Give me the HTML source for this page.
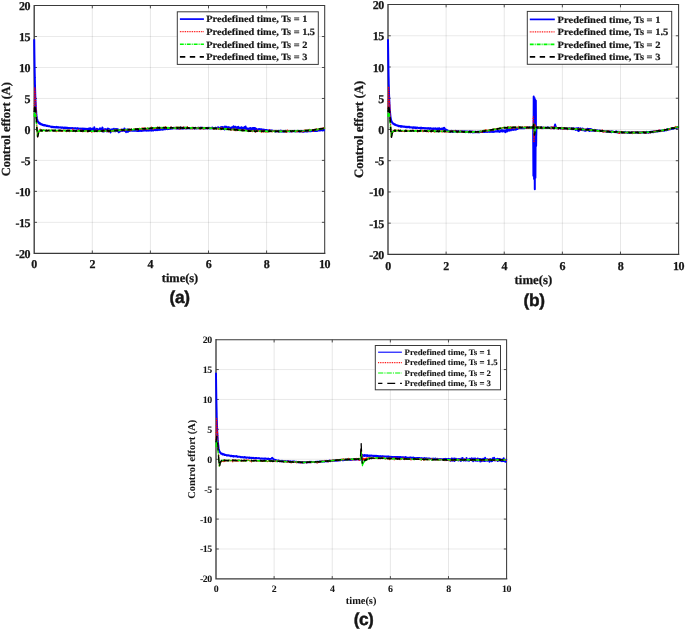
<!DOCTYPE html>
<html><head><meta charset="utf-8"><title>Control effort</title>
<style>html,body{margin:0;padding:0;background:#fff}svg{display:block}</style></head>
<body>
<svg width="685" height="630" viewBox="0 0 685 630" text-rendering="geometricPrecision" font-family='"Liberation Serif", "DejaVu Serif", serif'>
<rect width="685" height="630" fill="#fff"/>
<g>
<line x1="92.30" y1="5.55" x2="92.30" y2="253.30" stroke="#000" stroke-opacity="0.135" stroke-width="0.75"/>
<line x1="150.40" y1="5.55" x2="150.40" y2="253.30" stroke="#000" stroke-opacity="0.135" stroke-width="0.75"/>
<line x1="208.50" y1="5.55" x2="208.50" y2="253.30" stroke="#000" stroke-opacity="0.135" stroke-width="0.75"/>
<line x1="266.60" y1="5.55" x2="266.60" y2="253.30" stroke="#000" stroke-opacity="0.135" stroke-width="0.75"/>
<line x1="34.20" y1="36.52" x2="324.70" y2="36.52" stroke="#000" stroke-opacity="0.135" stroke-width="0.65"/>
<line x1="34.20" y1="67.49" x2="324.70" y2="67.49" stroke="#000" stroke-opacity="0.135" stroke-width="0.65"/>
<line x1="34.20" y1="98.46" x2="324.70" y2="98.46" stroke="#000" stroke-opacity="0.135" stroke-width="0.65"/>
<line x1="34.20" y1="129.43" x2="324.70" y2="129.43" stroke="#000" stroke-opacity="0.135" stroke-width="0.65"/>
<line x1="34.20" y1="160.39" x2="324.70" y2="160.39" stroke="#000" stroke-opacity="0.135" stroke-width="0.65"/>
<line x1="34.20" y1="191.36" x2="324.70" y2="191.36" stroke="#000" stroke-opacity="0.135" stroke-width="0.65"/>
<line x1="34.20" y1="222.33" x2="324.70" y2="222.33" stroke="#000" stroke-opacity="0.135" stroke-width="0.65"/>
<path d="M34.20 5.55H324.70V253.30" fill="none" stroke="#3a3a3a" stroke-width="1.05"/>
<path d="M34.20 5.55V253.30H324.70" fill="none" stroke="#3a3a3a" stroke-width="1.35" stroke-linecap="square"/>
<path d="M92.30 253.30v-2.80M92.30 5.55v2.80M150.40 253.30v-2.80M150.40 5.55v2.80M208.50 253.30v-2.80M208.50 5.55v2.80M266.60 253.30v-2.80M266.60 5.55v2.80M34.20 36.52h2.80M324.70 36.52h-2.80M34.20 67.49h2.80M324.70 67.49h-2.80M34.20 98.46h2.80M324.70 98.46h-2.80M34.20 129.43h2.80M324.70 129.43h-2.80M34.20 160.39h2.80M324.70 160.39h-2.80M34.20 191.36h2.80M324.70 191.36h-2.80M34.20 222.33h2.80M324.70 222.33h-2.80" fill="none" stroke="#3a3a3a" stroke-width="0.9"/>
<clipPath id="clipa"><rect x="33.00" y="5.55" width="292.70" height="247.75"/></clipPath>
<g clip-path="url(#clipa)" fill="none" stroke-linejoin="round">
<path d="M34.2 39.3L34.3 47.8L34.4 54.8L34.5 61.4L34.6 67.6L34.7 72.8L34.8 77.3L34.8 77.9L34.9 81.8L34.9 83.5L35.0 86.1L35.1 89.5L35.2 92.6L35.3 95.7L35.4 98.3L35.5 100.9L35.6 102.7L35.7 104.4L35.7 104.7L35.8 106.8L35.9 107.8L35.9 109.3L36.0 109.7L36.1 110.5L36.2 112.1L36.3 113.4L36.4 114.2L36.5 115.4L36.6 115.6L36.6 116.6L36.7 116.8L36.7 117.0L36.8 117.9L36.8 117.7L36.9 118.7L37.0 119.0L37.1 119.5L37.2 119.4L37.3 119.7L37.4 120.5L37.5 120.5L37.5 120.8L37.6 120.9L37.7 121.3L37.7 121.5L37.8 121.8L37.9 121.6L38.0 121.4L38.1 121.9L38.2 122.2L38.3 121.8L38.3 122.2L38.4 122.4L38.5 122.5L38.6 122.6L38.6 122.7L38.7 123.0L38.8 122.7L38.9 122.9L39.0 122.7L39.1 123.1L39.2 123.5L39.3 123.2L39.4 123.0L39.5 123.4L39.6 123.6L39.7 123.7L39.8 123.7L39.9 123.7L40.0 123.9L40.1 123.4L40.2 123.8L40.3 123.8L40.4 123.6L40.5 123.6L40.6 124.0L40.7 124.0L40.8 123.9L40.9 124.1L41.0 124.5L41.1 124.1L41.2 124.1L41.3 124.2L41.3 124.5L41.4 124.4L41.5 124.5L41.6 124.5L41.7 124.3L41.8 124.2L41.9 124.4L42.0 124.5L42.1 124.5L42.2 124.7L42.3 124.7L42.4 124.9L42.5 124.8L42.6 124.4L42.7 124.7L42.8 125.0L42.9 125.0L43.2 125.2L43.4 125.0L43.6 125.0L43.9 125.4L44.1 125.1L44.4 125.4L44.6 125.1L44.8 125.3L45.1 125.1L45.3 125.6L45.5 125.6L45.8 125.5L46.0 125.4L46.3 125.6L46.5 126.0L46.7 125.7L47.0 125.8L47.2 126.0L47.5 126.1L47.7 125.7L47.9 126.1L48.2 126.2L48.4 126.0L48.7 126.2L48.9 126.3L49.1 126.1L49.4 126.3L49.6 126.3L49.8 126.3L50.1 126.4L50.3 126.7L50.6 126.7L50.8 126.7L51.0 126.7L51.3 126.9L51.5 127.1L51.8 126.8L52.0 127.1L52.2 127.2L52.5 126.8L52.7 127.0L53.0 126.8L53.2 127.0L53.4 127.2L53.7 127.2L53.9 127.1L54.2 127.1L54.4 127.2L54.6 127.1L54.9 127.4L55.1 127.1L55.3 127.4L55.6 127.2L55.8 127.0L56.1 127.0L56.3 126.9L56.5 127.5L56.8 127.1L57.0 127.0L57.3 127.1L57.5 127.5L57.7 127.2L58.0 127.0L58.2 127.6L58.5 127.3L58.7 127.2L58.9 127.5L59.2 127.3L59.4 127.6L59.6 127.6L59.9 127.6L60.1 127.5L60.4 127.5L60.6 127.4L60.8 127.7L61.1 127.6L61.3 127.4L61.6 127.5L61.8 127.9L62.0 127.5L62.3 127.8L62.5 127.6L62.8 127.6L63.0 127.5L63.2 127.7L63.5 128.1L63.7 128.0L64.0 127.7L64.2 127.9L64.4 127.6L64.7 127.8L64.9 128.0L65.1 127.7L65.4 128.0L65.6 128.3L65.9 127.5L66.1 128.3L66.3 127.8L66.6 127.8L66.8 128.0L67.1 128.3L67.3 127.8L67.5 128.3L67.8 128.3L68.0 128.1L68.3 127.9L68.5 128.0L68.7 127.9L69.0 128.2L69.2 128.1L69.4 128.3L69.7 128.2L69.9 128.0L70.2 128.2L70.4 128.1L70.6 128.3L70.9 128.3L71.1 128.2L71.4 128.3L71.6 128.1L71.8 128.2L72.1 128.0L72.3 128.3L72.6 128.3L72.8 128.5L73.0 128.3L73.3 128.2L73.5 128.5L73.8 128.4L74.0 128.2L74.2 128.4L74.5 128.5L74.7 128.2L74.9 128.4L75.2 128.4L75.4 128.2L75.7 128.3L75.9 128.6L76.1 128.6L76.4 128.5L76.6 128.6L76.9 128.9L77.1 128.3L77.3 128.6L77.6 128.4L77.8 128.8L78.1 128.4L78.3 128.7L78.5 128.7L78.8 128.9L79.0 128.7L79.3 128.7L79.5 128.7L79.7 128.6L80.0 128.7L80.2 128.6L80.4 128.8L80.7 128.9L80.9 128.8L81.2 128.7L81.4 128.6L81.6 128.7L81.9 129.2L82.1 128.8L82.4 128.6L82.6 128.9L82.8 129.0L83.1 128.8L83.3 129.0L83.6 128.8L83.8 128.9L84.0 128.6L84.3 128.8L84.5 129.2L84.7 128.8L85.0 128.7L85.2 129.2L85.5 129.2L85.7 129.8L85.9 128.7L86.2 129.3L86.4 129.9L86.7 129.8L86.9 129.2L87.1 128.8L87.4 129.2L87.6 129.0L87.9 129.7L88.1 129.9L88.3 128.8L88.6 129.0L88.8 129.3L89.1 128.6L89.3 129.9L89.5 129.6L89.8 128.7L90.0 128.2L90.2 129.4L90.3 128.3L90.5 129.8L90.7 129.2L91.0 129.6L91.2 130.6L91.4 129.3L91.7 128.8L91.7 129.6L91.9 129.6L92.2 128.4L92.4 130.6L92.6 130.8L92.9 130.1L93.1 130.5L93.4 128.5L93.6 129.3L93.8 130.3L94.1 130.1L94.3 127.3L94.6 130.1L94.8 130.2L95.0 129.4L95.3 129.1L95.5 129.4L95.7 130.4L96.0 130.6L96.2 129.2L96.5 129.7L96.7 131.0L96.9 128.7L97.2 129.0L97.4 129.9L97.7 129.9L97.9 129.5L98.1 130.2L98.4 130.8L98.6 129.4L98.9 130.8L99.1 129.4L99.3 130.9L99.6 129.8L99.8 129.8L100.0 128.3L100.3 130.6L100.5 130.9L100.8 130.2L101.0 130.6L101.2 130.2L101.5 129.4L101.7 129.1L102.0 128.4L102.2 130.4L102.4 127.6L102.7 128.2L102.9 129.9L103.2 131.6L103.4 129.9L103.6 129.7L103.9 131.6L104.1 129.7L104.3 130.0L104.6 130.4L104.8 129.3L105.1 129.0L105.3 130.2L105.5 129.6L105.8 130.4L106.0 130.5L106.3 129.8L106.5 129.4L106.7 130.3L107.0 131.6L107.2 129.4L107.5 131.2L107.7 129.8L107.9 128.4L108.2 129.9L108.4 130.9L108.7 131.1L108.9 129.0L109.1 129.9L109.4 129.5L109.6 129.2L109.8 130.0L110.1 130.2L110.3 130.7L110.6 132.4L110.8 131.2L111.0 130.0L111.3 130.1L111.5 129.6L111.8 130.1L112.0 129.8L112.2 129.3L112.5 130.7L112.7 130.2L113.0 131.3L113.2 129.2L113.4 130.0L113.7 129.6L113.9 128.8L114.2 129.1L114.4 130.1L114.6 129.4L114.9 131.2L115.1 129.7L115.3 129.9L115.6 131.3L115.8 129.0L116.1 130.6L116.3 129.5L116.5 130.4L116.8 129.3L117.0 129.0L117.3 130.7L117.5 131.3L117.7 130.2L118.0 129.4L118.2 130.4L118.5 130.6L118.7 129.7L118.9 132.3L119.2 130.7L119.4 131.2L119.7 129.9L119.9 130.7L120.1 131.0L120.4 130.4L120.6 131.3L120.8 130.2L121.1 130.7L121.3 130.5L121.6 130.8L121.8 129.4L122.0 130.3L122.3 129.8L122.5 129.8L122.8 130.9L123.0 129.8L123.2 129.9L123.5 130.0L123.7 130.6L124.0 130.6L124.2 129.6L124.4 128.5L124.7 130.9L124.9 129.9L125.1 130.5L125.4 129.7L125.6 130.0L125.9 129.6L126.1 132.2L126.3 130.7L126.6 130.9L126.8 130.4L127.1 130.8L127.3 130.7L127.5 130.0L127.8 129.3L128.0 131.9L128.3 130.5L128.5 130.2L128.7 130.4L129.0 130.5L129.2 131.0L129.5 130.8L129.7 130.1L129.9 130.0L130.2 130.4L130.4 130.7L130.6 130.4L130.9 130.5L131.1 130.3L131.4 130.4L131.6 130.6L131.8 130.4L132.1 130.8L132.3 130.3L132.6 130.2L132.8 130.7L133.0 130.4L133.3 130.7L133.5 130.3L133.8 130.4L134.0 130.6L134.2 130.3L134.5 130.6L134.7 130.7L135.0 130.7L135.2 130.6L135.4 130.6L135.7 130.5L135.9 130.7L136.1 130.4L136.4 130.4L136.6 130.7L136.9 130.9L137.1 130.5L137.3 130.4L137.6 130.7L137.8 130.9L138.1 130.6L138.3 130.4L138.5 131.0L138.8 130.6L139.0 130.7L139.3 130.8L139.5 130.5L139.7 130.9L140.0 130.6L140.2 130.4L140.4 130.6L140.7 130.8L140.9 130.9L141.2 130.8L141.4 130.9L141.6 130.3L141.9 130.6L142.1 130.7L142.4 130.8L142.6 130.7L142.8 130.6L143.1 130.7L143.3 130.2L143.6 130.6L143.8 130.6L144.0 130.4L144.3 130.2L144.5 130.2L144.7 130.5L145.0 130.4L145.2 130.4L145.5 130.3L145.7 130.4L145.9 130.6L146.2 130.6L146.4 130.4L146.7 130.6L146.9 130.1L147.1 130.4L147.4 130.5L147.6 130.4L147.9 130.4L148.1 130.4L148.3 130.1L148.6 130.6L148.8 130.7L149.1 130.2L149.3 130.3L149.5 130.3L149.8 130.2L150.0 130.3L150.2 130.1L150.5 130.4L150.7 130.2L151.0 130.4L151.2 130.4L151.4 130.1L151.7 130.1L151.9 130.6L152.2 130.4L152.4 130.1L152.6 130.0L152.9 130.3L153.1 130.2L153.4 130.4L153.6 129.7L153.8 130.0L154.1 130.0L154.3 130.0L154.6 129.9L154.8 130.0L155.0 130.1L155.3 129.9L155.5 130.1L155.7 129.8L156.0 130.2L156.2 130.1L156.5 129.9L156.7 129.8L156.9 129.9L157.2 130.1L157.4 129.9L157.7 130.0L157.9 129.5L158.1 129.7L158.4 129.6L158.6 129.7L158.9 129.9L159.1 129.5L159.3 129.4L159.6 129.6L159.8 129.7L160.1 129.4L160.3 129.7L160.5 129.4L160.8 129.7L161.0 129.7L161.2 129.4L161.5 129.4L161.7 129.1L162.0 129.5L162.2 129.4L162.4 129.6L162.7 129.7L162.9 129.7L163.2 129.2L163.4 129.5L163.6 129.0L163.9 129.0L164.1 129.3L164.4 128.9L164.6 129.1L164.8 128.9L165.1 129.1L165.3 128.9L165.5 129.2L165.8 128.9L166.0 129.1L166.3 129.0L166.5 128.8L166.7 128.9L167.0 128.9L167.2 128.7L167.5 128.7L167.7 129.1L167.9 128.7L168.2 128.6L168.4 128.9L168.7 128.6L168.9 128.9L169.1 128.4L169.4 128.7L169.6 128.6L169.9 128.4L170.1 128.6L170.3 128.4L170.6 128.7L170.8 128.6L171.0 128.7L171.3 128.5L171.5 128.2L171.8 128.3L172.0 128.2L172.2 128.5L172.5 128.5L172.7 128.4L173.0 128.2L173.2 128.2L173.4 128.2L173.7 128.1L173.9 128.2L174.2 128.2L174.4 127.9L174.6 128.3L174.9 128.1L175.1 127.9L175.4 128.2L175.6 128.0L175.8 128.3L176.1 127.8L176.3 128.6L176.5 128.4L176.6 128.4L176.7 127.9L176.8 128.1L176.9 128.2L177.0 128.4L177.1 128.1L177.2 128.2L177.3 128.3L177.4 128.4L177.5 128.4L177.6 128.1L177.7 128.1L177.8 128.2L177.9 128.2L178.0 128.5L178.1 128.2L178.2 128.4L178.3 128.2L178.4 128.1L178.5 128.3L178.6 128.4L178.7 128.0L178.8 128.1L178.9 128.3L178.9 128.7L179.0 128.2L179.1 128.1L179.2 128.0L179.2 128.3L179.3 128.3L179.3 128.2L179.4 128.0L179.4 128.4L179.5 128.2L179.6 128.3L179.6 128.1L179.7 128.5L179.7 128.1L179.8 128.3L179.9 128.2L179.9 128.1L180.0 128.0L180.0 128.5L180.1 128.0L180.2 128.1L180.3 128.2L180.3 127.9L180.3 128.1L180.4 127.9L180.5 128.3L180.5 128.3L180.6 127.9L180.6 127.8L180.7 128.0L180.8 128.0L180.9 128.2L180.9 128.4L181.0 128.2L181.1 127.9L181.2 128.5L181.2 128.3L181.3 128.5L181.4 128.1L181.5 128.0L181.5 128.4L181.6 128.2L181.7 127.9L181.8 128.2L181.9 128.4L181.9 128.4L182.0 128.5L182.1 128.0L182.1 128.3L182.2 128.0L182.3 128.0L182.4 128.3L182.4 128.3L182.5 128.0L182.6 128.1L182.7 128.1L182.8 128.5L182.9 128.0L183.0 128.3L183.1 128.6L183.2 128.3L183.3 128.1L183.4 127.8L183.5 128.2L183.6 128.4L183.7 127.8L183.8 128.1L183.9 128.2L184.0 128.3L184.1 128.3L184.2 127.9L184.3 128.2L184.4 128.2L184.5 128.2L184.6 127.9L184.6 128.3L184.7 128.0L184.8 128.1L184.9 128.1L185.0 128.3L185.1 128.0L185.2 127.8L185.3 128.2L185.4 128.3L185.5 128.4L185.6 128.1L185.7 128.2L185.8 128.2L185.9 128.1L186.0 128.4L186.1 128.0L186.2 128.1L186.3 128.2L186.4 128.1L186.5 128.0L186.6 128.1L186.7 128.3L186.8 127.9L186.9 128.2L187.0 128.3L187.1 128.4L187.2 128.1L187.3 128.3L187.4 128.2L187.5 128.1L187.6 128.1L187.7 127.9L187.8 128.1L187.9 128.2L188.0 128.2L188.1 128.2L188.2 128.0L188.4 128.1L188.7 128.2L188.9 128.0L189.1 128.1L189.4 128.2L189.6 128.4L189.9 128.0L190.1 128.1L190.4 128.1L190.6 128.2L190.9 128.3L191.1 128.2L191.3 128.1L191.6 128.1L191.8 128.1L192.1 128.2L192.3 128.1L192.6 128.1L192.8 128.3L193.1 128.0L193.3 128.0L193.5 128.0L193.8 128.1L194.0 128.1L194.3 128.3L194.5 128.0L194.8 128.5L195.0 128.2L195.2 128.2L195.5 127.9L195.7 128.1L196.0 128.3L196.2 128.4L196.5 128.2L196.7 128.1L197.0 128.1L197.2 128.1L197.4 128.2L197.7 128.1L197.9 127.9L198.2 128.3L198.4 128.1L198.7 127.8L198.9 128.0L199.2 128.2L199.4 128.0L199.6 128.2L199.9 128.1L200.1 127.8L200.4 127.7L200.4 128.4L200.6 128.0L200.9 127.7L201.1 128.2L201.2 128.0L201.4 127.8L201.6 128.2L201.8 128.0L202.1 128.1L202.1 128.4L202.3 128.0L202.6 128.1L202.8 127.9L203.1 127.7L203.3 128.0L203.6 128.1L203.8 128.0L204.0 128.0L204.3 127.9L204.5 128.3L204.8 128.3L205.0 128.5L205.3 128.0L205.5 128.1L205.8 128.2L206.0 128.2L206.2 128.2L206.5 128.2L206.7 128.1L207.0 128.2L207.2 127.8L207.5 128.0L207.7 128.2L207.9 128.2L208.2 127.8L208.4 128.0L208.7 128.0L208.9 127.9L209.2 127.8L209.4 128.3L209.7 128.2L209.9 128.4L210.1 128.0L210.4 128.1L210.6 128.2L210.9 128.2L211.1 127.9L211.4 128.1L211.6 128.2L211.9 127.8L212.1 128.3L212.3 128.3L212.6 127.6L212.8 128.1L213.1 128.2L213.3 128.2L213.6 128.1L213.8 127.9L214.1 127.9L214.3 128.0L214.5 128.1L214.8 128.4L215.0 128.0L215.3 127.7L215.5 127.8L215.8 128.1L216.0 127.8L216.3 128.2L216.5 128.1L216.7 128.5L217.0 128.2L217.2 128.0L217.5 128.1L217.7 127.7L218.0 127.2L218.2 127.5L218.5 128.2L218.7 128.4L218.9 128.4L219.2 128.6L219.4 128.0L219.7 127.8L219.9 128.0L220.2 127.9L220.4 128.0L220.6 128.1L220.9 128.5L221.1 126.9L221.4 127.3L221.6 128.7L221.9 128.7L222.1 128.5L222.4 128.0L222.6 127.1L222.8 127.3L223.1 127.2L223.3 127.2L223.6 127.2L223.8 127.5L224.1 127.7L224.3 128.2L224.6 129.5L224.8 128.2L225.0 126.6L225.3 128.5L225.5 128.6L225.8 127.2L226.0 128.0L226.3 128.4L226.5 126.8L226.8 127.6L227.0 127.5L227.2 128.5L227.5 127.7L227.7 127.8L228.0 127.4L228.2 127.1L228.5 127.2L228.7 127.9L229.0 127.5L229.2 129.0L229.4 127.5L229.7 127.5L229.9 128.4L230.2 128.7L230.4 128.1L230.7 129.0L230.9 127.8L231.2 127.8L231.4 128.8L231.6 128.0L231.9 127.2L232.1 127.2L232.4 127.2L232.6 128.2L232.9 128.3L233.1 128.4L233.4 127.6L233.6 126.2L233.8 126.9L234.1 126.8L234.3 127.0L234.6 129.4L234.8 128.2L235.1 128.4L235.3 127.1L235.5 126.7L235.8 128.6L236.0 128.0L236.3 127.6L236.5 128.5L236.8 128.6L237.0 128.6L237.3 127.3L237.5 128.8L237.7 127.2L238.0 128.0L238.2 127.5L238.5 126.9L238.7 128.7L239.0 128.8L239.2 127.8L239.5 129.0L239.7 128.8L239.9 128.3L240.2 128.1L240.4 129.2L240.7 128.5L240.9 127.8L241.2 127.2L241.4 129.8L241.7 127.2L241.9 127.6L242.1 129.2L242.4 129.5L242.6 128.0L242.9 128.7L243.1 128.2L243.4 127.7L243.6 128.7L243.9 128.2L244.1 128.0L244.3 127.7L244.6 127.0L244.8 127.1L245.1 128.2L245.3 128.6L245.6 126.6L245.8 128.0L246.1 128.1L246.3 129.4L246.5 127.9L246.8 129.1L247.0 128.9L247.3 129.6L247.5 129.0L247.8 128.5L248.0 129.8L248.2 129.3L248.5 128.7L248.7 129.6L249.0 129.6L249.2 129.3L249.5 129.8L249.7 128.2L250.0 129.5L250.2 128.1L250.4 128.0L250.7 129.7L250.9 128.7L251.2 129.1L251.4 129.7L251.7 129.0L251.9 129.0L252.2 128.2L252.4 128.0L252.6 129.7L252.9 129.1L253.1 128.5L253.4 128.0L253.6 130.6L253.9 128.0L254.1 129.0L254.4 127.9L254.6 129.2L254.8 129.4L255.1 128.9L255.3 128.3L255.6 129.0L255.8 130.3L256.1 128.7L256.3 129.9L256.6 129.6L256.8 129.7L257.0 130.0L257.3 129.7L257.5 129.6L257.8 129.5L258.0 129.3L258.3 129.4L258.5 129.8L258.8 129.4L259.0 129.1L259.2 129.1L259.5 129.4L259.7 129.3L260.0 129.3L260.2 129.2L260.5 129.2L260.7 129.6L260.9 129.6L261.2 129.3L261.4 129.3L261.7 129.4L261.9 130.1L262.2 129.8L262.4 130.3L262.7 129.6L262.9 129.8L263.1 129.8L263.4 129.9L263.6 129.6L263.9 130.0L264.1 129.7L264.4 129.9L264.6 129.9L264.9 129.9L265.1 130.0L265.3 130.3L265.6 130.0L265.8 130.0L266.1 130.2L266.3 130.0L266.6 130.0L266.8 130.5L267.1 130.3L267.3 130.4L267.5 130.5L267.8 130.3L268.0 130.5L268.3 130.5L268.5 130.4L268.8 130.4L269.0 130.4L269.3 130.1L269.5 130.6L269.7 130.5L270.0 130.8L270.2 130.5L270.5 130.4L270.7 130.4L271.0 130.8L271.2 130.8L271.5 130.5L271.7 130.8L271.9 130.6L272.2 131.0L272.4 130.6L272.7 130.7L272.9 130.8L273.2 131.1L273.4 131.0L273.7 130.9L273.9 131.0L274.1 131.1L274.4 131.1L274.6 131.0L274.9 130.9L275.1 131.5L275.4 131.4L275.6 131.4L275.8 131.3L276.1 131.5L276.3 131.1L276.6 131.1L276.8 131.2L277.1 131.3L277.3 131.1L277.6 131.1L277.8 131.1L278.0 131.3L278.3 131.1L278.5 131.4L278.8 130.9L279.0 131.7L279.3 131.3L279.5 131.4L279.8 131.0L280.0 131.5L280.2 130.8L280.5 131.5L280.7 130.8L281.0 131.1L281.2 131.2L281.5 131.1L281.7 130.8L282.0 131.0L282.2 131.6L282.4 131.0L282.7 131.1L282.9 131.5L283.2 131.1L283.4 131.4L283.7 131.2L283.9 131.2L284.2 131.3L284.4 131.1L284.6 131.4L284.9 131.2L285.1 131.3L285.4 131.2L285.6 130.8L285.9 131.2L286.1 131.4L286.4 131.2L286.6 131.4L286.8 131.2L287.1 131.2L287.3 131.2L287.6 131.2L287.8 131.3L288.1 131.1L288.3 131.0L288.6 131.3L288.8 131.2L289.0 131.2L289.3 131.0L289.5 131.0L289.8 131.4L290.0 131.2L290.3 131.5L290.5 131.4L290.7 131.2L291.0 131.1L291.2 131.0L291.5 131.3L291.7 131.5L292.0 131.2L292.2 131.3L292.5 131.2L292.7 131.2L292.9 131.1L293.2 131.1L293.4 131.1L293.7 131.3L293.9 131.1L294.2 131.3L294.4 131.2L294.7 130.9L294.9 131.2L295.1 131.5L295.4 131.0L295.6 131.1L295.9 131.0L296.1 131.2L296.4 131.2L296.6 131.3L296.9 131.4L297.1 131.0L297.3 131.3L297.6 131.3L297.8 131.3L298.1 130.9L298.3 131.1L298.6 131.3L298.8 131.3L299.1 131.2L299.3 131.1L299.5 131.6L299.8 131.1L300.0 131.3L300.3 131.4L300.5 131.3L300.8 131.1L301.0 130.9L301.3 131.2L301.5 131.2L301.7 131.4L302.0 131.2L302.2 131.1L302.5 131.6L302.7 131.4L303.0 131.1L303.2 131.6L303.4 131.3L303.7 131.2L303.9 131.6L304.2 131.4L304.4 131.3L304.7 131.1L304.9 131.5L305.2 131.0L305.4 131.2L305.6 131.0L305.9 131.0L306.1 131.1L306.4 131.1L306.6 131.5L306.9 131.4L307.1 131.3L307.4 131.2L307.6 130.9L307.8 131.4L308.1 131.1L308.3 131.3L308.6 131.3L308.8 130.8L309.1 131.0L309.3 130.7L309.6 130.8L309.8 131.2L310.0 131.3L310.3 130.6L310.5 131.0L310.8 131.2L311.0 130.8L311.3 130.9L311.5 131.0L311.8 131.0L312.0 130.8L312.2 130.8L312.5 130.7L312.7 130.9L313.0 130.9L313.2 130.7L313.5 130.7L313.7 130.6L314.0 130.8L314.2 130.8L314.4 131.0L314.7 130.5L314.9 131.0L315.2 130.7L315.4 130.9L315.7 130.6L315.9 130.5L316.2 131.0L316.4 130.7L316.6 130.9L316.9 130.3L317.1 130.7L317.4 130.9L317.6 130.7L317.9 130.3L318.1 130.2L318.3 130.3L318.6 130.6L318.8 130.5L319.1 130.1L319.3 130.6L319.6 130.5L319.8 130.6L320.1 130.6L320.3 130.1L320.5 130.2L320.8 130.2L321.0 130.2L321.3 130.1L321.5 130.0L321.8 130.3L322.0 130.3L322.3 130.4L322.5 130.0L322.7 130.3L323.0 130.4L323.2 130.2L323.5 130.1L323.7 130.0L324.0 129.9L324.2 130.2L324.5 130.2L324.7 130.1" stroke="#0000ff" stroke-width="2.00"/>
<path d="M34.2 109.3L34.3 105.3L34.4 101.5L34.5 98.1L34.6 95.3L34.7 91.5L34.8 87.2L34.8 88.3L34.9 89.0L34.9 89.7L35.0 91.0L35.1 92.8L35.2 93.8L35.3 95.8L35.4 97.0L35.5 98.4L35.6 100.3L35.7 101.3L35.7 101.6L35.8 103.5L35.9 104.6L35.9 106.0L36.0 106.9L36.1 108.3L36.2 110.4L36.3 112.7L36.4 115.4L36.5 116.2L36.6 118.4L36.6 120.5L36.7 121.1L36.7 123.4L36.8 124.2L36.8 125.2L36.9 125.5L37.0 128.4L37.1 129.5L37.2 132.2L37.3 133.7L37.4 135.0L37.5 136.2L37.5 136.4L37.6 136.0L37.7 136.6L37.7 135.1L37.8 135.4L37.9 133.7L38.0 133.0L38.1 132.9L38.2 132.2L38.3 132.9L38.3 131.2L38.4 132.1L38.5 131.7L38.6 132.4L38.6 132.0L38.7 132.4L38.8 131.9L38.9 131.7L39.0 131.5L39.1 130.9L39.2 131.2L39.3 131.2L39.4 131.1L39.5 130.2L39.6 131.2L39.7 130.3L39.8 131.6L39.9 131.0L40.0 130.4L40.1 130.6L40.2 129.2L40.3 129.4L40.4 131.2L40.5 131.0L40.6 130.6L40.7 129.8L40.8 130.0L40.9 130.4L41.0 131.1L41.1 130.9L41.2 131.7L41.3 131.2L41.3 130.3L41.4 130.2L41.5 131.1L41.6 130.5L41.7 129.8L41.8 130.4L41.9 130.6L42.0 130.2L42.1 130.3L42.2 130.5L42.3 130.7L42.4 130.7L42.5 130.5L42.6 130.8L42.7 129.9L42.8 130.1L42.9 130.0L43.2 129.6L43.4 129.8L43.6 129.9L43.9 130.4L44.1 130.6L44.4 129.5L44.6 130.8L44.8 130.8L45.1 130.9L45.3 130.4L45.5 130.3L45.8 130.1L46.0 130.6L46.3 131.3L46.5 130.4L46.7 130.1L47.0 130.5L47.2 130.6L47.5 130.3L47.7 129.9L47.9 130.6L48.2 131.2L48.4 130.8L48.7 130.6L48.9 131.3L49.1 130.2L49.4 130.9L49.6 130.3L49.8 130.5L50.1 130.7L50.3 129.8L50.6 130.8L50.8 130.8L51.0 130.4L51.3 130.2L51.5 130.6L51.8 131.0L52.0 130.3L52.2 130.3L52.5 129.7L52.7 130.7L53.0 130.5L53.2 130.8L53.4 131.2L53.7 130.5L53.9 130.2L54.2 131.0L54.4 130.9L54.6 131.1L54.9 130.0L55.1 130.8L55.3 130.3L55.6 130.9L55.8 130.5L56.1 130.8L56.3 131.6L56.5 130.5L56.8 130.3L57.0 131.5L57.3 130.7L57.5 130.8L57.7 131.0L58.0 130.7L58.2 131.4L58.5 130.5L58.7 130.1L58.9 131.1L59.2 130.6L59.4 130.0L59.6 130.5L59.9 130.8L60.1 131.0L60.4 130.5L60.6 130.6L60.8 130.3L61.1 131.3L61.3 130.1L61.6 130.8L61.8 130.3L62.0 130.9L62.3 131.2L62.5 130.9L62.8 131.0L63.0 130.8L63.2 130.3L63.5 130.1L63.7 130.5L64.0 130.9L64.2 130.8L64.4 130.4L64.7 130.1L64.9 130.8L65.1 130.7L65.4 131.0L65.6 130.6L65.9 130.2L66.1 131.9L66.3 130.6L66.6 130.9L66.8 131.7L67.1 130.5L67.3 130.7L67.5 130.5L67.8 131.3L68.0 129.8L68.3 130.6L68.5 130.9L68.7 130.0L69.0 130.4L69.2 130.4L69.4 130.2L69.7 131.6L69.9 130.0L70.2 130.9L70.4 130.6L70.6 130.3L70.9 131.1L71.1 130.6L71.4 130.4L71.6 130.8L71.8 130.6L72.1 131.5L72.3 131.3L72.6 131.3L72.8 130.6L73.0 129.2L73.3 130.7L73.5 130.9L73.8 130.8L74.0 130.4L74.2 130.5L74.5 131.3L74.7 130.4L74.9 130.8L75.2 130.5L75.4 131.7L75.7 131.5L75.9 130.6L76.1 131.6L76.4 130.7L76.6 130.7L76.9 130.8L77.1 130.7L77.3 130.8L77.6 130.7L77.8 131.1L78.1 130.9L78.3 129.6L78.5 130.4L78.8 130.6L79.0 130.7L79.3 131.2L79.5 130.8L79.7 131.0L80.0 130.5L80.2 131.3L80.4 132.0L80.7 131.2L80.9 130.6L81.2 129.9L81.4 130.5L81.6 131.4L81.9 131.1L82.1 131.4L82.4 131.0L82.6 131.4L82.8 131.7L83.1 130.8L83.3 130.9L83.6 131.1L83.8 130.8L84.0 130.1L84.3 131.0L84.5 131.2L84.7 130.6L85.0 131.7L85.2 130.7L85.5 131.4L85.7 131.4L85.9 131.0L86.2 130.3L86.4 131.4L86.7 130.6L86.9 130.9L87.1 131.7L87.4 130.7L87.6 131.4L87.9 131.7L88.1 131.4L88.3 131.4L88.6 130.8L88.8 131.4L89.1 130.4L89.3 131.0L89.5 131.4L89.8 131.5L90.0 131.0L90.2 132.0L90.3 132.1L90.5 131.5L90.7 130.9L91.0 131.0L91.2 131.1L91.4 131.2L91.7 132.1L91.7 131.3L91.9 131.9L92.2 130.8L92.4 131.1L92.6 131.2L92.9 131.0L93.1 131.0L93.4 131.0L93.6 131.0L93.8 131.4L94.1 131.7L94.3 131.0L94.6 130.5L94.8 130.7L95.0 131.2L95.3 130.8L95.5 131.3L95.7 130.9L96.0 131.3L96.2 131.0L96.5 130.2L96.7 130.7L96.9 130.4L97.2 131.4L97.4 131.3L97.7 131.1L97.9 130.8L98.1 131.1L98.4 130.6L98.6 131.3L98.9 130.4L99.1 130.6L99.3 131.5L99.6 130.8L99.8 131.1L100.0 130.6L100.3 131.2L100.5 130.8L100.8 130.7L101.0 132.2L101.2 131.8L101.5 130.9L101.7 131.0L102.0 130.5L102.2 130.9L102.4 131.5L102.7 130.8L102.9 131.3L103.2 131.0L103.4 131.1L103.6 130.8L103.9 131.5L104.1 131.4L104.3 131.9L104.6 130.0L104.8 131.3L105.1 131.3L105.3 131.4L105.5 131.2L105.8 131.1L106.0 130.6L106.3 130.8L106.5 130.7L106.7 131.1L107.0 130.9L107.2 130.3L107.5 130.8L107.7 130.7L107.9 131.7L108.2 130.6L108.4 130.7L108.7 130.2L108.9 132.0L109.1 130.8L109.4 130.8L109.6 130.7L109.8 131.0L110.1 130.7L110.3 130.4L110.6 130.7L110.8 130.8L111.0 130.8L111.3 130.9L111.5 130.7L111.8 131.0L112.0 131.5L112.2 130.1L112.5 131.4L112.7 130.7L113.0 131.2L113.2 130.7L113.4 131.0L113.7 130.6L113.9 130.9L114.2 131.1L114.4 130.4L114.6 129.9L114.9 130.3L115.1 130.4L115.3 130.9L115.6 130.5L115.8 130.3L116.1 130.7L116.3 130.0L116.5 130.4L116.8 130.2L117.0 130.6L117.3 130.6L117.5 130.3L117.7 130.2L118.0 130.2L118.2 130.7L118.5 130.6L118.7 130.3L118.9 131.1L119.2 129.8L119.4 130.1L119.7 130.2L119.9 130.5L120.1 129.8L120.4 130.3L120.6 129.3L120.8 130.0L121.1 130.8L121.3 129.8L121.6 130.3L121.8 130.3L122.0 130.2L122.3 130.1L122.5 130.0L122.8 129.7L123.0 129.8L123.2 130.3L123.5 130.6L123.7 130.3L124.0 129.8L124.2 129.6L124.4 129.2L124.7 130.5L124.9 129.9L125.1 130.0L125.4 130.1L125.6 129.8L125.9 130.0L126.1 130.0L126.3 130.1L126.6 129.7L126.8 129.4L127.1 129.1L127.3 130.0L127.5 130.2L127.8 129.9L128.0 130.1L128.3 129.3L128.5 130.1L128.7 129.7L129.0 130.3L129.2 129.8L129.5 129.6L129.7 129.0L129.9 129.9L130.2 129.5L130.4 130.5L130.6 130.1L130.9 129.9L131.1 129.8L131.4 129.4L131.6 129.3L131.8 130.2L132.1 129.3L132.3 130.0L132.6 128.7L132.8 129.3L133.0 129.4L133.3 129.5L133.5 129.4L133.8 129.4L134.0 129.7L134.2 129.0L134.5 129.2L134.7 129.0L135.0 129.4L135.2 129.0L135.4 129.6L135.7 127.7L135.9 129.6L136.1 129.4L136.4 128.8L136.6 128.7L136.9 129.5L137.1 129.9L137.3 129.8L137.6 129.6L137.8 129.5L138.1 129.2L138.3 128.7L138.5 128.6L138.8 129.3L139.0 128.8L139.3 128.7L139.5 128.4L139.7 129.1L140.0 129.3L140.2 128.7L140.4 128.3L140.7 129.2L140.9 128.1L141.2 128.2L141.4 129.0L141.6 129.6L141.9 129.1L142.1 129.0L142.4 128.6L142.6 129.6L142.8 127.8L143.1 127.8L143.3 129.1L143.6 129.6L143.8 128.8L144.0 128.6L144.3 128.1L144.5 128.4L144.7 128.8L145.0 129.5L145.2 128.4L145.5 128.3L145.7 128.8L145.9 128.5L146.2 128.5L146.4 128.7L146.7 129.1L146.9 128.4L147.1 129.2L147.4 127.9L147.6 128.9L147.9 128.3L148.1 128.8L148.3 128.3L148.6 128.5L148.8 128.2L149.1 128.8L149.3 129.1L149.5 128.5L149.8 128.5L150.0 129.0L150.2 128.7L150.5 129.1L150.7 128.3L151.0 128.5L151.2 128.3L151.4 127.1L151.7 128.2L151.9 128.1L152.2 128.0L152.4 128.3L152.6 128.5L152.9 127.8L153.1 127.7L153.4 129.4L153.6 128.2L153.8 128.3L154.1 128.4L154.3 127.6L154.6 128.3L154.8 127.7L155.0 128.3L155.3 128.2L155.5 127.7L155.7 128.3L156.0 128.1L156.2 128.5L156.5 128.3L156.7 127.6L156.9 127.7L157.2 128.4L157.4 128.4L157.7 126.8L157.9 128.2L158.1 128.2L158.4 127.6L158.6 128.2L158.9 128.0L159.1 127.4L159.3 127.4L159.6 127.9L159.8 127.2L160.1 127.9L160.3 127.9L160.5 127.8L160.8 127.9L161.0 127.6L161.2 127.7L161.5 128.1L161.7 127.7L162.0 128.0L162.2 128.1L162.4 127.9L162.7 127.4L162.9 127.7L163.2 127.3L163.4 127.1L163.6 127.8L163.9 128.1L164.1 128.2L164.4 127.7L164.6 127.4L164.8 127.1L165.1 128.4L165.3 127.4L165.5 127.4L165.8 126.8L166.0 127.7L166.3 127.8L166.5 128.5L166.7 128.2L167.0 128.3L167.2 128.3L167.5 128.2L167.7 128.5L167.9 127.9L168.2 127.7L168.4 127.5L168.7 127.9L168.9 127.4L169.1 127.4L169.4 128.5L169.6 128.0L169.9 128.4L170.1 128.3L170.3 127.8L170.6 127.9L170.8 127.2L171.0 127.0L171.3 127.7L171.5 127.9L171.8 127.9L172.0 127.8L172.2 127.6L172.5 128.2L172.7 127.6L173.0 128.0L173.2 127.4L173.4 127.3L173.7 127.1L173.9 127.9L174.2 128.4L174.4 128.6L174.6 128.0L174.9 128.5L175.1 128.6L175.4 128.0L175.6 128.3L175.8 127.6L176.1 127.0L176.3 128.0L176.5 127.7L176.6 128.5L176.7 127.8L176.8 128.2L176.9 128.3L177.0 128.7L177.1 127.2L177.2 128.6L177.3 128.4L177.4 127.9L177.5 127.7L177.6 127.7L177.7 127.8L177.8 128.2L177.9 127.5L178.0 127.8L178.1 128.5L178.2 127.2L178.3 128.0L178.4 127.5L178.5 128.5L178.6 128.4L178.7 128.1L178.8 128.2L178.9 127.4L178.9 128.6L179.0 127.8L179.1 128.3L179.2 127.6L179.2 127.8L179.3 128.1L179.3 126.9L179.4 127.9L179.4 127.4L179.5 128.4L179.6 127.9L179.6 127.8L179.7 127.8L179.7 128.0L179.8 128.2L179.9 129.2L179.9 128.1L180.0 128.3L180.0 128.0L180.1 127.5L180.2 126.9L180.3 127.6L180.3 127.4L180.3 127.6L180.4 127.5L180.5 127.6L180.5 128.0L180.6 128.0L180.6 127.7L180.7 127.1L180.8 127.5L180.9 127.2L180.9 128.4L181.0 127.7L181.1 127.7L181.2 127.6L181.2 128.5L181.3 128.7L181.4 128.8L181.5 128.0L181.5 126.8L181.6 127.8L181.7 128.4L181.8 127.7L181.9 128.0L181.9 127.8L182.0 128.1L182.1 128.4L182.1 128.1L182.2 127.6L182.3 127.7L182.4 127.3L182.4 128.3L182.5 127.4L182.6 127.8L182.7 127.8L182.8 127.3L182.9 127.9L183.0 127.8L183.1 127.6L183.2 127.6L183.3 127.5L183.4 127.3L183.5 127.6L183.6 128.0L183.7 126.8L183.8 127.9L183.9 127.7L184.0 128.2L184.1 128.8L184.2 128.2L184.3 127.8L184.4 127.6L184.5 127.8L184.6 127.5L184.6 127.4L184.7 127.4L184.8 127.9L184.9 127.8L185.0 128.0L185.1 128.2L185.2 127.2L185.3 128.4L185.4 127.9L185.5 127.8L185.6 128.8L185.7 127.5L185.8 128.0L185.9 127.8L186.0 128.0L186.1 128.5L186.2 127.8L186.3 127.8L186.4 127.4L186.5 127.7L186.6 128.6L186.7 127.4L186.8 127.5L186.9 127.5L187.0 127.7L187.1 128.2L187.2 127.7L187.3 128.0L187.4 126.6L187.5 128.0L187.6 128.4L187.7 128.0L187.8 127.3L187.9 128.1L188.0 129.0L188.1 127.3L188.2 127.8L188.4 128.1L188.7 127.6L188.9 128.3L189.1 128.4L189.4 127.5L189.6 128.1L189.9 127.7L190.1 127.9L190.4 127.6L190.6 127.9L190.9 128.8L191.1 127.6L191.3 128.1L191.6 127.6L191.8 127.9L192.1 127.3L192.3 128.1L192.6 128.8L192.8 128.1L193.1 127.7L193.3 128.1L193.5 128.2L193.8 127.3L194.0 128.0L194.3 127.5L194.5 127.9L194.8 128.6L195.0 128.4L195.2 128.1L195.5 127.9L195.7 128.4L196.0 128.6L196.2 128.4L196.5 128.2L196.7 128.4L197.0 128.3L197.2 127.2L197.4 127.9L197.7 128.4L197.9 128.0L198.2 127.3L198.4 127.8L198.7 128.1L198.9 128.6L199.2 128.8L199.4 128.2L199.6 128.1L199.9 128.8L200.1 128.6L200.4 128.1L200.4 129.0L200.6 128.8L200.9 128.1L201.1 127.8L201.2 127.9L201.4 127.6L201.6 127.4L201.8 127.7L202.1 128.2L202.1 127.2L202.3 127.4L202.6 127.7L202.8 128.4L203.1 127.9L203.3 129.0L203.6 128.2L203.8 129.2L204.0 128.3L204.3 127.7L204.5 128.1L204.8 127.4L205.0 128.1L205.3 128.1L205.5 128.3L205.8 127.9L206.0 128.1L206.2 127.6L206.5 127.4L206.7 128.0L207.0 128.6L207.2 127.9L207.5 127.6L207.7 127.9L207.9 128.0L208.2 127.8L208.4 127.6L208.7 129.3L208.9 127.5L209.2 127.9L209.4 128.0L209.7 128.5L209.9 128.1L210.1 128.0L210.4 128.9L210.6 127.9L210.9 128.2L211.1 127.6L211.4 128.0L211.6 128.4L211.9 128.3L212.1 128.0L212.3 128.3L212.6 128.1L212.8 128.7L213.1 128.9L213.3 128.6L213.6 129.0L213.8 128.7L214.1 128.2L214.3 129.1L214.5 129.0L214.8 128.1L215.0 128.7L215.3 128.5L215.5 129.0L215.8 128.9L216.0 128.6L216.3 127.8L216.5 128.3L216.7 129.2L217.0 128.3L217.2 128.1L217.5 128.2L217.7 129.1L218.0 128.6L218.2 127.7L218.5 129.0L218.7 128.5L218.9 128.9L219.2 129.2L219.4 128.8L219.7 128.2L219.9 128.1L220.2 129.0L220.4 128.9L220.6 129.1L220.9 129.6L221.1 128.4L221.4 128.0L221.6 128.1L221.9 128.9L222.1 128.2L222.4 128.3L222.6 128.9L222.8 128.8L223.1 129.0L223.3 128.7L223.6 128.1L223.8 129.3L224.1 129.4L224.3 128.5L224.6 128.9L224.8 129.7L225.0 129.4L225.3 129.3L225.5 129.2L225.8 128.9L226.0 128.6L226.3 129.1L226.5 129.0L226.8 129.4L227.0 128.6L227.2 128.5L227.5 129.2L227.7 129.5L228.0 128.3L228.2 128.8L228.5 129.6L228.7 130.0L229.0 129.4L229.2 128.7L229.4 129.5L229.7 129.4L229.9 129.5L230.2 129.1L230.4 128.7L230.7 129.9L230.9 129.5L231.2 129.5L231.4 129.7L231.6 130.0L231.9 129.1L232.1 129.4L232.4 129.2L232.6 128.9L232.9 129.7L233.1 129.3L233.4 129.8L233.6 129.6L233.8 129.5L234.1 129.7L234.3 130.3L234.6 129.0L234.8 129.6L235.1 130.2L235.3 130.7L235.5 129.8L235.8 129.5L236.0 129.4L236.3 129.3L236.5 130.0L236.8 129.6L237.0 130.5L237.3 129.8L237.5 129.5L237.7 130.2L238.0 130.0L238.2 129.9L238.5 129.9L238.7 129.4L239.0 130.5L239.2 129.5L239.5 130.6L239.7 130.4L239.9 130.4L240.2 130.2L240.4 130.4L240.7 130.0L240.9 130.2L241.2 129.2L241.4 130.0L241.7 130.3L241.9 130.1L242.1 130.0L242.4 130.4L242.6 130.8L242.9 130.7L243.1 130.3L243.4 130.0L243.6 130.2L243.9 130.4L244.1 130.2L244.3 130.7L244.6 130.4L244.8 129.9L245.1 130.0L245.3 129.9L245.6 130.7L245.8 130.5L246.1 131.0L246.3 130.2L246.5 130.8L246.8 131.2L247.0 130.9L247.3 130.6L247.5 131.7L247.8 131.3L248.0 130.3L248.2 130.7L248.5 130.8L248.7 131.5L249.0 130.1L249.2 130.4L249.5 130.5L249.7 131.4L250.0 130.6L250.2 130.4L250.4 131.1L250.7 131.0L250.9 131.2L251.2 130.7L251.4 131.1L251.7 131.1L251.9 131.6L252.2 131.7L252.4 130.6L252.6 130.3L252.9 130.7L253.1 130.4L253.4 131.3L253.6 131.1L253.9 130.9L254.1 131.1L254.4 130.4L254.6 131.7L254.8 131.3L255.1 131.2L255.3 131.4L255.6 130.7L255.8 132.0L256.1 130.6L256.3 130.7L256.6 131.0L256.8 130.5L257.0 130.1L257.3 131.0L257.5 130.8L257.8 130.9L258.0 130.9L258.3 131.3L258.5 131.4L258.8 130.8L259.0 131.3L259.2 130.7L259.5 130.8L259.7 131.3L260.0 131.0L260.2 131.1L260.5 131.2L260.7 130.6L260.9 131.1L261.2 131.0L261.4 132.0L261.7 130.9L261.9 131.8L262.2 131.3L262.4 130.4L262.7 130.4L262.9 131.3L263.1 131.7L263.4 131.0L263.6 131.3L263.9 131.0L264.1 131.7L264.4 130.7L264.6 130.5L264.9 131.8L265.1 131.5L265.3 131.5L265.6 130.8L265.8 132.0L266.1 131.1L266.3 131.3L266.6 131.5L266.8 130.9L267.1 132.0L267.3 131.8L267.5 131.5L267.8 130.9L268.0 131.3L268.3 131.5L268.5 131.0L268.8 131.4L269.0 131.5L269.3 131.3L269.5 131.0L269.7 130.0L270.0 131.7L270.2 131.1L270.5 131.3L270.7 131.3L271.0 130.5L271.2 130.9L271.5 130.9L271.7 131.4L271.9 131.6L272.2 131.1L272.4 131.3L272.7 131.5L272.9 130.9L273.2 131.7L273.4 131.5L273.7 130.9L273.9 131.2L274.1 130.9L274.4 131.6L274.6 130.9L274.9 131.5L275.1 130.6L275.4 130.9L275.6 131.0L275.8 130.6L276.1 131.1L276.3 131.5L276.6 130.5L276.8 131.1L277.1 130.7L277.3 131.1L277.6 130.7L277.8 131.6L278.0 131.8L278.3 131.8L278.5 130.9L278.8 132.1L279.0 132.0L279.3 131.8L279.5 131.1L279.8 131.0L280.0 131.5L280.2 130.9L280.5 131.1L280.7 130.7L281.0 130.8L281.2 131.5L281.5 131.1L281.7 131.3L282.0 131.0L282.2 131.1L282.4 131.2L282.7 130.9L282.9 131.2L283.2 130.9L283.4 131.2L283.7 131.2L283.9 130.8L284.2 130.8L284.4 130.6L284.6 130.9L284.9 131.3L285.1 131.1L285.4 131.1L285.6 131.9L285.9 131.6L286.1 130.5L286.4 131.2L286.6 132.4L286.8 131.2L287.1 131.1L287.3 131.7L287.6 130.2L287.8 130.7L288.1 130.8L288.3 131.2L288.6 130.9L288.8 130.8L289.0 130.9L289.3 131.4L289.5 131.1L289.8 131.1L290.0 131.0L290.3 131.6L290.5 131.0L290.7 131.1L291.0 131.0L291.2 131.1L291.5 131.8L291.7 130.8L292.0 130.8L292.2 131.7L292.5 131.2L292.7 131.5L292.9 131.3L293.2 130.7L293.4 130.9L293.7 130.3L293.9 131.1L294.2 131.6L294.4 131.1L294.7 132.2L294.9 130.4L295.1 131.0L295.4 130.9L295.6 131.1L295.9 131.5L296.1 131.2L296.4 131.5L296.6 131.4L296.9 131.0L297.1 131.7L297.3 130.4L297.6 131.6L297.8 130.8L298.1 131.4L298.3 131.7L298.6 131.0L298.8 131.1L299.1 131.2L299.3 131.2L299.5 131.4L299.8 130.9L300.0 131.3L300.3 131.1L300.5 130.6L300.8 131.7L301.0 131.3L301.3 131.4L301.5 131.4L301.7 131.6L302.0 131.2L302.2 131.0L302.5 131.1L302.7 131.7L303.0 130.7L303.2 130.7L303.4 130.9L303.7 131.4L303.9 131.3L304.2 130.1L304.4 130.1L304.7 130.6L304.9 131.2L305.2 130.3L305.4 130.7L305.6 130.0L305.9 131.0L306.1 130.5L306.4 130.8L306.6 130.3L306.9 130.9L307.1 130.2L307.4 130.8L307.6 131.0L307.8 130.3L308.1 130.4L308.3 131.4L308.6 130.5L308.8 130.4L309.1 130.3L309.3 129.5L309.6 130.7L309.8 130.4L310.0 131.1L310.3 130.9L310.5 130.5L310.8 130.3L311.0 130.3L311.3 129.9L311.5 129.9L311.8 129.7L312.0 130.2L312.2 129.9L312.5 130.4L312.7 129.9L313.0 129.8L313.2 130.2L313.5 131.3L313.7 130.2L314.0 128.8L314.2 129.9L314.4 130.1L314.7 129.7L314.9 129.3L315.2 129.6L315.4 129.8L315.7 130.2L315.9 129.7L316.2 130.1L316.4 129.4L316.6 128.8L316.9 129.0L317.1 129.7L317.4 129.8L317.6 129.9L317.9 129.1L318.1 129.0L318.3 128.9L318.6 129.0L318.8 129.6L319.1 129.9L319.3 128.6L319.6 129.4L319.8 128.2L320.1 129.8L320.3 129.4L320.5 129.3L320.8 128.7L321.0 128.5L321.3 129.0L321.5 128.4L321.8 129.2L322.0 128.8L322.3 129.1L322.5 128.8L322.7 128.8L323.0 128.4L323.2 127.0L323.5 129.0L323.7 128.5L324.0 128.1L324.2 128.3L324.5 127.7L324.7 128.8" stroke="#ff0000" stroke-width="1.30" stroke-dasharray="0.90 0.85"/>
<path d="M34.2 116.7L34.3 115.5L34.4 113.8L34.5 112.4L34.6 111.0L34.7 109.6L34.8 108.5L34.8 108.4L34.9 109.1L34.9 109.7L35.0 110.1L35.1 111.4L35.2 112.0L35.3 112.9L35.4 114.5L35.5 115.0L35.6 115.7L35.7 117.0L35.7 116.8L35.8 117.8L35.9 118.5L35.9 119.4L36.0 119.7L36.1 120.4L36.2 121.2L36.3 122.1L36.4 123.0L36.5 123.5L36.6 124.6L36.6 125.6L36.7 125.7L36.7 126.4L36.8 127.7L36.8 127.6L36.9 128.7L37.0 129.8L37.1 131.3L37.2 132.5L37.3 133.5L37.4 134.7L37.5 135.7L37.5 136.1L37.6 135.8L37.7 135.7L37.7 135.3L37.8 134.9L37.9 134.2L38.0 134.0L38.1 133.4L38.2 133.0L38.3 133.1L38.3 133.0L38.4 132.5L38.5 132.0L38.6 131.9L38.6 131.6L38.7 131.5L38.8 131.3L38.9 131.4L39.0 131.4L39.1 131.2L39.2 131.4L39.3 131.1L39.4 131.2L39.5 130.7L39.6 131.4L39.7 130.6L39.8 130.5L39.9 130.6L40.0 130.5L40.1 130.5L40.2 130.3L40.3 130.2L40.4 130.5L40.5 130.2L40.6 130.6L40.7 130.4L40.8 130.4L40.9 130.7L41.0 130.4L41.1 130.6L41.2 130.4L41.3 130.7L41.3 130.8L41.4 130.8L41.5 130.5L41.6 130.5L41.7 130.4L41.8 130.7L41.9 130.4L42.0 130.6L42.1 130.6L42.2 130.3L42.3 130.5L42.4 130.9L42.5 130.4L42.6 130.5L42.7 130.6L42.8 130.3L42.9 130.6L43.2 130.4L43.4 130.5L43.6 130.0L43.9 130.9L44.1 130.5L44.4 130.5L44.6 130.3L44.8 130.6L45.1 130.6L45.3 130.3L45.5 130.6L45.8 130.5L46.0 130.5L46.3 130.5L46.5 130.8L46.7 130.6L47.0 130.5L47.2 130.5L47.5 130.3L47.7 130.4L47.9 130.4L48.2 130.5L48.4 130.3L48.7 130.7L48.9 130.6L49.1 130.8L49.4 130.7L49.6 130.4L49.8 130.6L50.1 130.9L50.3 130.6L50.6 130.6L50.8 130.8L51.0 130.5L51.3 130.6L51.5 130.6L51.8 130.4L52.0 130.7L52.2 130.4L52.5 130.6L52.7 130.6L53.0 130.3L53.2 130.5L53.4 130.6L53.7 130.6L53.9 130.5L54.2 130.8L54.4 130.4L54.6 130.6L54.9 130.8L55.1 130.7L55.3 130.4L55.6 130.8L55.8 130.2L56.1 130.8L56.3 130.5L56.5 131.0L56.8 130.6L57.0 130.7L57.3 130.5L57.5 130.5L57.7 130.6L58.0 130.2L58.2 130.4L58.5 130.7L58.7 130.5L58.9 131.1L59.2 130.7L59.4 130.4L59.6 130.7L59.9 130.6L60.1 130.8L60.4 130.5L60.6 130.6L60.8 130.6L61.1 130.4L61.3 130.3L61.6 130.5L61.8 130.9L62.0 130.5L62.3 130.6L62.5 130.8L62.8 130.9L63.0 130.7L63.2 130.7L63.5 130.6L63.7 130.8L64.0 130.6L64.2 130.6L64.4 130.7L64.7 130.6L64.9 130.8L65.1 130.9L65.4 130.7L65.6 130.5L65.9 130.2L66.1 131.1L66.3 130.8L66.6 130.8L66.8 130.6L67.1 130.8L67.3 130.7L67.5 130.5L67.8 130.8L68.0 130.7L68.3 130.4L68.5 130.5L68.7 131.0L69.0 130.3L69.2 130.9L69.4 130.7L69.7 130.8L69.9 130.8L70.2 130.9L70.4 130.6L70.6 130.9L70.9 131.0L71.1 130.9L71.4 130.8L71.6 131.1L71.8 130.6L72.1 130.9L72.3 130.7L72.6 130.5L72.8 130.7L73.0 130.7L73.3 130.9L73.5 130.9L73.8 131.2L74.0 130.9L74.2 130.9L74.5 131.3L74.7 130.8L74.9 130.6L75.2 130.8L75.4 130.6L75.7 130.9L75.9 131.0L76.1 130.8L76.4 130.9L76.6 131.1L76.9 130.7L77.1 130.8L77.3 131.0L77.6 130.8L77.8 130.9L78.1 130.8L78.3 130.6L78.5 131.0L78.8 131.1L79.0 130.7L79.3 130.5L79.5 131.0L79.7 131.1L80.0 131.2L80.2 130.9L80.4 130.9L80.7 131.0L80.9 130.8L81.2 131.1L81.4 131.1L81.6 131.2L81.9 130.7L82.1 130.8L82.4 130.7L82.6 131.1L82.8 130.7L83.1 130.9L83.3 130.9L83.6 130.9L83.8 131.1L84.0 131.0L84.3 131.3L84.5 131.1L84.7 131.1L85.0 131.2L85.2 131.0L85.5 130.8L85.7 131.1L85.9 131.2L86.2 131.2L86.4 131.0L86.7 130.7L86.9 131.0L87.1 131.1L87.4 131.3L87.6 131.0L87.9 131.0L88.1 131.2L88.3 131.1L88.6 131.2L88.8 131.0L89.1 130.9L89.3 131.0L89.5 131.0L89.8 131.1L90.0 131.2L90.2 131.3L90.3 131.2L90.5 131.1L90.7 131.1L91.0 130.9L91.2 131.0L91.4 130.9L91.7 131.0L91.7 131.2L91.9 131.1L92.2 131.4L92.4 130.8L92.6 131.2L92.9 131.2L93.1 130.8L93.4 131.3L93.6 131.2L93.8 131.1L94.1 131.2L94.3 131.1L94.6 131.1L94.8 131.0L95.0 131.1L95.3 131.0L95.5 131.2L95.7 131.0L96.0 130.9L96.2 131.4L96.5 131.1L96.7 131.0L96.9 131.4L97.2 131.6L97.4 131.0L97.7 131.2L97.9 130.9L98.1 131.0L98.4 131.0L98.6 131.1L98.9 131.0L99.1 131.2L99.3 131.1L99.6 130.9L99.8 131.0L100.0 130.9L100.3 131.0L100.5 131.0L100.8 131.2L101.0 130.8L101.2 131.1L101.5 130.9L101.7 131.2L102.0 130.9L102.2 130.9L102.4 131.1L102.7 131.2L102.9 131.0L103.2 130.9L103.4 131.0L103.6 131.0L103.9 130.7L104.1 130.9L104.3 131.0L104.6 130.7L104.8 130.9L105.1 131.0L105.3 130.7L105.5 130.9L105.8 130.7L106.0 131.0L106.3 130.8L106.5 130.6L106.7 130.8L107.0 130.8L107.2 130.8L107.5 130.7L107.7 130.8L107.9 130.7L108.2 130.9L108.4 130.5L108.7 131.0L108.9 130.6L109.1 131.0L109.4 130.7L109.6 130.5L109.8 131.0L110.1 130.4L110.3 130.9L110.6 130.9L110.8 130.7L111.0 130.9L111.3 130.5L111.5 130.6L111.8 131.2L112.0 130.9L112.2 130.8L112.5 130.6L112.7 130.8L113.0 130.7L113.2 130.5L113.4 130.8L113.7 130.5L113.9 130.8L114.2 130.3L114.4 130.3L114.6 130.7L114.9 130.9L115.1 130.8L115.3 130.3L115.6 130.6L115.8 130.2L116.1 130.7L116.3 130.6L116.5 130.4L116.8 130.2L117.0 130.4L117.3 130.5L117.5 130.3L117.7 130.3L118.0 130.2L118.2 130.3L118.5 130.4L118.7 130.3L118.9 130.7L119.2 130.2L119.4 130.0L119.7 130.1L119.9 130.4L120.1 130.5L120.4 129.9L120.6 130.2L120.8 130.2L121.1 130.1L121.3 130.2L121.6 130.1L121.8 129.8L122.0 130.2L122.3 129.7L122.5 130.0L122.8 130.0L123.0 129.8L123.2 129.8L123.5 129.8L123.7 129.9L124.0 130.1L124.2 129.6L124.4 130.0L124.7 130.1L124.9 129.7L125.1 129.8L125.4 129.9L125.6 129.8L125.9 129.7L126.1 129.5L126.3 129.8L126.6 130.0L126.8 129.9L127.1 129.7L127.3 129.8L127.5 129.9L127.8 129.6L128.0 129.6L128.3 129.7L128.5 129.6L128.7 129.8L129.0 129.8L129.2 129.7L129.5 129.9L129.7 129.6L129.9 129.6L130.2 129.7L130.4 129.6L130.6 129.5L130.9 129.7L131.1 129.6L131.4 129.7L131.6 129.3L131.8 129.8L132.1 129.5L132.3 129.3L132.6 129.7L132.8 129.6L133.0 129.6L133.3 129.7L133.5 129.2L133.8 129.4L134.0 129.6L134.2 129.5L134.5 129.3L134.7 129.4L135.0 129.5L135.2 129.2L135.4 129.5L135.7 129.4L135.9 129.2L136.1 129.4L136.4 129.2L136.6 129.3L136.9 128.7L137.1 129.3L137.3 129.0L137.6 129.3L137.8 129.4L138.1 129.2L138.3 129.2L138.5 129.2L138.8 129.1L139.0 128.9L139.3 128.7L139.5 128.7L139.7 129.0L140.0 128.7L140.2 128.7L140.4 129.1L140.7 129.1L140.9 129.0L141.2 128.6L141.4 128.9L141.6 129.0L141.9 128.6L142.1 128.9L142.4 128.9L142.6 128.7L142.8 128.8L143.1 129.3L143.3 129.0L143.6 128.7L143.8 129.0L144.0 128.5L144.3 128.8L144.5 128.7L144.7 128.7L145.0 129.0L145.2 128.8L145.5 128.9L145.7 128.6L145.9 128.4L146.2 128.7L146.4 128.6L146.7 129.0L146.9 128.6L147.1 128.6L147.4 128.6L147.6 128.4L147.9 128.3L148.1 128.5L148.3 128.4L148.6 128.8L148.8 128.3L149.1 128.4L149.3 128.7L149.5 128.3L149.8 128.5L150.0 128.2L150.2 128.3L150.5 128.3L150.7 128.0L151.0 128.3L151.2 128.4L151.4 128.3L151.7 128.2L151.9 128.4L152.2 128.1L152.4 128.1L152.6 128.3L152.9 128.5L153.1 128.0L153.4 127.9L153.6 128.0L153.8 127.9L154.1 127.8L154.3 128.0L154.6 127.8L154.8 128.1L155.0 128.2L155.3 128.0L155.5 128.1L155.7 127.9L156.0 127.6L156.2 127.9L156.5 127.7L156.7 127.5L156.9 127.6L157.2 127.9L157.4 128.0L157.7 127.5L157.9 128.1L158.1 128.2L158.4 128.2L158.6 127.6L158.9 128.1L159.1 127.9L159.3 127.8L159.6 127.6L159.8 128.1L160.1 127.8L160.3 127.7L160.5 127.5L160.8 127.8L161.0 127.7L161.2 127.8L161.5 127.6L161.7 127.6L162.0 127.9L162.2 127.7L162.4 128.1L162.7 127.8L162.9 127.9L163.2 127.9L163.4 127.6L163.6 127.4L163.9 127.7L164.1 127.8L164.4 127.8L164.6 127.6L164.8 127.8L165.1 127.6L165.3 127.5L165.5 127.7L165.8 127.9L166.0 127.7L166.3 127.9L166.5 128.1L166.7 127.6L167.0 127.4L167.2 127.6L167.5 127.9L167.7 128.4L167.9 127.9L168.2 127.7L168.4 127.9L168.7 127.5L168.9 128.0L169.1 127.7L169.4 127.8L169.6 127.8L169.9 128.1L170.1 127.8L170.3 127.8L170.6 127.9L170.8 128.1L171.0 127.9L171.3 128.0L171.5 127.8L171.8 127.6L172.0 127.8L172.2 127.8L172.5 127.9L172.7 127.8L173.0 128.2L173.2 127.8L173.4 127.7L173.7 127.9L173.9 127.7L174.2 128.1L174.4 127.8L174.6 127.9L174.9 127.8L175.1 127.8L175.4 127.4L175.6 128.4L175.8 128.1L176.1 128.0L176.3 127.8L176.5 128.0L176.6 128.0L176.7 128.1L176.8 128.1L176.9 128.0L177.0 127.6L177.1 128.0L177.2 127.3L177.3 127.7L177.4 127.9L177.5 127.7L177.6 127.7L177.7 128.1L177.8 128.2L177.9 127.6L178.0 128.0L178.1 127.7L178.2 127.7L178.3 128.2L178.4 127.7L178.5 127.8L178.6 127.6L178.7 127.9L178.8 127.8L178.9 127.8L178.9 127.9L179.0 127.6L179.1 127.7L179.2 127.6L179.2 127.8L179.3 127.6L179.3 128.0L179.4 128.0L179.4 127.7L179.5 127.9L179.6 127.9L179.6 127.8L179.7 128.2L179.7 127.8L179.8 127.8L179.9 127.9L179.9 128.1L180.0 127.5L180.0 127.8L180.1 128.1L180.2 128.0L180.3 128.2L180.3 128.2L180.3 128.2L180.4 128.0L180.5 127.8L180.5 127.7L180.6 127.9L180.6 127.7L180.7 127.8L180.8 128.1L180.9 128.0L180.9 127.8L181.0 127.7L181.1 127.7L181.2 128.1L181.2 128.2L181.3 127.5L181.4 127.9L181.5 127.7L181.5 127.9L181.6 128.1L181.7 127.6L181.8 127.8L181.9 127.6L181.9 127.8L182.0 128.1L182.1 127.9L182.1 127.7L182.2 128.0L182.3 127.8L182.4 127.7L182.4 128.1L182.5 127.9L182.6 127.8L182.7 127.7L182.8 127.9L182.9 128.0L183.0 127.8L183.1 128.0L183.2 127.8L183.3 127.8L183.4 127.9L183.5 127.7L183.6 127.7L183.7 128.1L183.8 127.8L183.9 127.9L184.0 127.9L184.1 127.9L184.2 127.7L184.3 127.9L184.4 127.9L184.5 128.1L184.6 127.9L184.6 127.9L184.7 128.1L184.8 127.9L184.9 127.8L185.0 127.6L185.1 127.9L185.2 127.5L185.3 127.7L185.4 127.7L185.5 127.8L185.6 127.9L185.7 128.0L185.8 127.9L185.9 127.9L186.0 127.9L186.1 127.6L186.2 127.5L186.3 127.8L186.4 127.7L186.5 128.0L186.6 128.3L186.7 127.9L186.8 127.8L186.9 127.6L187.0 127.4L187.1 127.8L187.2 127.7L187.3 127.7L187.4 127.9L187.5 127.7L187.6 127.8L187.7 127.6L187.8 128.1L187.9 128.3L188.0 127.9L188.1 127.7L188.2 127.7L188.4 128.0L188.7 127.8L188.9 128.0L189.1 127.8L189.4 128.1L189.6 128.1L189.9 127.8L190.1 128.2L190.4 128.2L190.6 127.8L190.9 127.9L191.1 128.4L191.3 127.7L191.6 128.2L191.8 128.0L192.1 128.0L192.3 127.6L192.6 128.0L192.8 127.8L193.1 128.0L193.3 127.9L193.5 128.2L193.8 128.0L194.0 128.1L194.3 128.2L194.5 127.9L194.8 127.8L195.0 127.9L195.2 128.1L195.5 127.9L195.7 128.2L196.0 127.9L196.2 127.9L196.5 128.0L196.7 128.1L197.0 128.0L197.2 128.1L197.4 128.1L197.7 127.9L197.9 128.4L198.2 127.8L198.4 128.0L198.7 128.0L198.9 128.2L199.2 128.1L199.4 128.2L199.6 127.9L199.9 127.9L200.1 127.8L200.4 128.1L200.4 128.4L200.6 128.2L200.9 128.1L201.1 128.0L201.2 128.4L201.4 128.1L201.6 128.1L201.8 128.2L202.1 128.1L202.1 127.7L202.3 128.1L202.6 127.7L202.8 128.1L203.1 128.2L203.3 128.0L203.6 128.2L203.8 128.1L204.0 128.5L204.3 128.1L204.5 128.2L204.8 127.9L205.0 128.1L205.3 128.2L205.5 128.3L205.8 128.1L206.0 128.2L206.2 128.3L206.5 127.8L206.7 128.2L207.0 128.0L207.2 127.9L207.5 128.1L207.7 128.1L207.9 128.1L208.2 128.0L208.4 128.1L208.7 128.1L208.9 128.2L209.2 128.3L209.4 128.3L209.7 128.4L209.9 128.2L210.1 128.0L210.4 128.4L210.6 128.4L210.9 128.5L211.1 128.3L211.4 128.1L211.6 128.4L211.9 128.3L212.1 128.8L212.3 128.4L212.6 128.3L212.8 128.5L213.1 128.7L213.3 128.3L213.6 128.4L213.8 128.1L214.1 128.5L214.3 128.5L214.5 128.5L214.8 128.4L215.0 128.8L215.3 128.2L215.5 128.4L215.8 128.5L216.0 128.6L216.3 128.4L216.5 128.5L216.7 128.6L217.0 128.6L217.2 128.5L217.5 128.6L217.7 128.6L218.0 128.7L218.2 128.7L218.5 128.8L218.7 128.8L218.9 128.6L219.2 128.5L219.4 128.7L219.7 129.3L219.9 128.9L220.2 128.6L220.4 128.4L220.6 128.5L220.9 128.8L221.1 128.8L221.4 128.8L221.6 128.4L221.9 128.7L222.1 128.9L222.4 128.6L222.6 128.7L222.8 129.2L223.1 129.0L223.3 128.7L223.6 128.7L223.8 129.1L224.1 128.9L224.3 128.8L224.6 128.9L224.8 129.1L225.0 129.0L225.3 128.9L225.5 128.9L225.8 129.2L226.0 128.6L226.3 129.0L226.5 129.4L226.8 129.2L227.0 129.6L227.2 129.3L227.5 129.2L227.7 128.7L228.0 129.2L228.2 129.1L228.5 129.1L228.7 129.2L229.0 129.4L229.2 129.0L229.4 129.2L229.7 129.0L229.9 129.2L230.2 129.5L230.4 129.5L230.7 129.5L230.9 129.5L231.2 129.4L231.4 129.5L231.6 129.6L231.9 129.2L232.1 129.3L232.4 129.5L232.6 129.7L232.9 129.7L233.1 129.7L233.4 129.8L233.6 129.8L233.8 129.6L234.1 129.6L234.3 129.6L234.6 129.9L234.8 129.7L235.1 129.4L235.3 129.7L235.5 129.9L235.8 129.3L236.0 129.8L236.3 130.0L236.5 129.7L236.8 130.0L237.0 130.0L237.3 129.7L237.5 130.0L237.7 130.2L238.0 129.8L238.2 129.8L238.5 130.3L238.7 130.1L239.0 129.9L239.2 130.0L239.5 129.9L239.7 130.1L239.9 130.2L240.2 130.3L240.4 130.2L240.7 130.2L240.9 130.7L241.2 130.6L241.4 130.2L241.7 130.1L241.9 130.4L242.1 130.3L242.4 130.5L242.6 130.6L242.9 130.3L243.1 130.4L243.4 130.5L243.6 130.7L243.9 130.4L244.1 130.5L244.3 130.5L244.6 130.5L244.8 130.6L245.1 130.4L245.3 130.5L245.6 130.2L245.8 130.3L246.1 130.6L246.3 130.9L246.5 130.5L246.8 130.8L247.0 130.4L247.3 131.0L247.5 130.8L247.8 130.5L248.0 130.8L248.2 130.7L248.5 130.7L248.7 130.9L249.0 130.7L249.2 131.0L249.5 130.9L249.7 130.5L250.0 130.9L250.2 130.9L250.4 131.1L250.7 130.7L250.9 131.1L251.2 131.1L251.4 131.1L251.7 131.2L251.9 131.3L252.2 131.1L252.4 131.1L252.6 131.1L252.9 131.2L253.1 131.2L253.4 131.1L253.6 131.1L253.9 131.3L254.1 131.1L254.4 131.1L254.6 130.9L254.8 131.0L255.1 131.0L255.3 130.9L255.6 131.2L255.8 130.9L256.1 131.1L256.3 131.2L256.6 131.1L256.8 131.3L257.0 130.8L257.3 131.1L257.5 131.4L257.8 131.3L258.0 131.2L258.3 131.2L258.5 131.1L258.8 131.0L259.0 131.0L259.2 131.1L259.5 131.3L259.7 131.0L260.0 130.9L260.2 131.5L260.5 131.3L260.7 131.2L260.9 131.3L261.2 131.0L261.4 131.1L261.7 131.2L261.9 131.4L262.2 131.5L262.4 131.3L262.7 131.3L262.9 131.3L263.1 131.6L263.4 131.5L263.6 131.3L263.9 131.1L264.1 131.3L264.4 131.2L264.6 131.2L264.9 131.2L265.1 131.0L265.3 131.3L265.6 131.2L265.8 131.4L266.1 131.0L266.3 131.1L266.6 131.0L266.8 131.2L267.1 131.2L267.3 131.5L267.5 131.2L267.8 131.0L268.0 131.7L268.3 130.9L268.5 131.4L268.8 131.1L269.0 131.4L269.3 131.3L269.5 131.1L269.7 131.3L270.0 130.9L270.2 131.2L270.5 131.1L270.7 131.4L271.0 131.3L271.2 131.3L271.5 131.2L271.7 131.0L271.9 131.3L272.2 131.5L272.4 131.4L272.7 131.5L272.9 131.2L273.2 131.3L273.4 131.5L273.7 131.3L273.9 131.1L274.1 131.2L274.4 131.4L274.6 131.1L274.9 131.2L275.1 131.4L275.4 131.2L275.6 130.9L275.8 131.5L276.1 131.1L276.3 131.3L276.6 131.2L276.8 131.2L277.1 131.2L277.3 131.3L277.6 131.3L277.8 131.1L278.0 131.2L278.3 131.5L278.5 131.2L278.8 131.0L279.0 131.1L279.3 131.2L279.5 131.6L279.8 131.2L280.0 131.1L280.2 131.0L280.5 131.4L280.7 131.3L281.0 131.4L281.2 131.3L281.5 131.6L281.7 131.3L282.0 131.3L282.2 131.3L282.4 131.0L282.7 131.4L282.9 131.3L283.2 131.0L283.4 131.3L283.7 131.0L283.9 131.2L284.2 131.4L284.4 131.4L284.6 131.2L284.9 131.3L285.1 131.2L285.4 131.3L285.6 131.1L285.9 131.4L286.1 131.3L286.4 131.3L286.6 131.5L286.8 131.3L287.1 131.3L287.3 131.5L287.6 131.6L287.8 131.0L288.1 131.3L288.3 131.3L288.6 131.3L288.8 130.9L289.0 131.3L289.3 131.5L289.5 131.1L289.8 131.4L290.0 131.1L290.3 131.2L290.5 131.0L290.7 131.1L291.0 131.3L291.2 131.0L291.5 130.7L291.7 131.3L292.0 131.0L292.2 131.1L292.5 131.1L292.7 131.4L292.9 131.4L293.2 130.9L293.4 131.2L293.7 131.3L293.9 130.9L294.2 131.0L294.4 131.1L294.7 131.4L294.9 131.2L295.1 130.9L295.4 131.6L295.6 131.5L295.9 131.3L296.1 131.0L296.4 131.1L296.6 131.1L296.9 131.1L297.1 131.2L297.3 131.0L297.6 130.5L297.8 131.1L298.1 130.9L298.3 131.3L298.6 130.9L298.8 131.1L299.1 131.1L299.3 131.2L299.5 131.3L299.8 131.3L300.0 131.3L300.3 131.4L300.5 130.8L300.8 131.0L301.0 130.9L301.3 131.0L301.5 131.4L301.7 131.1L302.0 131.2L302.2 131.2L302.5 131.1L302.7 131.0L303.0 131.0L303.2 131.0L303.4 131.0L303.7 130.9L303.9 130.7L304.2 130.5L304.4 130.7L304.7 130.9L304.9 130.8L305.2 130.6L305.4 130.6L305.6 130.5L305.9 130.5L306.1 130.6L306.4 130.7L306.6 130.9L306.9 130.4L307.1 130.5L307.4 130.7L307.6 130.6L307.8 130.6L308.1 130.6L308.3 130.2L308.6 130.5L308.8 130.0L309.1 130.5L309.3 130.5L309.6 130.4L309.8 129.9L310.0 130.4L310.3 130.2L310.5 130.7L310.8 130.2L311.0 130.5L311.3 130.2L311.5 129.9L311.8 130.2L312.0 130.0L312.2 130.1L312.5 130.1L312.7 130.0L313.0 129.8L313.2 130.0L313.5 130.0L313.7 130.1L314.0 130.2L314.2 129.8L314.4 129.8L314.7 129.7L314.9 129.5L315.2 129.6L315.4 129.8L315.7 129.6L315.9 129.5L316.2 129.6L316.4 129.9L316.6 129.6L316.9 129.5L317.1 129.3L317.4 129.4L317.6 129.6L317.9 129.0L318.1 129.3L318.3 129.3L318.6 129.1L318.8 129.0L319.1 129.1L319.3 129.2L319.6 129.1L319.8 128.8L320.1 129.0L320.3 128.8L320.5 129.2L320.8 128.9L321.0 128.8L321.3 128.8L321.5 129.1L321.8 128.7L322.0 128.3L322.3 128.5L322.5 128.7L322.7 128.7L323.0 128.7L323.2 128.4L323.5 128.6L323.7 128.5L324.0 128.2L324.2 128.2L324.5 128.2L324.7 128.6" stroke="#00f800" stroke-width="1.50" stroke-dasharray="3.90 1.00 1.00 1.00"/>
<path d="M34.2 112.0L34.3 110.8L34.4 110.3L34.5 108.9L34.6 108.2L34.7 107.1L34.8 106.5L34.8 106.6L34.9 105.7L34.9 104.8L35.0 105.6L35.1 106.5L35.2 106.9L35.3 108.2L35.4 108.7L35.5 109.4L35.6 110.1L35.7 110.8L35.7 111.0L35.8 112.2L35.9 112.5L35.9 113.2L36.0 113.5L36.1 115.0L36.2 116.5L36.3 118.2L36.4 119.6L36.5 121.1L36.6 123.0L36.6 124.8L36.7 125.3L36.7 126.2L36.8 127.7L36.8 127.4L36.9 128.6L37.0 130.0L37.1 130.8L37.2 132.2L37.3 133.3L37.4 134.0L37.5 135.5L37.5 135.4L37.6 136.4L37.7 136.7L37.7 136.7L37.8 136.0L37.9 135.6L38.0 135.4L38.1 134.9L38.2 134.6L38.3 133.9L38.3 134.2L38.4 133.3L38.5 133.1L38.6 132.5L38.6 132.2L38.7 132.3L38.8 132.2L38.9 132.0L39.0 131.8L39.1 132.0L39.2 131.5L39.3 131.4L39.4 131.5L39.5 131.4L39.6 130.8L39.7 130.8L39.8 130.7L39.9 130.8L40.0 130.6L40.1 130.8L40.2 130.8L40.3 130.6L40.4 130.6L40.5 130.7L40.6 130.7L40.7 130.4L40.8 130.6L40.9 130.8L41.0 130.1L41.1 130.8L41.2 130.5L41.3 130.7L41.3 130.4L41.4 130.5L41.5 130.3L41.6 130.5L41.7 130.7L41.8 130.3L41.9 130.5L42.0 130.6L42.1 130.6L42.2 130.7L42.3 130.5L42.4 130.2L42.5 130.3L42.6 130.5L42.7 130.4L42.8 130.4L42.9 130.6L43.2 130.3L43.4 130.5L43.6 130.9L43.9 130.4L44.1 130.7L44.4 130.5L44.6 130.4L44.8 130.6L45.1 130.5L45.3 130.3L45.5 130.8L45.8 130.9L46.0 130.6L46.3 130.6L46.5 130.2L46.7 130.4L47.0 130.4L47.2 130.6L47.5 130.9L47.7 130.8L47.9 130.6L48.2 130.5L48.4 130.6L48.7 130.5L48.9 130.4L49.1 130.7L49.4 130.6L49.6 130.7L49.8 130.3L50.1 130.9L50.3 130.5L50.6 130.4L50.8 130.9L51.0 130.7L51.3 130.4L51.5 130.7L51.8 130.7L52.0 130.6L52.2 130.3L52.5 130.5L52.7 130.7L53.0 130.8L53.2 130.9L53.4 130.5L53.7 131.0L53.9 130.7L54.2 130.5L54.4 130.8L54.6 130.6L54.9 130.6L55.1 130.4L55.3 130.8L55.6 130.6L55.8 130.6L56.1 130.6L56.3 130.9L56.5 130.5L56.8 130.8L57.0 130.6L57.3 130.8L57.5 130.2L57.7 130.6L58.0 130.2L58.2 130.7L58.5 130.7L58.7 130.3L58.9 130.7L59.2 130.5L59.4 130.4L59.6 130.7L59.9 130.7L60.1 130.7L60.4 130.4L60.6 130.5L60.8 130.4L61.1 130.7L61.3 130.7L61.6 130.8L61.8 130.7L62.0 130.7L62.3 130.6L62.5 130.8L62.8 130.8L63.0 130.7L63.2 130.5L63.5 130.7L63.7 130.7L64.0 130.5L64.2 130.4L64.4 130.7L64.7 130.7L64.9 131.0L65.1 130.9L65.4 130.7L65.6 130.4L65.9 130.3L66.1 130.5L66.3 130.8L66.6 130.6L66.8 131.0L67.1 130.7L67.3 130.9L67.5 130.7L67.8 130.4L68.0 130.3L68.3 130.7L68.5 130.6L68.7 131.0L69.0 130.9L69.2 130.5L69.4 130.5L69.7 130.6L69.9 130.7L70.2 130.4L70.4 130.8L70.6 130.8L70.9 130.2L71.1 130.9L71.4 130.7L71.6 130.8L71.8 130.5L72.1 130.8L72.3 130.9L72.6 130.9L72.8 130.7L73.0 131.0L73.3 131.1L73.5 130.8L73.8 130.9L74.0 130.7L74.2 130.9L74.5 130.9L74.7 130.8L74.9 130.8L75.2 130.7L75.4 130.8L75.7 131.2L75.9 130.9L76.1 130.9L76.4 130.9L76.6 130.8L76.9 130.9L77.1 130.7L77.3 130.9L77.6 130.6L77.8 131.1L78.1 131.3L78.3 131.1L78.5 130.4L78.8 131.0L79.0 130.9L79.3 130.9L79.5 131.0L79.7 130.9L80.0 130.9L80.2 130.6L80.4 130.7L80.7 130.9L80.9 130.8L81.2 130.8L81.4 131.2L81.6 130.8L81.9 131.1L82.1 130.8L82.4 131.0L82.6 130.8L82.8 130.7L83.1 130.9L83.3 131.1L83.6 131.1L83.8 130.9L84.0 131.1L84.3 131.1L84.5 131.0L84.7 131.1L85.0 130.9L85.2 131.1L85.5 131.0L85.7 131.2L85.9 131.4L86.2 130.9L86.4 130.9L86.7 131.2L86.9 130.9L87.1 131.0L87.4 131.3L87.6 130.9L87.9 131.5L88.1 131.1L88.3 131.0L88.6 131.3L88.8 130.8L89.1 131.2L89.3 130.9L89.5 131.1L89.8 131.0L90.0 131.1L90.2 130.7L90.3 131.1L90.5 130.9L90.7 131.0L91.0 131.1L91.2 131.2L91.4 131.1L91.7 131.0L91.7 131.0L91.9 131.0L92.2 131.2L92.4 131.0L92.6 131.3L92.9 131.1L93.1 131.5L93.4 131.3L93.6 131.2L93.8 131.4L94.1 131.3L94.3 130.9L94.6 131.0L94.8 130.9L95.0 130.9L95.3 131.0L95.5 130.9L95.7 131.0L96.0 130.8L96.2 131.4L96.5 131.1L96.7 130.9L96.9 130.9L97.2 131.0L97.4 131.1L97.7 130.9L97.9 131.1L98.1 131.2L98.4 130.8L98.6 131.1L98.9 131.0L99.1 131.3L99.3 131.5L99.6 130.9L99.8 130.7L100.0 131.4L100.3 131.1L100.5 130.9L100.8 130.9L101.0 131.0L101.2 131.0L101.5 131.1L101.7 130.8L102.0 130.8L102.2 130.9L102.4 131.4L102.7 130.6L102.9 130.9L103.2 130.8L103.4 130.6L103.6 130.7L103.9 130.9L104.1 130.7L104.3 130.8L104.6 131.0L104.8 130.9L105.1 131.2L105.3 131.2L105.5 130.8L105.8 130.6L106.0 131.0L106.3 130.6L106.5 130.8L106.7 130.5L107.0 130.9L107.2 130.3L107.5 130.7L107.7 130.9L107.9 130.8L108.2 131.1L108.4 130.7L108.7 130.9L108.9 130.7L109.1 130.8L109.4 131.3L109.6 131.2L109.8 130.9L110.1 131.0L110.3 130.6L110.6 130.9L110.8 130.6L111.0 130.7L111.3 130.4L111.5 130.7L111.8 130.6L112.0 130.8L112.2 130.6L112.5 130.5L112.7 130.6L113.0 130.5L113.2 130.8L113.4 130.6L113.7 130.5L113.9 130.6L114.2 130.3L114.4 130.4L114.6 130.6L114.9 130.7L115.1 130.5L115.3 130.6L115.6 130.5L115.8 130.6L116.1 130.3L116.3 130.4L116.5 130.3L116.8 130.2L117.0 130.8L117.3 130.3L117.5 130.4L117.7 130.2L118.0 130.2L118.2 130.2L118.5 130.0L118.7 130.6L118.9 130.4L119.2 130.0L119.4 129.9L119.7 130.4L119.9 130.0L120.1 130.0L120.4 130.4L120.6 130.3L120.8 130.1L121.1 130.1L121.3 129.8L121.6 130.0L121.8 129.9L122.0 130.2L122.3 130.3L122.5 130.1L122.8 129.8L123.0 129.7L123.2 130.1L123.5 130.0L123.7 130.4L124.0 129.7L124.2 130.2L124.4 129.8L124.7 129.7L124.9 130.1L125.1 130.0L125.4 129.7L125.6 129.6L125.9 129.9L126.1 130.0L126.3 129.7L126.6 129.6L126.8 130.0L127.1 129.9L127.3 129.5L127.5 129.7L127.8 129.9L128.0 129.7L128.3 129.6L128.5 129.5L128.7 129.6L129.0 129.7L129.2 130.0L129.5 129.5L129.7 129.5L129.9 129.6L130.2 129.6L130.4 129.6L130.6 129.4L130.9 129.6L131.1 129.8L131.4 129.4L131.6 129.6L131.8 129.5L132.1 129.4L132.3 129.5L132.6 129.5L132.8 129.6L133.0 129.2L133.3 129.7L133.5 129.1L133.8 129.6L134.0 129.5L134.2 129.4L134.5 129.2L134.7 129.3L135.0 129.4L135.2 129.5L135.4 129.1L135.7 129.2L135.9 129.2L136.1 129.3L136.4 129.3L136.6 129.1L136.9 129.1L137.1 128.9L137.3 129.1L137.6 129.4L137.8 129.0L138.1 129.1L138.3 129.1L138.5 129.6L138.8 129.2L139.0 129.0L139.3 129.1L139.5 129.0L139.7 128.9L140.0 129.0L140.2 129.1L140.4 128.9L140.7 128.9L140.9 129.0L141.2 129.3L141.4 129.1L141.6 128.7L141.9 128.9L142.1 129.2L142.4 128.9L142.6 128.8L142.8 128.7L143.1 128.7L143.3 128.7L143.6 128.9L143.8 129.0L144.0 128.8L144.3 128.5L144.5 129.0L144.7 128.5L145.0 128.9L145.2 128.9L145.5 128.6L145.7 128.8L145.9 128.6L146.2 128.8L146.4 128.5L146.7 128.4L146.9 128.8L147.1 128.4L147.4 128.4L147.6 128.3L147.9 128.9L148.1 128.3L148.3 128.7L148.6 128.5L148.8 128.5L149.1 128.6L149.3 128.5L149.5 128.5L149.8 128.3L150.0 128.2L150.2 128.4L150.5 128.2L150.7 128.3L151.0 128.1L151.2 128.5L151.4 128.2L151.7 128.2L151.9 128.2L152.2 128.1L152.4 128.0L152.6 128.1L152.9 128.1L153.1 128.2L153.4 128.2L153.6 128.2L153.8 127.9L154.1 127.9L154.3 127.8L154.6 128.1L154.8 128.1L155.0 127.6L155.3 127.8L155.5 128.3L155.7 127.8L156.0 127.9L156.2 128.0L156.5 128.0L156.7 128.1L156.9 128.0L157.2 128.0L157.4 128.1L157.7 127.9L157.9 128.0L158.1 127.7L158.4 127.6L158.6 127.9L158.9 127.9L159.1 127.7L159.3 127.8L159.6 127.4L159.8 128.3L160.1 128.2L160.3 128.0L160.5 127.7L160.8 127.6L161.0 127.9L161.2 127.8L161.5 127.8L161.7 127.7L162.0 127.4L162.2 128.2L162.4 127.4L162.7 127.6L162.9 127.8L163.2 127.7L163.4 127.8L163.6 127.7L163.9 127.7L164.1 127.6L164.4 128.0L164.6 127.7L164.8 127.9L165.1 127.8L165.3 127.6L165.5 127.9L165.8 127.7L166.0 127.7L166.3 127.8L166.5 128.0L166.7 127.7L167.0 127.8L167.2 127.4L167.5 128.0L167.7 127.6L167.9 127.9L168.2 127.9L168.4 127.5L168.7 127.8L168.9 127.7L169.1 127.8L169.4 128.0L169.6 127.8L169.9 127.9L170.1 127.8L170.3 127.5L170.6 127.7L170.8 128.1L171.0 127.5L171.3 127.7L171.5 127.6L171.8 127.5L172.0 128.0L172.2 127.8L172.5 127.8L172.7 127.9L173.0 127.9L173.2 127.8L173.4 127.6L173.7 127.7L173.9 127.8L174.2 127.6L174.4 128.3L174.6 127.8L174.9 127.8L175.1 127.8L175.4 127.6L175.6 127.8L175.8 127.6L176.1 127.9L176.3 127.7L176.5 127.8L176.6 127.9L176.7 127.7L176.8 127.7L176.9 128.0L177.0 127.7L177.1 127.9L177.2 127.8L177.3 128.3L177.4 127.8L177.5 128.2L177.6 127.7L177.7 128.0L177.8 127.9L177.9 127.9L178.0 128.1L178.1 127.8L178.2 128.1L178.3 127.9L178.4 127.7L178.5 127.6L178.6 127.6L178.7 127.9L178.8 128.0L178.9 127.8L178.9 127.6L179.0 128.0L179.1 127.6L179.2 127.9L179.2 128.3L179.3 127.8L179.3 127.5L179.4 127.7L179.4 127.6L179.5 127.8L179.6 128.2L179.6 128.3L179.7 128.0L179.7 127.9L179.8 128.0L179.9 128.0L179.9 127.7L180.0 127.6L180.0 128.2L180.1 128.0L180.2 127.9L180.3 127.9L180.3 128.3L180.3 127.3L180.4 127.7L180.5 127.8L180.5 128.2L180.6 127.8L180.6 128.1L180.7 127.8L180.8 127.8L180.9 127.8L180.9 127.8L181.0 128.0L181.1 127.8L181.2 128.3L181.2 127.7L181.3 127.9L181.4 127.4L181.5 127.8L181.5 128.3L181.6 127.6L181.7 128.0L181.8 128.1L181.9 127.9L181.9 127.6L182.0 127.5L182.1 127.9L182.1 127.8L182.2 127.8L182.3 128.0L182.4 128.0L182.4 127.9L182.5 127.9L182.6 127.7L182.7 128.2L182.8 127.8L182.9 127.8L183.0 127.6L183.1 127.9L183.2 127.9L183.3 127.8L183.4 128.0L183.5 128.0L183.6 128.0L183.7 128.0L183.8 128.1L183.9 128.0L184.0 128.0L184.1 128.0L184.2 128.1L184.3 127.7L184.4 127.8L184.5 127.9L184.6 128.1L184.6 127.8L184.7 127.9L184.8 127.9L184.9 127.9L185.0 127.9L185.1 127.7L185.2 128.0L185.3 128.0L185.4 127.9L185.5 127.9L185.6 127.8L185.7 127.7L185.8 127.6L185.9 127.7L186.0 127.9L186.1 127.9L186.2 128.0L186.3 127.7L186.4 127.9L186.5 128.1L186.6 128.1L186.7 127.8L186.8 128.1L186.9 128.4L187.0 127.8L187.1 127.8L187.2 127.8L187.3 127.7L187.4 127.8L187.5 127.8L187.6 127.9L187.7 128.1L187.8 128.3L187.9 128.3L188.0 127.8L188.1 127.8L188.2 127.9L188.4 128.1L188.7 127.8L188.9 127.9L189.1 127.9L189.4 128.0L189.6 128.2L189.9 128.1L190.1 127.9L190.4 127.6L190.6 127.6L190.9 128.0L191.1 127.9L191.3 128.0L191.6 127.9L191.8 127.9L192.1 127.8L192.3 128.2L192.6 127.6L192.8 128.0L193.1 128.2L193.3 127.6L193.5 128.1L193.8 128.0L194.0 128.1L194.3 127.8L194.5 128.5L194.8 127.9L195.0 128.3L195.2 127.7L195.5 127.6L195.7 127.9L196.0 128.2L196.2 127.8L196.5 127.6L196.7 128.0L197.0 128.1L197.2 127.8L197.4 128.3L197.7 128.1L197.9 128.1L198.2 128.0L198.4 127.8L198.7 128.1L198.9 128.3L199.2 128.3L199.4 128.1L199.6 128.0L199.9 127.9L200.1 128.0L200.4 128.3L200.4 128.0L200.6 128.2L200.9 127.8L201.1 128.1L201.2 128.1L201.4 128.2L201.6 127.9L201.8 128.1L202.1 127.6L202.1 127.9L202.3 128.3L202.6 128.1L202.8 127.9L203.1 128.0L203.3 128.0L203.6 128.1L203.8 128.4L204.0 128.4L204.3 128.0L204.5 128.2L204.8 128.1L205.0 128.0L205.3 128.5L205.5 128.5L205.8 128.0L206.0 128.3L206.2 128.2L206.5 127.9L206.7 128.2L207.0 128.2L207.2 128.1L207.5 128.5L207.7 127.9L207.9 128.1L208.2 128.3L208.4 128.0L208.7 128.4L208.9 128.3L209.2 128.5L209.4 128.3L209.7 128.4L209.9 128.2L210.1 128.4L210.4 128.2L210.6 128.2L210.9 128.2L211.1 128.2L211.4 128.3L211.6 128.5L211.9 128.7L212.1 128.3L212.3 128.6L212.6 128.3L212.8 128.4L213.1 128.4L213.3 128.4L213.6 128.3L213.8 128.6L214.1 128.4L214.3 128.2L214.5 128.3L214.8 128.2L215.0 128.5L215.3 128.5L215.5 128.1L215.8 128.4L216.0 128.5L216.3 128.3L216.5 128.7L216.7 128.6L217.0 128.5L217.2 128.6L217.5 128.3L217.7 128.5L218.0 128.4L218.2 128.8L218.5 128.6L218.7 128.6L218.9 128.5L219.2 128.6L219.4 128.7L219.7 128.6L219.9 128.3L220.2 128.7L220.4 128.8L220.6 128.5L220.9 128.4L221.1 128.7L221.4 128.6L221.6 129.1L221.9 128.7L222.1 128.8L222.4 128.4L222.6 128.8L222.8 128.5L223.1 128.9L223.3 128.9L223.6 129.0L223.8 129.1L224.1 129.0L224.3 128.7L224.6 129.2L224.8 128.9L225.0 128.8L225.3 128.9L225.5 128.9L225.8 129.0L226.0 128.9L226.3 129.4L226.5 128.8L226.8 129.0L227.0 129.2L227.2 129.2L227.5 129.2L227.7 129.0L228.0 129.4L228.2 129.4L228.5 129.5L228.7 129.1L229.0 129.4L229.2 129.3L229.4 129.5L229.7 129.3L229.9 129.4L230.2 129.5L230.4 129.2L230.7 129.4L230.9 129.6L231.2 129.0L231.4 129.6L231.6 129.7L231.9 129.8L232.1 129.2L232.4 129.5L232.6 129.5L232.9 129.4L233.1 129.6L233.4 129.5L233.6 129.3L233.8 129.6L234.1 129.5L234.3 129.7L234.6 129.7L234.8 129.5L235.1 129.6L235.3 129.7L235.5 130.1L235.8 130.0L236.0 129.9L236.3 129.8L236.5 129.8L236.8 129.9L237.0 129.9L237.3 129.9L237.5 129.9L237.7 129.8L238.0 130.3L238.2 129.8L238.5 129.7L238.7 129.8L239.0 130.1L239.2 130.2L239.5 130.1L239.7 129.9L239.9 130.1L240.2 130.5L240.4 130.8L240.7 130.2L240.9 129.8L241.2 130.5L241.4 130.4L241.7 130.3L241.9 130.2L242.1 130.1L242.4 130.6L242.6 130.3L242.9 130.5L243.1 130.2L243.4 130.3L243.6 130.2L243.9 130.7L244.1 130.7L244.3 130.6L244.6 130.6L244.8 130.7L245.1 130.8L245.3 130.7L245.6 130.9L245.8 130.4L246.1 130.7L246.3 130.9L246.5 130.6L246.8 131.0L247.0 130.6L247.3 130.8L247.5 130.4L247.8 130.7L248.0 130.9L248.2 130.6L248.5 130.8L248.7 130.7L249.0 131.4L249.2 131.0L249.5 131.0L249.7 130.7L250.0 131.1L250.2 130.9L250.4 131.0L250.7 131.2L250.9 131.1L251.2 130.9L251.4 131.1L251.7 131.1L251.9 131.1L252.2 131.0L252.4 131.0L252.6 131.1L252.9 131.4L253.1 131.1L253.4 131.1L253.6 130.8L253.9 131.3L254.1 130.8L254.4 131.2L254.6 130.8L254.8 131.5L255.1 131.2L255.3 131.6L255.6 131.4L255.8 131.2L256.1 131.0L256.3 131.3L256.6 131.1L256.8 131.3L257.0 130.8L257.3 131.3L257.5 130.8L257.8 130.8L258.0 131.3L258.3 131.1L258.5 131.2L258.8 130.9L259.0 131.1L259.2 130.8L259.5 131.2L259.7 131.2L260.0 131.3L260.2 131.1L260.5 131.1L260.7 131.2L260.9 131.1L261.2 131.0L261.4 131.2L261.7 131.3L261.9 131.4L262.2 131.3L262.4 131.3L262.7 131.0L262.9 131.0L263.1 131.3L263.4 131.1L263.6 131.4L263.9 131.0L264.1 131.5L264.4 131.0L264.6 131.2L264.9 131.2L265.1 131.2L265.3 131.4L265.6 131.2L265.8 131.2L266.1 131.1L266.3 131.1L266.6 131.0L266.8 131.1L267.1 131.4L267.3 131.1L267.5 131.4L267.8 131.4L268.0 131.2L268.3 131.4L268.5 131.3L268.8 131.0L269.0 131.4L269.3 131.4L269.5 131.5L269.7 130.7L270.0 131.3L270.2 131.2L270.5 131.2L270.7 131.0L271.0 131.4L271.2 131.4L271.5 131.3L271.7 131.4L271.9 131.5L272.2 131.6L272.4 131.3L272.7 131.3L272.9 131.0L273.2 131.4L273.4 131.3L273.7 131.0L273.9 131.6L274.1 131.1L274.4 131.4L274.6 131.5L274.9 131.2L275.1 131.3L275.4 131.5L275.6 131.2L275.8 131.0L276.1 131.1L276.3 131.3L276.6 131.4L276.8 131.3L277.1 131.2L277.3 131.3L277.6 131.2L277.8 131.1L278.0 131.5L278.3 131.2L278.5 131.2L278.8 131.3L279.0 131.4L279.3 131.0L279.5 131.3L279.8 131.3L280.0 131.4L280.2 131.3L280.5 131.3L280.7 131.3L281.0 131.5L281.2 131.6L281.5 131.4L281.7 131.3L282.0 131.4L282.2 131.1L282.4 131.3L282.7 131.1L282.9 131.2L283.2 131.7L283.4 131.2L283.7 131.0L283.9 131.2L284.2 131.3L284.4 131.5L284.6 131.2L284.9 131.4L285.1 131.6L285.4 131.2L285.6 131.1L285.9 131.3L286.1 131.3L286.4 131.4L286.6 130.9L286.8 131.2L287.1 131.3L287.3 131.3L287.6 131.2L287.8 131.0L288.1 131.3L288.3 131.4L288.6 131.2L288.8 131.2L289.0 131.5L289.3 131.2L289.5 131.3L289.8 131.3L290.0 131.2L290.3 131.2L290.5 130.9L290.7 131.1L291.0 131.1L291.2 131.3L291.5 131.2L291.7 131.3L292.0 131.3L292.2 131.1L292.5 130.8L292.7 131.1L292.9 131.1L293.2 131.1L293.4 131.1L293.7 131.2L293.9 131.2L294.2 131.1L294.4 130.9L294.7 131.2L294.9 131.5L295.1 131.1L295.4 131.2L295.6 131.3L295.9 131.3L296.1 131.8L296.4 131.3L296.6 131.2L296.9 131.1L297.1 131.2L297.3 131.4L297.6 131.3L297.8 131.2L298.1 131.1L298.3 131.1L298.6 131.0L298.8 131.5L299.1 131.1L299.3 131.1L299.5 131.3L299.8 131.1L300.0 131.2L300.3 131.4L300.5 131.4L300.8 131.0L301.0 131.0L301.3 130.9L301.5 131.0L301.7 131.0L302.0 131.3L302.2 131.1L302.5 131.1L302.7 130.6L303.0 131.2L303.2 131.2L303.4 131.1L303.7 130.8L303.9 131.0L304.2 130.8L304.4 131.0L304.7 130.7L304.9 131.1L305.2 130.9L305.4 130.7L305.6 130.8L305.9 130.9L306.1 130.4L306.4 130.9L306.6 130.8L306.9 130.4L307.1 130.3L307.4 130.6L307.6 130.8L307.8 130.8L308.1 130.7L308.3 130.5L308.6 130.2L308.8 130.3L309.1 130.3L309.3 130.5L309.6 130.2L309.8 130.2L310.0 130.2L310.3 130.3L310.5 130.4L310.8 130.1L311.0 129.9L311.3 130.3L311.5 130.1L311.8 130.0L312.0 129.8L312.2 129.8L312.5 130.1L312.7 129.8L313.0 130.2L313.2 130.4L313.5 130.0L313.7 129.8L314.0 130.2L314.2 129.9L314.4 129.8L314.7 129.8L314.9 129.7L315.2 129.5L315.4 129.7L315.7 129.7L315.9 129.5L316.2 129.4L316.4 129.6L316.6 129.2L316.9 129.3L317.1 129.5L317.4 129.4L317.6 129.5L317.9 129.2L318.1 129.2L318.3 128.8L318.6 129.6L318.8 129.3L319.1 129.2L319.3 128.9L319.6 129.1L319.8 129.1L320.1 128.9L320.3 129.0L320.5 128.8L320.8 128.6L321.0 128.6L321.3 129.0L321.5 128.8L321.8 128.6L322.0 128.7L322.3 128.7L322.5 128.4L322.7 128.5L323.0 128.4L323.2 128.3L323.5 128.5L323.7 128.2L324.0 128.3L324.2 128.3L324.5 128.1L324.7 128.6" stroke="#000000" stroke-width="1.50" stroke-dasharray="5.40 4.50" stroke-dashoffset="0.00"/>
</g>
<text x="34.10" y="268.00" text-anchor="middle" font-size="12.00" font-weight="bold" fill="#161616" stroke="#161616" stroke-width="0.25" letter-spacing="-0.5">0</text>
<text x="92.20" y="268.00" text-anchor="middle" font-size="12.00" font-weight="bold" fill="#161616" stroke="#161616" stroke-width="0.25" letter-spacing="-0.5">2</text>
<text x="150.30" y="268.00" text-anchor="middle" font-size="12.00" font-weight="bold" fill="#161616" stroke="#161616" stroke-width="0.25" letter-spacing="-0.5">4</text>
<text x="208.40" y="268.00" text-anchor="middle" font-size="12.00" font-weight="bold" fill="#161616" stroke="#161616" stroke-width="0.25" letter-spacing="-0.5">6</text>
<text x="266.50" y="268.00" text-anchor="middle" font-size="12.00" font-weight="bold" fill="#161616" stroke="#161616" stroke-width="0.25" letter-spacing="-0.5">8</text>
<text x="324.60" y="268.00" text-anchor="middle" font-size="12.00" font-weight="bold" fill="#161616" stroke="#161616" stroke-width="0.25" letter-spacing="-0.5">10</text>
<text x="29.90" y="9.85" text-anchor="end" font-size="12.00" font-weight="bold" fill="#161616" stroke="#161616" stroke-width="0.25" letter-spacing="-0.5">20</text>
<text x="29.90" y="40.82" text-anchor="end" font-size="12.00" font-weight="bold" fill="#161616" stroke="#161616" stroke-width="0.25" letter-spacing="-0.5">15</text>
<text x="29.90" y="71.79" text-anchor="end" font-size="12.00" font-weight="bold" fill="#161616" stroke="#161616" stroke-width="0.25" letter-spacing="-0.5">10</text>
<text x="29.90" y="102.76" text-anchor="end" font-size="12.00" font-weight="bold" fill="#161616" stroke="#161616" stroke-width="0.25" letter-spacing="-0.5">5</text>
<text x="29.90" y="133.73" text-anchor="end" font-size="12.00" font-weight="bold" fill="#161616" stroke="#161616" stroke-width="0.25" letter-spacing="-0.5">0</text>
<text x="29.90" y="164.69" text-anchor="end" font-size="12.00" font-weight="bold" fill="#161616" stroke="#161616" stroke-width="0.25" letter-spacing="-0.5">-5</text>
<text x="29.90" y="195.66" text-anchor="end" font-size="12.00" font-weight="bold" fill="#161616" stroke="#161616" stroke-width="0.25" letter-spacing="-0.5">-10</text>
<text x="29.90" y="226.63" text-anchor="end" font-size="12.00" font-weight="bold" fill="#161616" stroke="#161616" stroke-width="0.25" letter-spacing="-0.5">-15</text>
<text x="29.90" y="257.60" text-anchor="end" font-size="12.00" font-weight="bold" fill="#161616" stroke="#161616" stroke-width="0.25" letter-spacing="-0.5">-20</text>
<text x="180.00" y="282.10" text-anchor="middle" font-size="12.40" font-weight="bold" fill="#161616" stroke="#161616" stroke-width="0.25">time(s)</text>
<g transform="translate(10.10,129.20) rotate(-90)"><text x="0.00" y="0.00" text-anchor="middle" font-size="12.40" font-weight="bold" fill="#161616" stroke="#161616" stroke-width="0.25">Control effort (A)</text></g>
<rect x="177.30" y="11.80" width="141.00" height="52.60" fill="#fff" stroke="#3a3a3a" stroke-width="1"/>
<line x1="179.90" y1="19.10" x2="203.90" y2="19.10" stroke="#0000ff" stroke-width="1.70"/>
<g transform="translate(206.30,22.32) scale(1.074,1)"><text x="0.00" y="0.00" text-anchor="start" font-size="9.60" font-weight="bold" fill="#161616" stroke="#161616" stroke-width="0.20">Predefined time, Ts = 1</text></g>
<line x1="179.90" y1="31.70" x2="203.90" y2="31.70" stroke="#ff0000" stroke-width="1.30" stroke-dasharray="0.90 0.85"/>
<g transform="translate(206.30,34.92) scale(1.074,1)"><text x="0.00" y="0.00" text-anchor="start" font-size="9.60" font-weight="bold" fill="#161616" stroke="#161616" stroke-width="0.20">Predefined time, Ts = 1.5</text></g>
<line x1="179.90" y1="44.30" x2="203.90" y2="44.30" stroke="#00f800" stroke-width="1.60" stroke-dasharray="3.90 1.00 1.00 1.00"/>
<g transform="translate(206.30,47.52) scale(1.074,1)"><text x="0.00" y="0.00" text-anchor="start" font-size="9.60" font-weight="bold" fill="#161616" stroke="#161616" stroke-width="0.20">Predefined time, Ts = 2</text></g>
<line x1="179.90" y1="56.90" x2="203.90" y2="56.90" stroke="#000000" stroke-width="1.60" stroke-dasharray="5.40 4.50" stroke-dashoffset="0.00"/>
<g transform="translate(206.30,60.12) scale(1.074,1)"><text x="0.00" y="0.00" text-anchor="start" font-size="9.60" font-weight="bold" fill="#161616" stroke="#161616" stroke-width="0.20">Predefined time, Ts = 3</text></g>
<text x="179.60" y="303.20" text-anchor="middle" font-size="17.30" font-weight="bold" fill="#161616" stroke="#161616" stroke-width="0.45" font-family='"Liberation Sans", "DejaVu Sans", sans-serif' letter-spacing="-0.30">(a)</text>
</g>
<g>
<line x1="446.12" y1="4.55" x2="446.12" y2="254.40" stroke="#000" stroke-opacity="0.135" stroke-width="0.75"/>
<line x1="504.24" y1="4.55" x2="504.24" y2="254.40" stroke="#000" stroke-opacity="0.135" stroke-width="0.75"/>
<line x1="562.36" y1="4.55" x2="562.36" y2="254.40" stroke="#000" stroke-opacity="0.135" stroke-width="0.75"/>
<line x1="620.48" y1="4.55" x2="620.48" y2="254.40" stroke="#000" stroke-opacity="0.135" stroke-width="0.75"/>
<line x1="388.00" y1="35.78" x2="678.60" y2="35.78" stroke="#000" stroke-opacity="0.135" stroke-width="0.65"/>
<line x1="388.00" y1="67.01" x2="678.60" y2="67.01" stroke="#000" stroke-opacity="0.135" stroke-width="0.65"/>
<line x1="388.00" y1="98.24" x2="678.60" y2="98.24" stroke="#000" stroke-opacity="0.135" stroke-width="0.65"/>
<line x1="388.00" y1="129.47" x2="678.60" y2="129.47" stroke="#000" stroke-opacity="0.135" stroke-width="0.65"/>
<line x1="388.00" y1="160.71" x2="678.60" y2="160.71" stroke="#000" stroke-opacity="0.135" stroke-width="0.65"/>
<line x1="388.00" y1="191.94" x2="678.60" y2="191.94" stroke="#000" stroke-opacity="0.135" stroke-width="0.65"/>
<line x1="388.00" y1="223.17" x2="678.60" y2="223.17" stroke="#000" stroke-opacity="0.135" stroke-width="0.65"/>
<path d="M388.00 4.55H678.60V254.40" fill="none" stroke="#3a3a3a" stroke-width="1.05"/>
<path d="M388.00 4.55V254.40H678.60" fill="none" stroke="#3a3a3a" stroke-width="1.35" stroke-linecap="square"/>
<path d="M446.12 254.40v-2.80M446.12 4.55v2.80M504.24 254.40v-2.80M504.24 4.55v2.80M562.36 254.40v-2.80M562.36 4.55v2.80M620.48 254.40v-2.80M620.48 4.55v2.80M388.00 35.78h2.80M678.60 35.78h-2.80M388.00 67.01h2.80M678.60 67.01h-2.80M388.00 98.24h2.80M678.60 98.24h-2.80M388.00 129.47h2.80M678.60 129.47h-2.80M388.00 160.71h2.80M678.60 160.71h-2.80M388.00 191.94h2.80M678.60 191.94h-2.80M388.00 223.17h2.80M678.60 223.17h-2.80" fill="none" stroke="#3a3a3a" stroke-width="0.9"/>
<clipPath id="clipb"><rect x="386.80" y="4.55" width="292.80" height="249.85"/></clipPath>
<g clip-path="url(#clipb)" fill="none" stroke-linejoin="round">
<path d="M388.0 39.2L388.1 47.3L388.2 54.1L388.3 60.9L388.4 67.1L388.5 72.6L388.6 77.2L388.6 77.1L388.7 81.6L388.7 83.2L388.8 85.5L388.9 89.1L389.0 92.2L389.1 95.5L389.2 97.7L389.3 100.4L389.4 102.7L389.5 104.3L389.5 104.2L389.6 106.6L389.7 108.1L389.7 109.3L389.8 109.4L389.9 110.7L390.0 111.6L390.1 113.1L390.2 113.9L390.3 115.0L390.4 115.9L390.4 116.5L390.5 116.7L390.5 117.0L390.6 117.3L390.6 117.8L390.7 118.1L390.8 119.0L390.9 118.9L391.0 119.9L391.1 120.1L391.2 120.3L391.3 120.8L391.3 120.9L391.4 120.9L391.5 121.3L391.5 121.1L391.6 121.8L391.7 121.5L391.8 121.8L391.9 122.0L392.0 122.1L392.1 122.4L392.1 122.4L392.2 122.4L392.3 122.9L392.4 122.8L392.4 122.9L392.5 123.0L392.6 123.1L392.7 123.6L392.8 123.3L392.9 123.3L393.0 123.2L393.1 123.4L393.2 123.7L393.3 123.7L393.4 123.9L393.5 123.9L393.6 124.0L393.7 123.7L393.8 123.9L393.9 124.0L394.0 124.2L394.1 124.2L394.2 124.1L394.3 124.4L394.4 124.2L394.5 124.2L394.6 124.5L394.7 124.5L394.8 124.7L394.9 124.3L395.0 124.6L395.1 124.5L395.2 124.8L395.2 124.9L395.3 124.8L395.4 124.6L395.5 124.6L395.6 124.8L395.7 125.0L395.8 125.0L395.9 124.9L396.0 125.3L396.1 125.0L396.2 125.3L396.3 125.2L396.4 125.1L396.5 125.3L396.6 125.3L396.7 125.2L397.0 125.5L397.2 125.6L397.4 125.7L397.7 125.6L397.9 125.5L398.2 125.7L398.4 126.1L398.6 125.7L398.9 125.7L399.1 126.1L399.3 126.0L399.6 126.0L399.8 126.2L400.1 126.0L400.3 126.1L400.5 126.4L400.8 126.7L401.0 126.5L401.3 126.1L401.5 126.2L401.7 126.5L402.0 126.7L402.2 126.3L402.5 126.5L402.7 126.4L402.9 126.3L403.2 126.6L403.4 126.7L403.7 126.8L403.9 126.7L404.1 126.9L404.4 126.6L404.6 126.8L404.8 126.5L405.1 126.9L405.3 126.8L405.6 127.0L405.8 126.7L406.0 127.1L406.3 126.7L406.5 126.8L406.8 127.3L407.0 127.2L407.2 127.0L407.5 127.0L407.7 126.7L408.0 127.2L408.2 127.1L408.4 127.1L408.7 127.1L408.9 126.8L409.2 127.2L409.4 127.5L409.6 126.9L409.9 127.2L410.1 127.5L410.4 127.4L410.6 127.3L410.8 127.3L411.1 127.2L411.3 127.4L411.5 127.5L411.8 127.6L412.0 127.4L412.3 127.4L412.5 127.4L412.7 127.9L413.0 127.7L413.2 127.4L413.5 127.2L413.7 127.4L413.9 128.0L414.2 128.0L414.4 127.5L414.7 127.6L414.9 127.7L415.1 127.3L415.4 127.9L415.6 127.5L415.8 127.7L416.1 127.9L416.3 128.2L416.6 128.0L416.8 127.5L417.0 127.8L417.3 127.7L417.5 127.8L417.8 127.9L418.0 127.7L418.2 127.9L418.5 128.0L418.7 128.0L419.0 128.1L419.2 127.9L419.4 128.0L419.7 127.8L419.9 128.1L420.2 128.2L420.4 128.4L420.6 127.9L420.9 127.6L421.1 128.1L421.3 128.5L421.6 127.9L421.8 128.2L422.1 128.0L422.3 128.1L422.5 128.0L422.8 128.1L423.0 128.2L423.3 128.0L423.5 128.2L423.7 128.0L424.0 128.3L424.2 128.2L424.5 128.4L424.7 128.1L424.9 128.4L425.2 128.4L425.4 128.1L425.7 128.2L425.9 128.3L426.1 128.5L426.4 128.3L426.6 128.3L426.9 128.2L427.1 128.5L427.3 128.3L427.6 128.7L427.8 128.4L428.0 128.6L428.3 128.3L428.5 128.5L428.8 128.0L429.0 128.4L429.2 128.4L429.5 128.9L429.7 128.8L430.0 128.3L430.2 128.7L430.4 128.3L430.7 128.7L430.9 128.5L431.2 128.7L431.4 128.5L431.6 128.5L431.9 128.5L432.1 128.8L432.3 128.9L432.6 128.5L432.8 128.6L433.1 128.5L433.3 129.0L433.5 128.5L433.8 128.8L434.0 129.0L434.3 128.9L434.5 128.5L434.7 128.7L435.0 128.7L435.2 128.8L435.5 128.9L435.7 128.4L435.9 128.8L436.2 129.3L436.4 129.4L436.7 129.1L436.9 129.0L437.1 128.6L437.4 129.9L437.6 128.6L437.8 128.5L438.1 129.1L438.3 128.4L438.6 129.3L438.8 129.1L439.0 129.2L439.3 128.3L439.5 128.5L439.8 128.6L440.0 129.5L440.2 129.0L440.5 129.5L440.7 129.0L441.0 128.9L441.2 128.6L441.4 129.2L441.7 129.0L441.9 129.2L442.2 129.5L442.4 128.6L442.6 129.0L442.9 128.5L443.1 128.5L443.4 128.9L443.6 128.5L443.8 128.0L444.1 127.7L444.1 127.7L444.3 128.1L444.5 128.2L444.8 128.9L445.0 129.0L445.3 129.4L445.5 129.2L445.5 129.4L445.7 129.4L446.0 129.8L446.2 130.3L446.5 130.1L446.7 130.1L446.9 130.2L447.2 130.2L447.4 130.3L447.7 130.7L447.9 130.6L448.1 131.2L448.4 130.9L448.6 131.5L448.8 131.2L449.1 131.8L449.3 131.3L449.6 131.1L449.8 131.4L450.0 131.2L450.3 131.2L450.5 131.9L450.8 131.8L451.0 131.4L451.2 131.6L451.5 131.5L451.7 130.9L452.0 131.1L452.2 131.3L452.4 131.6L452.7 131.3L452.9 131.4L453.2 131.5L453.4 131.1L453.6 131.8L453.9 131.2L454.1 131.5L454.3 131.2L454.6 131.5L454.8 131.6L455.1 131.6L455.3 131.4L455.5 131.4L455.8 130.9L456.0 131.2L456.3 131.5L456.5 131.8L456.7 131.5L457.0 131.4L457.2 131.9L457.5 131.5L457.7 131.3L457.9 131.6L458.2 131.9L458.4 131.4L458.7 131.3L458.9 131.6L459.1 131.6L459.4 131.4L459.6 131.5L459.9 131.7L460.1 131.7L460.3 131.6L460.6 131.6L460.8 131.4L461.0 131.8L461.3 131.6L461.5 131.7L461.8 132.0L462.0 131.5L462.2 131.6L462.5 131.9L462.7 132.0L463.0 131.5L463.2 131.4L463.4 131.7L463.7 131.7L463.9 131.6L464.2 131.8L464.4 131.8L464.6 131.5L464.9 131.9L465.1 131.5L465.3 131.7L465.6 131.5L465.8 132.1L466.1 131.5L466.3 131.8L466.5 131.6L466.8 131.9L467.0 132.0L467.3 131.6L467.5 131.7L467.7 131.7L468.0 131.7L468.2 131.7L468.5 132.1L468.7 131.9L468.9 131.9L469.2 131.4L469.4 131.6L469.7 132.0L469.9 132.1L470.1 131.7L470.4 131.7L470.6 131.6L470.9 132.1L471.1 131.5L471.3 131.8L471.6 131.6L471.8 131.8L472.0 132.0L472.3 132.0L472.5 131.6L472.8 132.5L473.0 131.7L473.2 131.8L473.5 132.1L473.7 131.8L474.0 132.0L474.2 132.2L474.4 132.0L474.7 131.8L474.9 131.9L475.2 132.1L475.4 131.8L475.6 131.8L475.9 131.7L476.1 131.9L476.4 131.7L476.6 132.1L476.8 132.0L477.1 132.2L477.3 131.9L477.5 131.9L477.8 131.9L478.0 132.2L478.3 131.7L478.5 132.2L478.7 132.1L479.0 132.5L479.2 131.7L479.5 131.7L479.7 131.9L479.9 131.8L480.2 132.1L480.4 132.1L480.7 132.1L480.9 131.8L481.1 131.9L481.4 131.8L481.6 132.1L481.8 132.1L482.1 131.8L482.3 131.8L482.6 131.8L482.8 132.0L483.0 131.8L483.3 132.1L483.5 132.0L483.8 131.8L484.0 132.0L484.2 132.0L484.5 132.0L484.7 131.5L485.0 131.9L485.2 131.7L485.4 131.8L485.7 131.3L485.9 131.8L486.2 131.6L486.4 131.6L486.6 131.7L486.9 131.8L487.1 132.0L487.4 131.6L487.6 131.3L487.8 131.6L488.1 131.3L488.3 131.6L488.5 131.5L488.8 131.8L489.0 131.7L489.3 131.6L489.5 131.5L489.7 131.9L490.0 132.0L490.2 131.7L490.5 131.7L490.7 131.6L490.9 131.4L491.2 131.8L491.4 131.3L491.7 131.6L491.9 131.7L492.1 132.0L492.4 131.4L492.6 131.3L492.9 131.5L493.1 131.5L493.3 131.7L493.6 131.9L493.8 131.7L494.0 131.8L494.3 131.8L494.5 131.7L494.8 131.6L495.0 131.4L495.2 131.2L495.5 131.5L495.7 131.2L496.0 131.5L496.2 131.4L496.4 131.3L496.7 131.5L496.9 131.2L497.2 131.4L497.4 131.5L497.6 131.5L497.9 130.7L498.1 131.1L498.3 131.4L498.6 131.1L498.8 131.5L499.1 131.3L499.3 131.3L499.5 131.9L499.8 131.2L500.0 130.9L500.3 130.9L500.5 131.1L500.7 130.4L501.0 131.4L501.2 130.3L501.5 130.4L501.7 130.8L501.9 130.0L502.2 131.4L502.4 130.7L502.7 131.0L502.9 131.4L503.1 131.0L503.4 130.5L503.6 130.5L503.9 130.3L504.1 131.2L504.3 130.8L504.6 130.8L504.8 131.1L505.0 130.6L505.3 132.2L505.5 131.4L505.8 130.9L506.0 130.7L506.2 129.9L506.5 130.8L506.7 129.0L507.0 131.4L507.2 128.8L507.4 130.9L507.7 131.0L507.9 130.7L508.2 130.5L508.4 130.2L508.6 130.3L508.9 129.6L509.1 129.3L509.3 130.7L509.6 128.9L509.8 129.6L510.1 129.7L510.3 129.1L510.5 129.7L510.8 128.6L511.0 130.4L511.3 128.7L511.5 129.8L511.7 129.0L512.0 129.7L512.2 128.3L512.5 129.1L512.7 128.8L512.9 129.8L513.2 130.0L513.4 129.0L513.7 128.3L513.9 129.0L514.1 129.7L514.4 128.2L514.6 129.2L514.8 128.6L515.1 129.2L515.3 129.1L515.6 128.7L515.8 129.7L516.0 129.1L516.3 128.8L516.5 128.8L516.8 129.1L517.0 128.2L517.2 128.6L517.5 128.5L517.7 128.9L518.0 128.4L518.2 128.2L518.4 128.1L518.7 128.1L518.9 128.2L519.2 128.3L519.4 128.2L519.6 128.1L519.9 128.2L520.1 128.2L520.4 128.1L520.6 128.2L520.8 128.1L521.1 128.1L521.3 128.3L521.5 127.8L521.8 128.0L522.0 128.2L522.3 128.2L522.5 128.1L522.7 128.1L523.0 128.2L523.2 128.0L523.5 128.1L523.7 128.2L523.9 127.7L524.2 128.0L524.4 127.9L524.7 128.2L524.9 128.1L525.1 128.1L525.4 127.7L525.6 127.7L525.8 127.9L526.1 127.9L526.3 127.8L526.6 128.0L526.8 127.9L527.0 127.6L527.3 128.0L527.5 127.7L527.8 127.8L528.0 127.7L528.2 127.8L528.5 127.6L528.7 127.6L529.0 127.6L529.2 128.0L529.4 127.7L529.7 127.4L529.9 127.8L530.2 127.9L530.4 127.7L530.5 127.5L530.6 127.9L530.7 127.6L530.8 127.7L530.9 127.6L531.0 127.5L531.1 127.7L531.2 127.7L531.3 127.6L531.4 127.3L531.5 127.5L531.6 127.5L531.7 127.8L531.8 127.7L531.9 127.9L532.0 127.5L532.1 127.4L532.2 127.5L532.3 127.5L532.3 127.7L532.4 127.7L532.5 127.4L532.6 127.7L532.7 127.4L532.7 127.3L532.8 127.8L532.9 127.8L533.0 127.3L533.0 127.4L533.1 127.3L533.2 127.3L533.2 139.7L533.3 151.3L533.3 155.3L533.4 171.7L533.4 175.7L533.5 155.2L533.6 136.2L533.6 129.2L533.7 102.1L533.7 96.5L533.8 112.8L533.9 128.2L533.9 134.8L534.0 156.0L534.1 177.3L534.1 178.9L534.2 165.3L534.2 158.3L534.3 135.4L534.4 113.0L534.5 98.0L534.5 109.2L534.6 139.1L534.7 169.8L534.8 189.2L534.8 177.5L534.9 147.6L535.0 117.2L535.0 99.4L535.1 107.9L535.2 130.0L535.3 152.5L535.4 173.9L535.4 177.7L535.5 160.8L535.6 140.8L535.7 121.2L535.8 101.2L535.8 100.4L535.9 115.1L535.9 123.3L536.0 130.8L536.1 146.0L536.2 140.4L536.2 136.8L536.3 134.0L536.4 127.8L536.5 127.5L536.5 127.7L536.6 127.8L536.7 127.6L536.8 127.1L536.9 127.7L537.0 127.7L537.1 127.4L537.2 127.7L537.3 127.2L537.4 127.8L537.5 127.6L537.6 127.4L537.7 127.6L537.8 127.7L537.9 127.9L538.0 127.6L538.1 127.4L538.2 127.7L538.3 127.8L538.4 127.4L538.5 127.4L538.6 127.5L538.7 127.6L538.8 127.8L538.9 127.4L539.0 127.6L539.1 127.7L539.2 127.6L539.3 127.5L539.4 127.5L539.5 127.6L539.6 127.7L539.7 127.8L539.8 127.7L539.9 127.7L540.0 127.6L540.1 127.6L540.2 127.7L540.3 127.7L540.4 127.5L540.5 127.7L540.6 127.7L540.6 127.7L540.7 127.7L540.8 127.6L540.9 127.5L541.0 127.7L541.1 127.7L541.2 127.6L541.3 127.5L541.4 127.4L541.5 127.9L541.6 127.5L541.7 127.8L541.8 127.6L541.9 127.5L542.0 127.3L542.3 127.8L542.5 127.5L542.8 128.2L543.0 127.7L543.2 128.1L543.5 127.9L543.7 127.9L544.0 128.0L544.2 127.8L544.5 128.0L544.7 128.0L545.0 127.9L545.2 127.9L545.4 127.7L545.7 127.9L545.9 128.0L546.2 128.1L546.4 127.7L546.7 127.8L546.9 127.7L547.1 128.0L547.4 127.6L547.6 127.7L547.9 127.4L548.1 127.9L548.4 127.7L548.6 127.6L548.9 127.9L549.1 127.9L549.3 128.0L549.6 127.9L549.8 127.7L550.1 127.9L550.3 128.1L550.6 127.5L550.8 128.1L551.1 127.7L551.3 127.9L551.5 127.8L551.8 127.8L552.0 127.8L552.3 127.8L552.5 127.6L552.8 128.1L553.0 128.2L553.3 128.3L553.5 128.4L553.7 127.9L554.0 128.3L554.2 128.3L554.2 127.9L554.5 127.0L554.7 125.9L555.0 125.3L555.1 124.5L555.2 125.1L555.5 125.9L555.7 126.9L555.9 127.9L556.0 127.8L556.2 127.4L556.4 128.2L556.7 128.0L556.9 127.9L557.2 128.1L557.4 128.3L557.7 127.9L557.9 127.9L558.1 128.0L558.4 128.3L558.6 128.5L558.9 128.3L559.1 127.9L559.4 127.9L559.6 128.3L559.9 128.1L560.1 127.9L560.3 127.9L560.6 128.4L560.8 128.2L561.1 128.2L561.3 128.4L561.6 127.9L561.8 128.5L562.1 128.1L562.3 128.0L562.5 128.2L562.8 128.1L563.0 128.7L563.3 128.3L563.5 128.3L563.8 128.3L564.0 128.6L564.3 128.4L564.5 128.5L564.7 128.1L565.0 128.5L565.2 128.4L565.5 128.5L565.7 128.5L566.0 128.1L566.2 128.2L566.5 128.4L566.7 128.6L566.9 128.6L567.2 128.9L567.4 128.5L567.7 128.5L567.9 128.6L568.2 128.8L568.4 128.4L568.7 128.5L568.9 128.6L569.1 128.3L569.4 128.6L569.6 128.2L569.9 128.8L570.1 128.7L570.4 128.9L570.6 128.5L570.8 128.9L571.1 128.7L571.3 128.8L571.6 129.1L571.8 128.0L572.1 128.4L572.3 129.0L572.6 128.5L572.8 128.8L573.0 129.1L573.3 128.1L573.5 128.6L573.8 128.7L574.0 128.7L574.3 128.7L574.5 128.6L574.8 128.9L575.0 128.9L575.2 129.0L575.5 129.9L575.7 129.2L576.0 128.4L576.2 128.2L576.5 129.0L576.7 129.6L577.0 128.5L577.2 129.7L577.4 129.8L577.7 130.1L577.9 130.5L578.2 128.1L578.4 129.2L578.7 131.0L578.9 129.8L579.2 130.4L579.4 128.8L579.6 129.7L579.9 129.8L580.1 129.0L580.4 128.4L580.6 129.9L580.9 129.5L581.1 130.0L581.4 128.9L581.6 129.3L581.8 129.4L582.1 130.0L582.3 128.6L582.6 129.7L582.8 128.8L583.1 128.8L583.3 130.3L583.6 129.7L583.8 129.5L584.0 130.3L584.3 129.7L584.5 129.5L584.8 130.7L585.0 129.9L585.3 129.5L585.5 130.0L585.8 130.1L586.0 130.6L586.2 129.8L586.5 129.7L586.7 129.9L587.0 129.0L587.2 129.8L587.5 130.1L587.7 128.8L588.0 129.5L588.2 129.2L588.4 129.1L588.7 130.2L588.9 130.5L589.2 129.0L589.4 131.1L589.7 130.3L589.9 129.1L590.2 130.4L590.4 129.6L590.6 130.5L590.9 128.9L591.1 130.1L591.4 129.7L591.6 130.7L591.9 129.8L592.1 129.9L592.3 130.4L592.6 129.9L592.8 130.3L593.1 130.1L593.3 130.5L593.6 130.5L593.8 130.8L594.1 130.2L594.3 130.4L594.5 130.6L594.8 129.9L595.0 130.4L595.3 130.5L595.5 130.7L595.8 130.2L596.0 130.5L596.3 130.7L596.5 130.6L596.7 130.5L597.0 130.6L597.2 130.4L597.5 130.4L597.7 130.3L598.0 130.8L598.2 130.7L598.5 130.8L598.7 130.8L598.9 130.8L599.2 130.9L599.4 130.6L599.7 131.1L599.9 130.8L600.2 130.8L600.4 130.7L600.7 130.9L600.9 130.9L601.1 131.0L601.4 130.9L601.6 131.0L601.9 130.9L602.1 130.8L602.4 130.7L602.6 131.2L602.9 131.0L603.1 131.1L603.3 131.1L603.6 131.3L603.8 131.2L604.1 131.1L604.3 131.2L604.6 131.3L604.8 131.1L605.1 131.3L605.3 131.4L605.5 131.4L605.8 131.4L606.0 131.5L606.3 131.3L606.5 131.5L606.8 131.7L607.0 131.3L607.3 131.6L607.5 131.8L607.7 131.6L608.0 131.7L608.2 131.6L608.5 131.8L608.7 131.7L609.0 132.0L609.2 131.9L609.5 131.7L609.7 131.8L609.9 131.4L610.2 131.9L610.4 131.7L610.7 132.0L610.9 131.5L611.2 131.8L611.4 132.1L611.7 131.7L611.9 131.9L612.1 131.4L612.4 131.6L612.6 132.0L612.9 131.7L613.1 131.8L613.4 131.9L613.6 131.9L613.9 131.9L614.1 132.1L614.3 131.9L614.6 132.0L614.8 132.0L615.1 132.0L615.3 132.1L615.6 131.6L615.8 131.9L616.1 131.9L616.3 131.5L616.5 132.0L616.8 132.2L617.0 132.4L617.3 132.3L617.5 131.9L617.8 132.3L618.0 132.5L618.3 132.1L618.5 132.1L618.7 131.8L619.0 132.4L619.2 131.9L619.5 132.6L619.7 131.9L620.0 132.1L620.2 132.4L620.4 132.0L620.7 132.2L620.9 132.1L621.2 132.2L621.4 132.0L621.7 132.1L621.9 132.4L622.2 132.4L622.4 132.4L622.6 132.2L622.9 132.2L623.1 132.3L623.4 132.4L623.6 132.4L623.9 132.3L624.1 132.2L624.4 132.2L624.6 132.1L624.8 132.1L625.1 132.5L625.3 131.9L625.6 132.2L625.8 132.4L626.1 132.4L626.3 132.4L626.6 132.6L626.8 132.6L627.0 132.5L627.3 132.6L627.5 133.0L627.8 132.4L628.0 132.9L628.3 132.5L628.5 132.6L628.8 132.7L629.0 132.4L629.2 132.7L629.5 132.8L629.7 132.5L630.0 132.5L630.2 132.7L630.5 132.7L630.7 132.7L631.0 132.5L631.2 132.5L631.4 132.4L631.7 132.6L631.9 132.7L632.2 132.4L632.4 132.1L632.7 132.2L632.9 132.7L633.2 132.4L633.4 132.6L633.6 132.5L633.9 132.6L634.1 132.7L634.4 132.8L634.6 132.4L634.9 132.7L635.1 132.6L635.4 132.6L635.6 132.5L635.8 132.6L636.1 132.5L636.3 132.6L636.6 132.4L636.8 132.4L637.1 132.2L637.3 132.4L637.6 132.6L637.8 132.4L638.0 132.3L638.3 132.6L638.5 132.6L638.8 132.9L639.0 132.2L639.3 132.4L639.5 132.2L639.7 132.7L640.0 132.9L640.2 132.4L640.5 132.6L640.7 132.4L641.0 132.6L641.2 132.3L641.5 132.5L641.7 132.4L641.9 132.3L642.2 132.5L642.4 132.5L642.7 132.2L642.9 132.4L643.2 132.3L643.4 132.3L643.7 132.3L643.9 132.3L644.1 132.0L644.4 132.2L644.6 132.6L644.9 132.8L645.1 132.5L645.4 132.8L645.6 132.8L645.9 132.5L646.1 132.5L646.3 132.3L646.6 132.2L646.8 131.9L647.1 132.5L647.3 132.4L647.6 132.3L647.8 132.1L648.1 132.4L648.3 132.5L648.5 132.8L648.8 132.1L649.0 132.3L649.3 132.0L649.5 131.9L649.8 131.9L650.0 132.1L650.3 132.0L650.5 132.4L650.7 132.0L651.0 132.2L651.2 131.9L651.5 132.1L651.7 132.0L652.0 132.1L652.2 131.6L652.5 131.9L652.7 132.1L652.9 131.9L653.2 132.1L653.4 131.6L653.7 131.5L653.9 131.7L654.2 131.6L654.4 131.9L654.7 131.3L654.9 131.6L655.1 131.2L655.4 131.6L655.6 131.4L655.9 131.3L656.1 131.3L656.4 131.4L656.6 131.2L656.9 131.3L657.1 131.3L657.3 131.5L657.6 131.0L657.8 131.2L658.1 131.1L658.3 131.2L658.6 131.1L658.8 131.2L659.1 130.6L659.3 130.7L659.5 130.9L659.8 130.9L660.0 130.8L660.3 131.1L660.5 130.8L660.8 130.9L661.0 130.9L661.3 130.9L661.5 130.9L661.7 130.6L662.0 130.7L662.2 130.8L662.5 130.5L662.7 130.6L663.0 130.6L663.2 130.3L663.5 130.5L663.7 130.7L663.9 130.4L664.2 130.6L664.4 130.2L664.7 130.2L664.9 130.3L665.2 130.1L665.4 130.2L665.7 130.2L665.9 130.3L666.1 130.4L666.4 130.0L666.6 129.5L666.9 130.0L667.1 129.8L667.4 129.8L667.6 129.6L667.9 129.8L668.1 129.6L668.3 129.4L668.6 129.5L668.8 129.4L669.1 129.4L669.3 129.2L669.6 129.1L669.8 129.0L670.0 129.0L670.3 129.3L670.5 129.1L670.8 128.9L671.0 128.9L671.3 128.7L671.5 129.0L671.8 128.9L672.0 128.9L672.2 128.6L672.5 128.7L672.7 128.7L673.0 128.4L673.2 128.5L673.5 128.6L673.7 128.3L674.0 128.3L674.2 128.1L674.4 128.1L674.7 128.2L674.9 128.1L675.2 128.0L675.4 127.9L675.7 127.9L675.9 127.7L676.2 127.9L676.4 127.8L676.6 127.5L676.9 127.9L677.1 127.8L677.4 127.4L677.6 127.4L677.9 127.3L678.1 127.2L678.4 127.2L678.6 127.4" stroke="#0000ff" stroke-width="2.00"/>
<path d="M388.0 108.9L388.1 105.0L388.2 102.3L388.3 98.7L388.4 94.8L388.5 90.5L388.6 87.3L388.6 88.3L388.7 89.5L388.7 90.1L388.8 90.8L388.9 92.2L389.0 93.8L389.1 95.8L389.2 96.4L389.3 98.0L389.4 100.4L389.5 101.3L389.5 101.1L389.6 102.8L389.7 104.3L389.7 105.9L389.8 105.6L389.9 108.7L390.0 110.0L390.1 111.8L390.2 114.9L390.3 116.1L390.4 118.5L390.4 121.2L390.5 121.3L390.5 122.4L390.6 124.7L390.6 125.2L390.7 127.9L390.8 129.1L390.9 130.2L391.0 131.8L391.1 133.2L391.2 134.7L391.3 136.0L391.3 136.7L391.4 135.2L391.5 135.8L391.5 135.3L391.6 135.6L391.7 134.5L391.8 133.7L391.9 133.1L392.0 133.1L392.1 132.6L392.1 133.1L392.2 132.3L392.3 132.8L392.4 131.9L392.4 132.1L392.5 131.8L392.6 131.8L392.7 131.7L392.8 131.5L392.9 131.7L393.0 132.3L393.1 131.0L393.2 131.7L393.3 130.9L393.4 131.0L393.5 130.9L393.6 130.9L393.7 130.8L393.8 130.7L393.9 130.7L394.0 130.8L394.1 130.6L394.2 130.5L394.3 130.9L394.4 130.6L394.5 131.3L394.6 131.1L394.7 131.5L394.8 130.9L394.9 130.6L395.0 130.5L395.1 131.3L395.2 130.4L395.2 131.2L395.3 130.9L395.4 131.0L395.5 130.1L395.6 130.7L395.7 129.9L395.8 130.3L395.9 130.9L396.0 130.6L396.1 130.2L396.2 131.1L396.3 131.0L396.4 130.8L396.5 130.9L396.6 130.9L396.7 130.1L397.0 130.7L397.2 130.9L397.4 130.9L397.7 131.3L397.9 130.4L398.2 131.0L398.4 129.3L398.6 130.6L398.9 131.0L399.1 131.3L399.3 131.0L399.6 130.6L399.8 131.0L400.1 130.5L400.3 130.5L400.5 130.5L400.8 130.6L401.0 130.8L401.3 131.1L401.5 131.3L401.7 131.4L402.0 131.0L402.2 130.5L402.5 130.8L402.7 131.2L402.9 130.4L403.2 131.2L403.4 131.3L403.7 131.2L403.9 131.1L404.1 130.8L404.4 131.3L404.6 131.5L404.8 130.6L405.1 130.7L405.3 130.6L405.6 130.5L405.8 130.8L406.0 130.1L406.3 130.9L406.5 130.8L406.8 130.3L407.0 130.6L407.2 130.9L407.5 130.8L407.7 131.3L408.0 130.5L408.2 130.9L408.4 130.6L408.7 130.3L408.9 130.5L409.2 130.7L409.4 130.7L409.6 130.8L409.9 130.1L410.1 131.6L410.4 131.0L410.6 131.2L410.8 130.6L411.1 130.9L411.3 130.8L411.5 130.0L411.8 130.7L412.0 130.5L412.3 131.0L412.5 131.1L412.7 131.2L413.0 130.2L413.2 131.3L413.5 131.0L413.7 129.9L413.9 130.7L414.2 130.8L414.4 130.9L414.7 131.3L414.9 130.7L415.1 130.4L415.4 131.2L415.6 131.0L415.8 130.2L416.1 131.0L416.3 130.5L416.6 129.9L416.8 131.2L417.0 130.9L417.3 131.2L417.5 131.8L417.8 130.3L418.0 130.6L418.2 131.0L418.5 130.7L418.7 131.1L419.0 131.5L419.2 131.1L419.4 131.2L419.7 131.3L419.9 130.5L420.2 131.3L420.4 131.4L420.6 130.8L420.9 130.7L421.1 130.2L421.3 130.8L421.6 131.5L421.8 131.3L422.1 130.5L422.3 131.2L422.5 130.7L422.8 130.2L423.0 131.6L423.3 131.6L423.5 131.0L423.7 131.0L424.0 130.6L424.2 131.6L424.5 130.7L424.7 131.1L424.9 131.7L425.2 131.1L425.4 130.8L425.7 130.3L425.9 131.3L426.1 130.7L426.4 131.6L426.6 130.6L426.9 131.0L427.1 130.4L427.3 131.6L427.6 131.5L427.8 131.7L428.0 130.3L428.3 131.2L428.5 131.8L428.8 131.4L429.0 130.7L429.2 130.8L429.5 130.9L429.7 131.6L430.0 131.1L430.2 131.9L430.4 131.7L430.7 130.8L430.9 130.7L431.2 131.2L431.4 131.9L431.6 131.5L431.9 131.3L432.1 130.4L432.3 131.4L432.6 131.7L432.8 131.6L433.1 131.5L433.3 131.4L433.5 131.2L433.8 130.3L434.0 131.4L434.3 132.1L434.5 130.7L434.7 131.5L435.0 131.5L435.2 131.4L435.5 131.0L435.7 131.1L435.9 131.0L436.2 131.3L436.4 131.2L436.7 131.7L436.9 131.6L437.1 131.5L437.4 131.4L437.6 131.9L437.8 131.7L438.1 130.7L438.3 130.7L438.6 130.5L438.8 130.8L439.0 130.9L439.3 130.5L439.5 131.0L439.8 131.4L440.0 131.4L440.2 131.1L440.5 131.1L440.7 131.3L441.0 131.4L441.2 131.3L441.4 131.6L441.7 130.3L441.9 131.1L442.2 132.1L442.4 130.9L442.6 131.6L442.9 131.4L443.1 131.3L443.4 130.9L443.6 131.3L443.8 131.2L444.1 131.4L444.1 130.3L444.3 131.3L444.5 131.7L444.8 131.9L445.0 131.3L445.3 131.5L445.5 131.3L445.5 131.2L445.7 131.8L446.0 131.3L446.2 131.7L446.5 131.7L446.7 131.8L446.9 131.5L447.2 131.7L447.4 131.7L447.7 131.5L447.9 131.9L448.1 130.8L448.4 131.1L448.6 131.6L448.8 131.3L449.1 131.8L449.3 131.4L449.6 132.1L449.8 131.5L450.0 131.4L450.3 131.6L450.5 131.1L450.8 131.8L451.0 131.4L451.2 131.2L451.5 131.2L451.7 131.5L452.0 130.8L452.2 131.1L452.4 131.2L452.7 131.8L452.9 131.5L453.2 131.7L453.4 130.6L453.6 131.4L453.9 131.8L454.1 131.2L454.3 131.1L454.6 131.8L454.8 131.5L455.1 130.5L455.3 131.5L455.5 131.4L455.8 130.2L456.0 131.6L456.3 132.1L456.5 132.0L456.7 131.5L457.0 131.3L457.2 132.0L457.5 132.5L457.7 131.4L457.9 131.7L458.2 131.8L458.4 132.0L458.7 131.1L458.9 131.7L459.1 132.2L459.4 132.1L459.6 131.8L459.9 132.3L460.1 131.9L460.3 131.2L460.6 131.3L460.8 131.2L461.0 131.3L461.3 131.6L461.5 131.5L461.8 132.4L462.0 131.4L462.2 131.4L462.5 131.6L462.7 131.6L463.0 132.2L463.2 131.9L463.4 132.4L463.7 131.9L463.9 131.8L464.2 132.0L464.4 131.3L464.6 132.1L464.9 131.6L465.1 131.7L465.3 131.8L465.6 131.5L465.8 131.6L466.1 131.9L466.3 131.2L466.5 131.8L466.8 131.5L467.0 132.2L467.3 132.2L467.5 131.7L467.7 130.8L468.0 132.4L468.2 132.3L468.5 132.2L468.7 132.0L468.9 131.8L469.2 131.4L469.4 131.9L469.7 131.6L469.9 131.8L470.1 132.1L470.4 132.1L470.6 131.7L470.9 131.8L471.1 131.3L471.3 131.8L471.6 131.9L471.8 132.4L472.0 132.2L472.3 131.8L472.5 131.8L472.8 131.2L473.0 132.2L473.2 131.6L473.5 132.0L473.7 132.8L474.0 132.4L474.2 131.8L474.4 132.1L474.7 132.2L474.9 131.4L475.2 132.0L475.4 131.8L475.6 131.5L475.9 132.0L476.1 131.6L476.4 132.2L476.6 132.3L476.8 131.3L477.1 131.2L477.3 131.4L477.5 132.0L477.8 131.8L478.0 132.1L478.3 132.0L478.5 131.6L478.7 131.8L479.0 131.1L479.2 132.2L479.5 131.7L479.7 132.0L479.9 132.0L480.2 130.6L480.4 130.7L480.7 131.2L480.9 131.1L481.1 131.1L481.4 131.3L481.6 132.6L481.8 132.2L482.1 131.0L482.3 132.3L482.6 130.6L482.8 130.8L483.0 131.0L483.3 130.9L483.5 130.8L483.8 131.3L484.0 130.2L484.2 131.1L484.5 131.4L484.7 130.2L485.0 130.9L485.2 130.8L485.4 130.4L485.7 129.9L485.9 130.8L486.2 130.7L486.4 131.3L486.6 130.7L486.9 130.0L487.1 131.0L487.4 131.0L487.6 131.3L487.8 131.1L488.1 131.1L488.3 130.5L488.5 130.3L488.8 131.2L489.0 130.2L489.3 129.8L489.5 129.9L489.7 130.5L490.0 129.8L490.2 130.4L490.5 130.6L490.7 130.7L490.9 130.7L491.2 130.1L491.4 129.7L491.7 130.7L491.9 130.7L492.1 129.3L492.4 130.2L492.6 128.8L492.9 129.5L493.1 130.3L493.3 129.2L493.6 129.1L493.8 130.3L494.0 129.6L494.3 128.9L494.5 130.1L494.8 129.2L495.0 129.2L495.2 128.4L495.5 128.7L495.7 129.4L496.0 129.8L496.2 129.3L496.4 129.0L496.7 129.0L496.9 129.2L497.2 129.4L497.4 128.4L497.6 129.0L497.9 129.1L498.1 128.7L498.3 128.7L498.6 128.7L498.8 128.1L499.1 129.1L499.3 128.5L499.5 128.1L499.8 128.7L500.0 128.4L500.3 128.1L500.5 128.1L500.7 128.3L501.0 128.8L501.2 128.6L501.5 128.2L501.7 128.3L501.9 128.3L502.2 128.3L502.4 128.8L502.7 127.7L502.9 128.4L503.1 127.3L503.4 126.7L503.6 127.5L503.9 127.6L504.1 128.1L504.3 128.2L504.6 127.9L504.8 127.3L505.0 127.7L505.3 128.4L505.5 127.4L505.8 127.9L506.0 127.3L506.2 127.7L506.5 128.0L506.7 127.9L507.0 127.3L507.2 127.9L507.4 127.1L507.7 128.0L507.9 127.0L508.2 128.2L508.4 128.1L508.6 127.4L508.9 127.0L509.1 127.7L509.3 127.2L509.6 128.0L509.8 128.0L510.1 127.6L510.3 126.6L510.5 127.7L510.8 128.2L511.0 128.6L511.3 127.6L511.5 127.3L511.7 127.7L512.0 127.5L512.2 127.9L512.5 127.0L512.7 127.3L512.9 128.1L513.2 127.8L513.4 127.0L513.7 127.5L513.9 128.5L514.1 127.6L514.4 127.7L514.6 128.6L514.8 127.3L515.1 126.9L515.3 127.7L515.6 127.8L515.8 127.6L516.0 127.7L516.3 127.5L516.5 127.2L516.8 128.1L517.0 127.6L517.2 126.6L517.5 127.5L517.7 127.4L518.0 127.3L518.2 127.8L518.4 128.1L518.7 126.5L518.9 127.5L519.2 127.9L519.4 127.1L519.6 127.7L519.9 127.9L520.1 127.7L520.4 128.1L520.6 127.9L520.8 127.1L521.1 127.4L521.3 127.6L521.5 126.9L521.8 127.2L522.0 127.7L522.3 128.1L522.5 127.7L522.7 127.0L523.0 127.9L523.2 126.6L523.5 127.6L523.7 128.1L523.9 127.7L524.2 126.9L524.4 127.8L524.7 127.3L524.9 127.2L525.1 127.8L525.4 127.1L525.6 126.9L525.8 127.2L526.1 128.3L526.3 127.4L526.6 127.2L526.8 127.2L527.0 126.7L527.3 127.4L527.5 127.5L527.8 128.4L528.0 128.1L528.2 127.1L528.5 128.0L528.7 127.7L529.0 128.3L529.2 127.7L529.4 128.1L529.7 127.4L529.9 127.6L530.2 127.4L530.4 128.2L530.5 127.7L530.6 127.2L530.7 128.9L530.8 127.8L530.9 127.6L531.0 127.2L531.1 127.3L531.2 127.3L531.3 127.4L531.4 127.2L531.5 127.6L531.6 127.6L531.7 128.1L531.8 127.7L531.9 127.7L532.0 126.9L532.1 128.1L532.2 127.5L532.3 127.7L532.3 127.6L532.4 127.1L532.5 127.6L532.6 128.0L532.7 127.5L532.7 127.2L532.8 127.4L532.9 127.3L533.0 128.2L533.0 126.6L533.1 124.9L533.2 124.6L533.2 122.1L533.3 121.1L533.3 119.8L533.4 116.8L533.4 117.2L533.5 121.8L533.6 125.0L533.6 126.8L533.7 132.5L533.7 134.9L533.8 138.8L533.9 141.8L533.9 142.3L534.0 140.1L534.1 137.9L534.1 137.6L534.2 136.6L534.2 137.0L534.3 133.6L534.4 132.3L534.5 130.1L534.5 129.2L534.6 128.3L534.7 125.7L534.8 123.8L534.8 123.8L534.9 124.4L535.0 125.3L535.0 125.1L535.1 125.8L535.2 125.0L535.3 125.7L535.4 125.5L535.4 127.3L535.5 126.6L535.6 126.9L535.7 127.1L535.8 127.7L535.8 127.0L535.9 127.8L535.9 126.8L536.0 127.8L536.1 127.8L536.2 127.9L536.2 127.3L536.3 127.4L536.4 128.0L536.5 128.9L536.5 127.8L536.6 128.0L536.7 127.6L536.8 128.0L536.9 127.5L537.0 128.1L537.1 127.5L537.2 127.7L537.3 127.2L537.4 127.7L537.5 127.3L537.6 127.7L537.7 127.7L537.8 127.9L537.9 128.2L538.0 127.5L538.1 127.6L538.2 126.9L538.3 127.4L538.4 126.8L538.5 126.8L538.6 127.5L538.7 128.1L538.8 127.7L538.9 127.2L539.0 127.6L539.1 127.1L539.2 127.8L539.3 127.6L539.4 127.2L539.5 127.3L539.6 127.5L539.7 127.5L539.8 127.4L539.9 127.7L540.0 127.2L540.1 127.9L540.2 126.3L540.3 127.5L540.4 128.0L540.5 128.3L540.6 128.0L540.6 127.5L540.7 127.9L540.8 127.1L540.9 127.8L541.0 128.1L541.1 127.8L541.2 127.9L541.3 127.8L541.4 128.2L541.5 127.7L541.6 128.5L541.7 127.6L541.8 127.7L541.9 127.8L542.0 128.0L542.3 127.7L542.5 127.6L542.8 128.5L543.0 127.3L543.2 127.8L543.5 127.5L543.7 127.1L544.0 128.3L544.2 128.2L544.5 128.2L544.7 127.7L545.0 128.2L545.2 128.1L545.4 127.0L545.7 127.9L545.9 127.6L546.2 127.3L546.4 127.2L546.7 128.4L546.9 127.6L547.1 127.5L547.4 127.3L547.6 128.1L547.9 128.0L548.1 127.8L548.4 127.8L548.6 128.0L548.9 128.1L549.1 127.9L549.3 128.0L549.6 127.8L549.8 128.2L550.1 128.3L550.3 128.1L550.6 128.0L550.8 127.4L551.1 128.1L551.3 128.8L551.5 127.0L551.8 127.4L552.0 127.7L552.3 127.7L552.5 127.9L552.8 127.2L553.0 128.5L553.3 127.6L553.5 127.6L553.7 126.9L554.0 128.0L554.2 127.3L554.2 127.8L554.5 128.4L554.7 128.5L555.0 127.5L555.1 128.5L555.2 128.2L555.5 127.3L555.7 128.5L555.9 127.8L556.0 127.2L556.2 127.4L556.4 127.7L556.7 128.4L556.9 127.3L557.2 127.8L557.4 128.1L557.7 128.6L557.9 129.0L558.1 127.9L558.4 128.3L558.6 128.9L558.9 127.7L559.1 128.0L559.4 128.4L559.6 128.3L559.9 127.9L560.1 127.9L560.3 128.6L560.6 127.8L560.8 128.3L561.1 128.6L561.3 128.2L561.6 128.2L561.8 127.7L562.1 127.9L562.3 129.2L562.5 128.8L562.8 127.9L563.0 128.1L563.3 128.7L563.5 128.5L563.8 127.6L564.0 129.4L564.3 127.8L564.5 127.9L564.7 128.6L565.0 128.5L565.2 128.2L565.5 128.4L565.7 128.2L566.0 127.9L566.2 128.7L566.5 128.5L566.7 128.3L566.9 128.7L567.2 128.5L567.4 127.9L567.7 129.5L567.9 128.4L568.2 128.8L568.4 129.1L568.7 128.7L568.9 128.5L569.1 128.3L569.4 129.0L569.6 128.4L569.9 128.1L570.1 128.6L570.4 128.4L570.6 128.5L570.8 128.5L571.1 129.2L571.3 128.3L571.6 128.6L571.8 128.0L572.1 128.5L572.3 129.2L572.6 128.3L572.8 128.3L573.0 128.4L573.3 129.0L573.5 129.1L573.8 128.3L574.0 129.3L574.3 128.6L574.5 128.9L574.8 129.3L575.0 129.2L575.2 129.3L575.5 128.8L575.7 129.4L576.0 129.1L576.2 129.2L576.5 128.9L576.7 128.7L577.0 129.8L577.2 129.0L577.4 129.5L577.7 129.3L577.9 129.3L578.2 128.5L578.4 128.6L578.7 129.4L578.9 129.4L579.2 128.7L579.4 129.1L579.6 128.5L579.9 129.6L580.1 128.8L580.4 129.6L580.6 130.7L580.9 129.1L581.1 129.8L581.4 129.1L581.6 129.6L581.8 128.9L582.1 130.1L582.3 130.2L582.6 128.9L582.8 129.0L583.1 129.5L583.3 130.3L583.6 129.2L583.8 128.5L584.0 129.8L584.3 129.8L584.5 130.0L584.8 129.5L585.0 129.7L585.3 130.4L585.5 130.0L585.8 129.3L586.0 130.2L586.2 129.6L586.5 129.3L586.7 129.5L587.0 130.6L587.2 129.6L587.5 130.3L587.7 130.7L588.0 129.7L588.2 130.6L588.4 130.0L588.7 129.4L588.9 129.7L589.2 130.0L589.4 129.6L589.7 130.0L589.9 129.7L590.2 129.5L590.4 130.5L590.6 129.3L590.9 130.1L591.1 130.1L591.4 130.0L591.6 130.3L591.9 130.3L592.1 129.9L592.3 130.5L592.6 130.0L592.8 129.9L593.1 130.5L593.3 130.4L593.6 130.1L593.8 130.3L594.1 130.1L594.3 130.4L594.5 130.5L594.8 130.5L595.0 130.3L595.3 129.9L595.5 131.2L595.8 130.7L596.0 130.7L596.3 130.9L596.5 130.8L596.7 130.1L597.0 130.2L597.2 130.9L597.5 131.3L597.7 130.5L598.0 130.5L598.2 131.2L598.5 130.6L598.7 130.6L598.9 130.5L599.2 131.0L599.4 130.6L599.7 130.9L599.9 130.5L600.2 130.8L600.4 130.6L600.7 130.9L600.9 131.1L601.1 130.9L601.4 130.6L601.6 131.2L601.9 130.9L602.1 130.0L602.4 131.4L602.6 131.7L602.9 131.5L603.1 131.3L603.3 131.2L603.6 132.2L603.8 132.1L604.1 130.9L604.3 131.9L604.6 131.0L604.8 130.8L605.1 132.7L605.3 131.1L605.5 131.4L605.8 131.5L606.0 131.2L606.3 131.5L606.5 131.2L606.8 130.7L607.0 131.4L607.3 132.0L607.5 130.9L607.7 131.1L608.0 131.0L608.2 131.4L608.5 131.2L608.7 130.8L609.0 131.7L609.2 131.9L609.5 131.0L609.7 131.8L609.9 131.2L610.2 131.9L610.4 131.9L610.7 131.6L610.9 131.6L611.2 132.1L611.4 131.1L611.7 132.0L611.9 131.5L612.1 132.2L612.4 132.1L612.6 132.1L612.9 131.8L613.1 131.8L613.4 131.8L613.6 131.9L613.9 131.5L614.1 131.5L614.3 132.1L614.6 131.9L614.8 131.7L615.1 131.6L615.3 131.7L615.6 132.1L615.8 132.1L616.1 132.0L616.3 131.8L616.5 132.5L616.8 132.4L617.0 132.2L617.3 132.0L617.5 132.3L617.8 132.2L618.0 132.4L618.3 131.9L618.5 133.0L618.7 132.1L619.0 132.4L619.2 132.1L619.5 132.1L619.7 133.4L620.0 131.7L620.2 131.9L620.4 131.5L620.7 131.9L620.9 131.8L621.2 132.0L621.4 131.5L621.7 132.8L621.9 132.3L622.2 132.7L622.4 131.9L622.6 132.2L622.9 131.6L623.1 132.2L623.4 132.4L623.6 132.4L623.9 132.7L624.1 133.2L624.4 132.4L624.6 132.6L624.8 132.6L625.1 132.9L625.3 132.4L625.6 132.9L625.8 132.3L626.1 132.5L626.3 132.6L626.6 133.2L626.8 132.3L627.0 132.1L627.3 132.6L627.5 132.8L627.8 132.3L628.0 132.2L628.3 132.7L628.5 131.4L628.8 132.0L629.0 131.9L629.2 132.4L629.5 132.4L629.7 133.0L630.0 132.7L630.2 132.5L630.5 132.3L630.7 132.8L631.0 132.9L631.2 132.1L631.4 132.5L631.7 132.1L631.9 132.5L632.2 132.8L632.4 132.6L632.7 133.6L632.9 132.1L633.2 132.3L633.4 132.0L633.6 132.6L633.9 131.7L634.1 132.0L634.4 133.3L634.6 133.3L634.9 132.4L635.1 133.1L635.4 132.6L635.6 132.6L635.8 132.6L636.1 131.8L636.3 132.2L636.6 132.2L636.8 132.4L637.1 131.2L637.3 131.9L637.6 132.8L637.8 132.2L638.0 132.8L638.3 132.5L638.5 132.5L638.8 133.0L639.0 133.2L639.3 133.0L639.5 132.2L639.7 133.6L640.0 132.2L640.2 133.3L640.5 132.8L640.7 132.7L641.0 132.1L641.2 132.4L641.5 132.9L641.7 132.7L641.9 132.3L642.2 131.9L642.4 132.3L642.7 132.4L642.9 132.5L643.2 131.7L643.4 132.7L643.7 132.6L643.9 132.2L644.1 131.8L644.4 133.1L644.6 131.9L644.9 131.9L645.1 132.2L645.4 133.2L645.6 132.7L645.9 132.4L646.1 132.2L646.3 132.9L646.6 132.4L646.8 132.0L647.1 132.6L647.3 132.5L647.6 132.5L647.8 132.9L648.1 132.5L648.3 132.4L648.5 132.0L648.8 132.6L649.0 132.8L649.3 132.4L649.5 132.6L649.8 132.0L650.0 132.4L650.3 132.8L650.5 131.9L650.7 132.1L651.0 132.0L651.2 131.9L651.5 131.5L651.7 132.4L652.0 131.7L652.2 131.9L652.5 131.8L652.7 131.9L652.9 132.0L653.2 131.6L653.4 131.7L653.7 131.4L653.9 131.0L654.2 132.0L654.4 130.7L654.7 131.0L654.9 132.0L655.1 131.5L655.4 131.4L655.6 130.9L655.9 131.8L656.1 130.6L656.4 131.7L656.6 131.4L656.9 131.5L657.1 131.7L657.3 131.6L657.6 131.3L657.8 131.2L658.1 131.3L658.3 131.4L658.6 132.1L658.8 131.0L659.1 130.0L659.3 130.1L659.5 130.3L659.8 130.9L660.0 130.5L660.3 130.9L660.5 130.8L660.8 130.5L661.0 130.1L661.3 130.7L661.5 130.8L661.7 130.5L662.0 131.1L662.2 130.0L662.5 129.9L662.7 129.8L663.0 129.9L663.2 130.5L663.5 130.3L663.7 130.5L663.9 130.0L664.2 129.1L664.4 130.4L664.7 129.7L664.9 129.3L665.2 130.3L665.4 128.9L665.7 130.0L665.9 129.7L666.1 129.5L666.4 129.2L666.6 129.2L666.9 129.6L667.1 129.7L667.4 130.4L667.6 129.6L667.9 128.7L668.1 129.6L668.3 128.9L668.6 128.8L668.8 129.0L669.1 129.3L669.3 129.2L669.6 128.9L669.8 129.6L670.0 128.2L670.3 129.2L670.5 129.0L670.8 128.9L671.0 128.7L671.3 128.4L671.5 128.0L671.8 128.3L672.0 127.7L672.2 128.5L672.5 128.0L672.7 127.9L673.0 128.1L673.2 127.8L673.5 128.5L673.7 127.4L674.0 127.6L674.2 127.8L674.4 128.0L674.7 127.4L674.9 128.2L675.2 127.4L675.4 127.2L675.7 126.5L675.9 127.6L676.2 126.9L676.4 127.2L676.6 128.1L676.9 127.9L677.1 127.5L677.4 126.8L677.6 126.6L677.9 127.3L678.1 127.0L678.4 127.0L678.6 128.2" stroke="#ff0000" stroke-width="1.30" stroke-dasharray="0.90 0.85"/>
<path d="M388.0 116.8L388.1 115.2L388.2 114.5L388.3 112.7L388.4 111.1L388.5 109.6L388.6 108.0L388.6 108.1L388.7 109.4L388.7 109.6L388.8 110.4L388.9 111.3L389.0 112.2L389.1 113.1L389.2 114.3L389.3 114.8L389.4 116.1L389.5 117.0L389.5 117.0L389.6 118.1L389.7 118.8L389.7 119.9L389.8 120.0L389.9 120.6L390.0 121.4L390.1 122.3L390.2 123.2L390.3 123.8L390.4 124.5L390.4 125.7L390.5 125.5L390.5 126.6L390.6 127.7L390.6 128.1L390.7 129.1L390.8 130.1L390.9 131.6L391.0 133.0L391.1 133.7L391.2 134.8L391.3 136.3L391.3 136.2L391.4 135.6L391.5 135.9L391.5 135.6L391.6 135.2L391.7 134.5L391.8 134.5L391.9 133.9L392.0 133.2L392.1 133.0L392.1 132.8L392.2 132.8L392.3 132.1L392.4 132.1L392.4 131.8L392.5 131.8L392.6 131.6L392.7 131.7L392.8 131.6L392.9 131.5L393.0 131.5L393.1 131.3L393.2 131.5L393.3 131.4L393.4 131.4L393.5 131.0L393.6 130.8L393.7 130.8L393.8 131.1L393.9 130.7L394.0 130.7L394.1 130.8L394.2 130.7L394.3 130.6L394.4 130.5L394.5 130.5L394.6 130.4L394.7 130.6L394.8 130.9L394.9 130.5L395.0 131.0L395.1 130.6L395.2 130.9L395.2 130.9L395.3 130.5L395.4 130.9L395.5 130.5L395.6 130.6L395.7 130.8L395.8 130.6L395.9 130.6L396.0 130.7L396.1 130.9L396.2 130.6L396.3 130.8L396.4 130.8L396.5 130.7L396.6 130.8L396.7 130.7L397.0 130.7L397.2 130.7L397.4 130.7L397.7 130.5L397.9 130.8L398.2 130.8L398.4 131.0L398.6 131.2L398.9 130.6L399.1 130.7L399.3 130.5L399.6 131.0L399.8 130.9L400.1 130.9L400.3 130.4L400.5 130.6L400.8 130.8L401.0 130.8L401.3 130.7L401.5 131.0L401.7 130.7L402.0 131.0L402.2 130.8L402.5 130.7L402.7 130.7L402.9 130.9L403.2 130.8L403.4 130.6L403.7 130.9L403.9 131.0L404.1 130.8L404.4 130.9L404.6 130.8L404.8 130.8L405.1 130.9L405.3 130.9L405.6 130.6L405.8 130.7L406.0 130.6L406.3 130.8L406.5 130.9L406.8 130.7L407.0 131.1L407.2 131.0L407.5 130.7L407.7 130.9L408.0 130.9L408.2 131.0L408.4 130.7L408.7 131.0L408.9 130.6L409.2 130.8L409.4 131.1L409.6 130.9L409.9 131.0L410.1 130.7L410.4 130.7L410.6 130.9L410.8 130.9L411.1 130.7L411.3 130.9L411.5 130.6L411.8 130.9L412.0 130.8L412.3 131.2L412.5 130.8L412.7 130.9L413.0 130.8L413.2 130.6L413.5 130.9L413.7 131.3L413.9 131.2L414.2 130.8L414.4 131.0L414.7 131.1L414.9 130.7L415.1 130.9L415.4 130.7L415.6 130.7L415.8 130.9L416.1 130.8L416.3 131.1L416.6 130.8L416.8 130.9L417.0 130.6L417.3 130.7L417.5 130.9L417.8 131.0L418.0 130.9L418.2 130.9L418.5 130.7L418.7 130.7L419.0 131.1L419.2 131.1L419.4 130.8L419.7 131.1L419.9 130.9L420.2 131.2L420.4 131.0L420.6 131.0L420.9 131.0L421.1 131.1L421.3 130.8L421.6 130.8L421.8 130.8L422.1 131.0L422.3 131.0L422.5 131.1L422.8 131.1L423.0 131.0L423.3 131.0L423.5 131.0L423.7 130.9L424.0 130.8L424.2 131.1L424.5 131.0L424.7 130.9L424.9 131.0L425.2 131.1L425.4 131.2L425.7 130.9L425.9 131.2L426.1 130.9L426.4 131.2L426.6 130.7L426.9 131.2L427.1 130.7L427.3 130.9L427.6 130.8L427.8 130.8L428.0 130.9L428.3 131.1L428.5 130.6L428.8 131.1L429.0 131.0L429.2 131.3L429.5 131.1L429.7 131.0L430.0 131.2L430.2 131.1L430.4 131.1L430.7 131.1L430.9 131.0L431.2 130.9L431.4 131.2L431.6 131.4L431.9 131.0L432.1 131.3L432.3 131.2L432.6 131.3L432.8 130.9L433.1 130.7L433.3 131.2L433.5 130.7L433.8 131.1L434.0 131.2L434.3 130.9L434.5 130.8L434.7 131.2L435.0 131.2L435.2 130.8L435.5 131.0L435.7 131.7L435.9 131.2L436.2 131.3L436.4 131.3L436.7 131.2L436.9 131.3L437.1 131.3L437.4 130.8L437.6 131.5L437.8 131.2L438.1 131.1L438.3 131.5L438.6 131.4L438.8 131.4L439.0 131.1L439.3 131.4L439.5 131.1L439.8 131.5L440.0 131.5L440.2 131.2L440.5 131.1L440.7 131.5L441.0 131.5L441.2 131.2L441.4 131.5L441.7 131.5L441.9 131.5L442.2 131.2L442.4 131.8L442.6 131.0L442.9 131.0L443.1 131.1L443.4 131.3L443.6 131.4L443.8 131.2L444.1 131.5L444.1 130.9L444.3 131.4L444.5 131.1L444.8 131.2L445.0 131.4L445.3 131.4L445.5 131.5L445.5 131.3L445.7 131.2L446.0 131.4L446.2 131.4L446.5 131.4L446.7 131.1L446.9 131.2L447.2 131.3L447.4 131.5L447.7 131.5L447.9 131.3L448.1 131.5L448.4 131.5L448.6 131.2L448.8 131.4L449.1 131.4L449.3 131.5L449.6 131.4L449.8 131.3L450.0 131.4L450.3 131.7L450.5 131.5L450.8 131.4L451.0 131.4L451.2 131.3L451.5 131.5L451.7 131.5L452.0 131.3L452.2 131.5L452.4 131.3L452.7 131.8L452.9 131.7L453.2 131.3L453.4 131.4L453.6 131.4L453.9 131.4L454.1 131.4L454.3 131.7L454.6 131.3L454.8 131.4L455.1 131.8L455.3 131.8L455.5 131.5L455.8 131.7L456.0 131.5L456.3 131.6L456.5 131.9L456.7 131.7L457.0 131.7L457.2 131.6L457.5 131.5L457.7 131.7L457.9 131.5L458.2 131.7L458.4 131.7L458.7 132.1L458.9 131.7L459.1 131.9L459.4 131.5L459.6 131.5L459.9 131.6L460.1 131.3L460.3 131.6L460.6 131.5L460.8 131.7L461.0 131.6L461.3 131.9L461.5 131.8L461.8 131.5L462.0 131.7L462.2 131.8L462.5 131.7L462.7 131.6L463.0 131.5L463.2 132.0L463.4 131.7L463.7 131.8L463.9 131.8L464.2 131.8L464.4 131.7L464.6 131.5L464.9 132.1L465.1 132.0L465.3 131.8L465.6 132.1L465.8 131.7L466.1 132.0L466.3 131.8L466.5 132.0L466.8 132.0L467.0 131.3L467.3 131.9L467.5 131.6L467.7 131.8L468.0 131.7L468.2 132.0L468.5 131.8L468.7 132.0L468.9 132.4L469.2 132.4L469.4 131.9L469.7 131.8L469.9 132.0L470.1 132.1L470.4 132.0L470.6 131.6L470.9 132.2L471.1 131.8L471.3 131.7L471.6 132.2L471.8 132.1L472.0 132.0L472.3 132.1L472.5 131.8L472.8 131.9L473.0 132.0L473.2 131.9L473.5 131.7L473.7 132.0L474.0 132.1L474.2 131.8L474.4 131.6L474.7 131.7L474.9 131.8L475.2 132.0L475.4 131.8L475.6 131.8L475.9 131.8L476.1 131.9L476.4 131.7L476.6 131.7L476.8 132.0L477.1 131.6L477.3 131.9L477.5 131.7L477.8 131.7L478.0 131.6L478.3 131.7L478.5 131.7L478.7 131.7L479.0 131.7L479.2 131.8L479.5 131.4L479.7 131.6L479.9 131.4L480.2 131.4L480.4 131.3L480.7 131.3L480.9 131.6L481.1 131.4L481.4 131.3L481.6 131.4L481.8 131.4L482.1 131.2L482.3 131.0L482.6 131.1L482.8 131.0L483.0 131.1L483.3 130.8L483.5 131.1L483.8 130.9L484.0 130.4L484.2 130.9L484.5 131.0L484.7 131.2L485.0 131.2L485.2 130.5L485.4 130.9L485.7 131.0L485.9 130.9L486.2 131.0L486.4 130.8L486.6 130.8L486.9 130.6L487.1 130.4L487.4 130.5L487.6 130.6L487.8 130.5L488.1 130.2L488.3 130.7L488.5 130.6L488.8 130.5L489.0 130.6L489.3 130.2L489.5 130.3L489.7 130.4L490.0 130.1L490.2 130.2L490.5 130.0L490.7 130.1L490.9 130.1L491.2 130.2L491.4 129.8L491.7 130.1L491.9 129.7L492.1 129.8L492.4 129.8L492.6 129.9L492.9 129.4L493.1 129.7L493.3 129.5L493.6 129.7L493.8 129.3L494.0 129.4L494.3 129.2L494.5 129.2L494.8 129.4L495.0 129.5L495.2 129.3L495.5 129.3L495.7 129.3L496.0 128.8L496.2 128.9L496.4 129.0L496.7 128.9L496.9 128.8L497.2 128.9L497.4 128.9L497.6 128.8L497.9 128.7L498.1 128.4L498.3 128.9L498.6 128.7L498.8 128.7L499.1 128.2L499.3 128.7L499.5 128.3L499.8 128.4L500.0 128.3L500.3 128.2L500.5 128.3L500.7 128.4L501.0 127.9L501.2 128.4L501.5 128.5L501.7 128.3L501.9 128.0L502.2 128.2L502.4 128.0L502.7 127.8L502.9 127.8L503.1 127.8L503.4 127.7L503.6 127.8L503.9 127.6L504.1 127.8L504.3 127.5L504.6 127.5L504.8 127.7L505.0 127.5L505.3 127.5L505.5 127.5L505.8 127.6L506.0 127.9L506.2 127.7L506.5 127.5L506.7 127.4L507.0 127.9L507.2 127.8L507.4 128.0L507.7 127.8L507.9 127.5L508.2 127.7L508.4 127.5L508.6 127.3L508.9 127.9L509.1 127.5L509.3 127.5L509.6 127.5L509.8 127.4L510.1 127.3L510.3 127.4L510.5 127.7L510.8 127.3L511.0 127.1L511.3 127.7L511.5 127.5L511.7 127.4L512.0 127.5L512.2 127.4L512.5 127.4L512.7 127.3L512.9 127.5L513.2 127.5L513.4 127.1L513.7 127.2L513.9 127.5L514.1 127.6L514.4 127.4L514.6 127.3L514.8 127.5L515.1 127.7L515.3 127.6L515.6 127.5L515.8 127.4L516.0 127.4L516.3 127.2L516.5 127.5L516.8 127.6L517.0 127.7L517.2 127.6L517.5 127.5L517.7 127.5L518.0 127.4L518.2 127.4L518.4 127.5L518.7 127.7L518.9 127.4L519.2 127.4L519.4 127.6L519.6 126.8L519.9 127.9L520.1 127.7L520.4 127.5L520.6 127.5L520.8 127.6L521.1 127.4L521.3 127.2L521.5 127.3L521.8 127.4L522.0 127.2L522.3 127.7L522.5 127.5L522.7 127.4L523.0 127.5L523.2 127.5L523.5 127.5L523.7 127.6L523.9 127.7L524.2 127.7L524.4 127.5L524.7 127.4L524.9 127.4L525.1 127.3L525.4 127.9L525.6 127.7L525.8 127.7L526.1 127.5L526.3 127.5L526.6 127.6L526.8 127.3L527.0 127.6L527.3 127.5L527.5 127.4L527.8 127.4L528.0 127.6L528.2 127.3L528.5 127.4L528.7 127.3L529.0 127.5L529.2 127.5L529.4 127.7L529.7 127.9L529.9 127.7L530.2 127.8L530.4 127.5L530.5 127.8L530.6 127.6L530.7 127.7L530.8 127.5L530.9 127.6L531.0 127.3L531.1 127.4L531.2 127.2L531.3 127.5L531.4 127.9L531.5 127.4L531.6 127.2L531.7 127.6L531.8 127.3L531.9 127.6L532.0 127.5L532.1 127.6L532.2 127.7L532.3 127.6L532.3 127.9L532.4 127.5L532.5 127.5L532.6 127.4L532.7 127.6L532.7 127.5L532.8 127.1L532.9 127.4L533.0 127.6L533.0 127.4L533.1 126.8L533.2 126.4L533.2 126.2L533.3 125.5L533.3 125.5L533.4 125.4L533.4 124.7L533.5 124.4L533.6 124.0L533.6 124.1L533.7 125.2L533.7 125.0L533.8 126.3L533.9 127.3L533.9 127.5L534.0 128.5L534.1 129.9L534.1 129.9L534.2 130.8L534.2 131.1L534.3 132.1L534.4 132.9L534.5 134.0L534.5 133.8L534.6 133.3L534.7 133.0L534.8 132.7L534.8 132.6L534.9 131.7L535.0 131.7L535.0 131.1L535.1 131.1L535.2 130.4L535.3 130.5L535.4 129.9L535.4 130.3L535.5 129.2L535.6 128.9L535.7 128.7L535.8 127.8L535.8 127.7L535.9 127.5L535.9 127.3L536.0 127.6L536.1 127.7L536.2 127.9L536.2 127.4L536.3 127.9L536.4 127.6L536.5 127.3L536.5 127.5L536.6 127.8L536.7 127.7L536.8 127.3L536.9 127.8L537.0 127.7L537.1 127.8L537.2 127.6L537.3 127.7L537.4 127.4L537.5 127.8L537.6 127.7L537.7 128.0L537.8 127.3L537.9 127.4L538.0 127.6L538.1 127.6L538.2 127.5L538.3 127.4L538.4 127.9L538.5 127.8L538.6 127.2L538.7 127.4L538.8 127.5L538.9 127.6L539.0 127.4L539.1 127.4L539.2 127.4L539.3 127.8L539.4 127.6L539.5 127.5L539.6 127.6L539.7 127.8L539.8 127.7L539.9 127.8L540.0 127.7L540.1 127.6L540.2 127.5L540.3 127.5L540.4 127.4L540.5 127.6L540.6 127.9L540.6 127.6L540.7 127.7L540.8 128.0L540.9 127.8L541.0 127.6L541.1 127.5L541.2 127.7L541.3 127.9L541.4 127.7L541.5 127.8L541.6 127.4L541.7 127.9L541.8 127.5L541.9 127.7L542.0 127.6L542.3 127.8L542.5 127.6L542.8 127.7L543.0 127.7L543.2 127.9L543.5 127.8L543.7 128.1L544.0 127.6L544.2 127.8L544.5 127.5L544.7 128.0L545.0 127.5L545.2 127.7L545.4 127.9L545.7 127.7L545.9 128.0L546.2 128.0L546.4 127.6L546.7 128.2L546.9 127.8L547.1 127.6L547.4 127.8L547.6 127.6L547.9 127.9L548.1 128.0L548.4 127.6L548.6 127.7L548.9 127.9L549.1 127.6L549.3 128.1L549.6 127.7L549.8 128.0L550.1 127.8L550.3 127.9L550.6 127.9L550.8 127.8L551.1 127.6L551.3 127.7L551.5 127.9L551.8 127.9L552.0 128.1L552.3 127.6L552.5 127.8L552.8 128.1L553.0 127.9L553.3 127.7L553.5 128.1L553.7 127.9L554.0 128.0L554.2 128.0L554.2 128.0L554.5 128.4L554.7 127.8L555.0 128.1L555.1 128.0L555.2 128.3L555.5 127.6L555.7 127.9L555.9 128.4L556.0 128.2L556.2 128.1L556.4 128.2L556.7 128.3L556.9 128.3L557.2 128.2L557.4 128.1L557.7 128.1L557.9 127.9L558.1 128.1L558.4 128.5L558.6 128.2L558.9 127.9L559.1 128.4L559.4 128.1L559.6 128.1L559.9 128.3L560.1 128.2L560.3 128.4L560.6 127.9L560.8 128.1L561.1 128.2L561.3 128.1L561.6 128.1L561.8 128.4L562.1 128.5L562.3 128.5L562.5 128.5L562.8 128.1L563.0 128.1L563.3 128.0L563.5 128.6L563.8 128.3L564.0 128.1L564.3 128.0L564.5 128.4L564.7 128.4L565.0 128.5L565.2 128.3L565.5 128.3L565.7 128.3L566.0 128.5L566.2 128.2L566.5 128.7L566.7 128.4L566.9 128.3L567.2 128.3L567.4 128.5L567.7 128.6L567.9 128.6L568.2 128.7L568.4 128.7L568.7 128.8L568.9 128.4L569.1 128.9L569.4 128.8L569.6 128.4L569.9 128.6L570.1 128.4L570.4 128.4L570.6 128.7L570.8 128.6L571.1 129.0L571.3 128.8L571.6 128.5L571.8 128.7L572.1 128.8L572.3 128.3L572.6 128.7L572.8 129.2L573.0 128.7L573.3 129.4L573.5 128.8L573.8 128.9L574.0 129.1L574.3 129.1L574.5 129.1L574.8 128.5L575.0 129.2L575.2 129.2L575.5 129.1L575.7 129.1L576.0 128.8L576.2 129.0L576.5 129.1L576.7 129.0L577.0 129.1L577.2 129.2L577.4 129.2L577.7 129.2L577.9 129.2L578.2 129.3L578.4 129.3L578.7 129.0L578.9 129.5L579.2 129.2L579.4 129.2L579.6 129.3L579.9 129.3L580.1 129.1L580.4 129.4L580.6 129.3L580.9 129.3L581.1 129.4L581.4 129.4L581.6 129.3L581.8 129.2L582.1 129.7L582.3 129.3L582.6 129.6L582.8 129.7L583.1 129.5L583.3 129.5L583.6 129.9L583.8 129.3L584.0 129.7L584.3 129.5L584.5 129.6L584.8 129.5L585.0 129.7L585.3 129.6L585.5 129.7L585.8 129.8L586.0 129.5L586.2 129.7L586.5 129.7L586.7 129.9L587.0 129.9L587.2 129.8L587.5 130.1L587.7 129.6L588.0 129.9L588.2 129.9L588.4 130.0L588.7 129.9L588.9 129.8L589.2 129.8L589.4 130.1L589.7 130.2L589.9 130.0L590.2 130.0L590.4 130.2L590.6 129.8L590.9 130.2L591.1 130.2L591.4 129.9L591.6 130.2L591.9 130.2L592.1 130.3L592.3 130.4L592.6 130.3L592.8 130.5L593.1 130.1L593.3 130.2L593.6 129.9L593.8 130.3L594.1 130.4L594.3 130.2L594.5 130.5L594.8 130.2L595.0 130.5L595.3 130.8L595.5 130.5L595.8 130.5L596.0 130.4L596.3 130.6L596.5 130.5L596.7 130.5L597.0 130.8L597.2 130.8L597.5 130.8L597.7 131.0L598.0 130.7L598.2 130.6L598.5 130.8L598.7 130.9L598.9 131.0L599.2 130.7L599.4 130.6L599.7 131.2L599.9 130.5L600.2 130.6L600.4 131.0L600.7 130.9L600.9 130.9L601.1 130.9L601.4 131.1L601.6 130.9L601.9 130.9L602.1 130.6L602.4 131.1L602.6 131.2L602.9 130.9L603.1 131.1L603.3 131.1L603.6 131.2L603.8 131.3L604.1 131.3L604.3 131.3L604.6 131.4L604.8 131.4L605.1 131.0L605.3 131.3L605.5 131.5L605.8 131.6L606.0 131.2L606.3 131.5L606.5 131.4L606.8 131.8L607.0 131.9L607.3 131.5L607.5 131.8L607.7 131.5L608.0 131.4L608.2 131.7L608.5 131.7L608.7 131.7L609.0 131.8L609.2 131.7L609.5 131.8L609.7 131.7L609.9 131.7L610.2 131.6L610.4 131.6L610.7 131.7L610.9 131.9L611.2 131.7L611.4 131.6L611.7 131.8L611.9 131.9L612.1 131.4L612.4 132.2L612.6 131.7L612.9 131.8L613.1 131.6L613.4 131.5L613.6 131.8L613.9 132.0L614.1 131.8L614.3 132.1L614.6 131.9L614.8 132.1L615.1 131.9L615.3 132.3L615.6 132.0L615.8 131.9L616.1 132.0L616.3 132.1L616.5 132.1L616.8 132.1L617.0 131.8L617.3 132.1L617.5 132.3L617.8 132.3L618.0 132.2L618.3 132.0L618.5 132.1L618.7 132.0L619.0 131.9L619.2 132.3L619.5 132.1L619.7 132.2L620.0 132.0L620.2 132.0L620.4 132.1L620.7 132.4L620.9 132.3L621.2 132.2L621.4 132.3L621.7 132.4L621.9 132.2L622.2 132.2L622.4 132.2L622.6 132.4L622.9 132.4L623.1 132.5L623.4 132.5L623.6 132.2L623.9 132.4L624.1 132.4L624.4 132.2L624.6 132.5L624.8 132.4L625.1 132.7L625.3 132.3L625.6 132.5L625.8 132.3L626.1 132.3L626.3 132.5L626.6 132.4L626.8 132.7L627.0 132.6L627.3 132.8L627.5 132.3L627.8 132.4L628.0 132.3L628.3 132.3L628.5 132.3L628.8 132.6L629.0 132.8L629.2 132.6L629.5 132.2L629.7 132.5L630.0 132.4L630.2 132.4L630.5 132.5L630.7 132.6L631.0 132.8L631.2 132.4L631.4 132.7L631.7 132.3L631.9 132.5L632.2 132.4L632.4 132.5L632.7 132.8L632.9 132.7L633.2 132.4L633.4 132.8L633.6 132.7L633.9 132.3L634.1 132.9L634.4 132.5L634.6 132.4L634.9 132.2L635.1 132.3L635.4 132.4L635.6 132.8L635.8 132.5L636.1 132.8L636.3 132.4L636.6 132.7L636.8 132.3L637.1 132.4L637.3 132.6L637.6 132.4L637.8 132.4L638.0 132.4L638.3 132.5L638.5 132.3L638.8 132.4L639.0 132.5L639.3 132.4L639.5 132.6L639.7 132.2L640.0 132.3L640.2 132.8L640.5 132.5L640.7 132.4L641.0 132.4L641.2 132.3L641.5 132.2L641.7 132.1L641.9 132.7L642.2 132.2L642.4 132.7L642.7 132.2L642.9 132.3L643.2 132.5L643.4 132.5L643.7 132.5L643.9 132.1L644.1 132.5L644.4 132.4L644.6 132.3L644.9 132.1L645.1 132.5L645.4 132.3L645.6 132.5L645.9 132.2L646.1 132.5L646.3 132.3L646.6 132.3L646.8 132.4L647.1 132.1L647.3 132.0L647.6 132.3L647.8 132.2L648.1 132.3L648.3 132.1L648.5 132.1L648.8 132.2L649.0 132.3L649.3 132.4L649.5 132.3L649.8 132.2L650.0 131.9L650.3 132.0L650.5 132.5L650.7 132.2L651.0 131.8L651.2 131.8L651.5 132.3L651.7 132.0L652.0 131.6L652.2 132.0L652.5 131.9L652.7 131.8L652.9 132.0L653.2 131.5L653.4 131.7L653.7 131.6L653.9 131.7L654.2 131.4L654.4 131.6L654.7 131.7L654.9 131.5L655.1 131.7L655.4 131.5L655.6 130.9L655.9 131.5L656.1 131.5L656.4 131.3L656.6 131.2L656.9 131.1L657.1 131.1L657.3 131.4L657.6 131.2L657.8 131.4L658.1 130.9L658.3 130.9L658.6 130.8L658.8 131.2L659.1 131.2L659.3 130.8L659.5 131.0L659.8 131.0L660.0 130.9L660.3 131.0L660.5 131.0L660.8 130.5L661.0 130.5L661.3 130.4L661.5 130.4L661.7 130.4L662.0 130.3L662.2 130.4L662.5 130.3L662.7 130.3L663.0 130.7L663.2 130.2L663.5 129.9L663.7 129.9L663.9 130.1L664.2 130.0L664.4 130.0L664.7 129.6L664.9 129.6L665.2 130.0L665.4 129.9L665.7 129.8L665.9 129.8L666.1 129.4L666.4 130.0L666.6 129.8L666.9 129.8L667.1 129.6L667.4 129.3L667.6 129.5L667.9 129.1L668.1 128.9L668.3 129.2L668.6 128.9L668.8 129.1L669.1 129.0L669.3 129.0L669.6 128.7L669.8 128.8L670.0 128.7L670.3 128.6L670.5 128.5L670.8 128.8L671.0 128.6L671.3 128.7L671.5 128.6L671.8 128.4L672.0 128.3L672.2 128.3L672.5 128.3L672.7 128.0L673.0 128.1L673.2 128.5L673.5 128.0L673.7 128.1L674.0 127.9L674.2 127.8L674.4 127.6L674.7 127.9L674.9 127.6L675.2 127.7L675.4 127.8L675.7 127.9L675.9 127.5L676.2 127.2L676.4 127.5L676.6 127.2L676.9 127.3L677.1 127.2L677.4 127.3L677.6 127.1L677.9 127.4L678.1 127.0L678.4 126.8L678.6 126.9" stroke="#00f800" stroke-width="1.50" stroke-dasharray="3.90 1.00 1.00 1.00"/>
<path d="M388.0 112.1L388.1 111.4L388.2 110.1L388.3 109.4L388.4 108.3L388.5 107.2L388.6 106.9L388.6 106.5L388.7 105.5L388.7 105.0L388.8 105.5L388.9 106.0L389.0 107.1L389.1 107.8L389.2 109.1L389.3 109.5L389.4 110.3L389.5 110.9L389.5 110.9L389.6 112.0L389.7 113.1L389.7 112.9L389.8 113.6L389.9 115.2L390.0 116.5L390.1 118.3L390.2 120.0L390.3 121.6L390.4 123.1L390.4 125.0L390.5 125.2L390.5 126.1L390.6 127.5L390.6 127.9L390.7 128.7L390.8 130.1L390.9 130.9L391.0 132.2L391.1 133.4L391.2 134.4L391.3 135.5L391.3 135.9L391.4 136.3L391.5 137.2L391.5 136.7L391.6 136.7L391.7 136.1L391.8 135.7L391.9 135.0L392.0 134.3L392.1 133.8L392.1 134.0L392.2 133.5L392.3 132.7L392.4 132.5L392.4 132.7L392.5 132.5L392.6 132.4L392.7 131.9L392.8 132.1L392.9 132.0L393.0 131.6L393.1 131.8L393.2 131.3L393.3 131.7L393.4 131.4L393.5 130.9L393.6 130.9L393.7 131.1L393.8 131.0L393.9 131.0L394.0 130.7L394.1 130.8L394.2 130.7L394.3 130.8L394.4 130.2L394.5 130.5L394.6 131.0L394.7 130.7L394.8 131.0L394.9 130.7L395.0 130.8L395.1 130.7L395.2 130.8L395.2 131.1L395.3 130.6L395.4 131.1L395.5 130.9L395.6 130.9L395.7 130.7L395.8 131.0L395.9 130.8L396.0 130.7L396.1 130.4L396.2 130.9L396.3 130.7L396.4 130.6L396.5 130.8L396.6 130.7L396.7 130.6L397.0 130.9L397.2 131.3L397.4 130.8L397.7 130.7L397.9 130.7L398.2 130.7L398.4 130.5L398.6 130.7L398.9 130.9L399.1 131.0L399.3 131.0L399.6 130.6L399.8 130.9L400.1 130.9L400.3 130.5L400.5 131.0L400.8 130.6L401.0 131.0L401.3 130.9L401.5 130.9L401.7 130.7L402.0 130.8L402.2 130.6L402.5 130.9L402.7 130.4L402.9 130.9L403.2 131.1L403.4 131.0L403.7 131.0L403.9 130.7L404.1 131.0L404.4 130.6L404.6 131.0L404.8 130.9L405.1 130.6L405.3 131.2L405.6 130.4L405.8 131.0L406.0 131.2L406.3 130.5L406.5 130.8L406.8 131.1L407.0 130.7L407.2 130.5L407.5 130.5L407.7 130.7L408.0 131.0L408.2 130.9L408.4 130.7L408.7 130.7L408.9 130.9L409.2 130.5L409.4 131.1L409.6 130.5L409.9 131.0L410.1 130.9L410.4 130.8L410.6 130.7L410.8 130.6L411.1 131.1L411.3 131.0L411.5 131.0L411.8 130.9L412.0 131.0L412.3 131.0L412.5 130.5L412.7 130.7L413.0 130.8L413.2 130.7L413.5 130.9L413.7 131.1L413.9 131.2L414.2 130.7L414.4 130.8L414.7 130.9L414.9 131.0L415.1 130.8L415.4 130.8L415.6 130.6L415.8 130.6L416.1 131.0L416.3 130.5L416.6 130.7L416.8 130.6L417.0 130.9L417.3 130.7L417.5 131.2L417.8 130.6L418.0 131.0L418.2 130.8L418.5 131.0L418.7 130.9L419.0 130.9L419.2 131.1L419.4 130.9L419.7 130.7L419.9 130.9L420.2 130.7L420.4 130.5L420.6 130.9L420.9 130.6L421.1 130.9L421.3 131.1L421.6 130.8L421.8 131.2L422.1 130.9L422.3 130.5L422.5 131.1L422.8 131.2L423.0 131.0L423.3 130.9L423.5 130.8L423.7 131.1L424.0 131.1L424.2 130.8L424.5 131.0L424.7 130.8L424.9 131.1L425.2 130.7L425.4 130.9L425.7 131.0L425.9 131.3L426.1 131.1L426.4 131.0L426.6 130.8L426.9 131.0L427.1 131.2L427.3 131.3L427.6 130.9L427.8 131.3L428.0 130.7L428.3 131.0L428.5 131.1L428.8 131.2L429.0 130.8L429.2 131.1L429.5 131.0L429.7 131.4L430.0 131.0L430.2 131.3L430.4 131.5L430.7 131.1L430.9 131.1L431.2 131.3L431.4 130.5L431.6 131.3L431.9 131.3L432.1 131.1L432.3 131.0L432.6 131.1L432.8 131.2L433.1 130.8L433.3 131.3L433.5 131.5L433.8 131.3L434.0 131.2L434.3 131.1L434.5 130.8L434.7 131.2L435.0 131.2L435.2 131.3L435.5 131.3L435.7 131.0L435.9 131.4L436.2 130.9L436.4 131.4L436.7 131.3L436.9 131.2L437.1 131.5L437.4 131.2L437.6 131.2L437.8 130.9L438.1 131.1L438.3 131.7L438.6 131.1L438.8 131.4L439.0 131.4L439.3 131.4L439.5 130.8L439.8 131.3L440.0 131.2L440.2 131.1L440.5 130.9L440.7 131.3L441.0 131.2L441.2 131.2L441.4 131.2L441.7 131.3L441.9 131.5L442.2 131.4L442.4 131.4L442.6 131.5L442.9 131.4L443.1 131.3L443.4 131.4L443.6 131.4L443.8 131.1L444.1 131.2L444.1 131.5L444.3 131.7L444.5 130.8L444.8 131.4L445.0 131.0L445.3 131.3L445.5 131.0L445.5 131.3L445.7 131.4L446.0 131.5L446.2 131.4L446.5 131.5L446.7 131.3L446.9 131.4L447.2 131.3L447.4 131.3L447.7 131.6L447.9 131.3L448.1 131.4L448.4 131.2L448.6 131.1L448.8 131.5L449.1 131.8L449.3 131.4L449.6 131.4L449.8 131.6L450.0 131.4L450.3 131.5L450.5 131.3L450.8 131.7L451.0 131.4L451.2 131.5L451.5 131.5L451.7 131.3L452.0 131.6L452.2 131.6L452.4 131.3L452.7 131.8L452.9 131.4L453.2 131.6L453.4 132.0L453.6 131.2L453.9 131.2L454.1 131.5L454.3 131.7L454.6 131.9L454.8 131.5L455.1 131.3L455.3 131.8L455.5 131.6L455.8 131.3L456.0 131.4L456.3 131.6L456.5 131.2L456.7 131.8L457.0 131.5L457.2 131.4L457.5 131.9L457.7 131.7L457.9 131.7L458.2 131.1L458.4 131.6L458.7 131.6L458.9 131.7L459.1 131.1L459.4 131.3L459.6 131.8L459.9 131.8L460.1 131.5L460.3 131.6L460.6 131.6L460.8 131.8L461.0 132.0L461.3 131.6L461.5 131.9L461.8 131.2L462.0 131.7L462.2 131.6L462.5 131.6L462.7 131.8L463.0 131.7L463.2 131.9L463.4 131.7L463.7 131.6L463.9 131.7L464.2 132.3L464.4 131.6L464.6 131.9L464.9 131.6L465.1 131.7L465.3 131.8L465.6 131.7L465.8 131.9L466.1 131.8L466.3 131.9L466.5 131.7L466.8 131.6L467.0 132.0L467.3 131.9L467.5 132.0L467.7 131.5L468.0 132.0L468.2 131.8L468.5 131.9L468.7 132.0L468.9 131.7L469.2 131.9L469.4 131.6L469.7 132.0L469.9 131.8L470.1 131.4L470.4 131.7L470.6 131.9L470.9 131.7L471.1 132.1L471.3 131.8L471.6 131.8L471.8 131.8L472.0 131.8L472.3 131.8L472.5 132.0L472.8 132.0L473.0 132.1L473.2 131.8L473.5 132.3L473.7 132.0L474.0 132.1L474.2 131.9L474.4 131.5L474.7 132.0L474.9 131.7L475.2 131.6L475.4 132.1L475.6 131.9L475.9 131.8L476.1 132.0L476.4 131.9L476.6 131.9L476.8 131.8L477.1 131.9L477.3 131.5L477.5 131.6L477.8 131.7L478.0 131.6L478.3 132.0L478.5 131.9L478.7 131.8L479.0 131.5L479.2 131.3L479.5 131.6L479.7 131.7L479.9 131.6L480.2 131.4L480.4 131.7L480.7 131.6L480.9 131.2L481.1 131.1L481.4 131.3L481.6 131.3L481.8 131.3L482.1 131.1L482.3 131.8L482.6 131.1L482.8 131.1L483.0 131.2L483.3 131.2L483.5 131.0L483.8 131.1L484.0 130.9L484.2 131.2L484.5 130.9L484.7 130.8L485.0 131.1L485.2 130.7L485.4 130.8L485.7 130.8L485.9 130.6L486.2 130.7L486.4 130.9L486.6 130.6L486.9 130.5L487.1 130.7L487.4 130.7L487.6 130.6L487.8 130.6L488.1 130.7L488.3 130.3L488.5 130.2L488.8 130.6L489.0 130.4L489.3 130.4L489.5 130.1L489.7 130.0L490.0 130.1L490.2 129.9L490.5 129.9L490.7 129.9L490.9 129.9L491.2 129.8L491.4 130.0L491.7 130.1L491.9 129.7L492.1 129.6L492.4 129.5L492.6 129.7L492.9 129.9L493.1 129.6L493.3 129.3L493.6 129.7L493.8 129.5L494.0 129.6L494.3 129.7L494.5 129.2L494.8 129.4L495.0 129.0L495.2 129.3L495.5 129.6L495.7 129.4L496.0 129.3L496.2 129.2L496.4 129.1L496.7 129.1L496.9 128.7L497.2 129.4L497.4 129.1L497.6 128.8L497.9 128.7L498.1 128.8L498.3 128.7L498.6 128.6L498.8 128.7L499.1 128.7L499.3 128.5L499.5 128.8L499.8 128.5L500.0 128.6L500.3 128.4L500.5 128.4L500.7 128.1L501.0 128.2L501.2 128.2L501.5 128.4L501.7 128.1L501.9 128.5L502.2 127.9L502.4 127.9L502.7 128.0L502.9 127.8L503.1 128.2L503.4 128.0L503.6 128.0L503.9 127.7L504.1 127.7L504.3 127.5L504.6 128.0L504.8 127.9L505.0 127.7L505.3 127.8L505.5 127.8L505.8 127.6L506.0 127.7L506.2 127.8L506.5 127.5L506.7 127.7L507.0 127.9L507.2 127.7L507.4 127.6L507.7 127.8L507.9 127.4L508.2 127.6L508.4 127.5L508.6 127.4L508.9 127.6L509.1 127.6L509.3 127.6L509.6 127.6L509.8 127.3L510.1 127.7L510.3 127.8L510.5 127.4L510.8 127.6L511.0 127.8L511.3 127.4L511.5 127.4L511.7 127.7L512.0 127.7L512.2 127.4L512.5 127.4L512.7 127.3L512.9 127.5L513.2 127.3L513.4 127.2L513.7 127.3L513.9 127.3L514.1 127.2L514.4 127.3L514.6 127.4L514.8 127.4L515.1 127.2L515.3 127.4L515.6 127.3L515.8 127.5L516.0 127.4L516.3 127.7L516.5 127.2L516.8 127.3L517.0 127.6L517.2 127.3L517.5 127.6L517.7 127.3L518.0 127.1L518.2 127.4L518.4 127.6L518.7 127.5L518.9 127.4L519.2 127.5L519.4 127.3L519.6 127.8L519.9 127.2L520.1 127.5L520.4 127.4L520.6 127.2L520.8 127.3L521.1 127.8L521.3 127.7L521.5 127.3L521.8 127.5L522.0 127.6L522.3 127.3L522.5 127.5L522.7 127.4L523.0 127.6L523.2 127.6L523.5 127.5L523.7 127.4L523.9 127.3L524.2 127.8L524.4 127.6L524.7 127.6L524.9 127.5L525.1 127.6L525.4 127.5L525.6 127.3L525.8 127.5L526.1 127.3L526.3 127.5L526.6 127.8L526.8 127.5L527.0 127.5L527.3 127.6L527.5 127.5L527.8 127.3L528.0 127.4L528.2 127.7L528.5 127.7L528.7 127.4L529.0 127.4L529.2 127.7L529.4 127.6L529.7 127.5L529.9 127.3L530.2 127.4L530.4 127.1L530.5 127.7L530.6 127.9L530.7 127.6L530.8 127.3L530.9 127.7L531.0 127.7L531.1 127.5L531.2 127.5L531.3 127.3L531.4 127.6L531.5 127.1L531.6 127.4L531.7 127.4L531.8 127.8L531.9 127.5L532.0 127.2L532.1 127.6L532.2 127.2L532.3 127.4L532.3 127.3L532.4 127.5L532.5 127.4L532.6 127.9L532.7 127.6L532.7 127.6L532.8 127.5L532.9 127.6L533.0 127.8L533.0 127.3L533.1 126.5L533.2 126.3L533.2 125.5L533.3 125.1L533.3 124.7L533.4 123.9L533.4 124.0L533.5 123.0L533.6 122.6L533.6 122.9L533.7 124.4L533.7 124.4L533.8 125.6L533.9 127.2L533.9 127.3L534.0 128.8L534.1 130.0L534.1 129.9L534.2 130.9L534.2 131.7L534.3 133.2L534.4 134.1L534.5 135.1L534.5 134.7L534.6 134.3L534.7 133.8L534.8 133.3L534.8 133.3L534.9 132.7L535.0 132.5L535.0 132.0L535.1 131.6L535.2 131.6L535.3 131.1L535.4 130.4L535.4 130.1L535.5 129.8L535.6 129.5L535.7 128.7L535.8 128.3L535.8 128.3L535.9 128.1L535.9 127.9L536.0 127.5L536.1 127.7L536.2 127.4L536.2 127.2L536.3 127.4L536.4 127.8L536.5 127.5L536.5 127.7L536.6 127.5L536.7 127.4L536.8 127.6L536.9 127.5L537.0 127.6L537.1 127.5L537.2 127.4L537.3 127.6L537.4 127.4L537.5 127.3L537.6 127.7L537.7 127.6L537.8 127.6L537.9 127.9L538.0 127.8L538.1 127.4L538.2 127.5L538.3 127.6L538.4 127.6L538.5 127.4L538.6 127.8L538.7 127.3L538.8 127.7L538.9 127.7L539.0 127.8L539.1 127.5L539.2 127.8L539.3 127.6L539.4 127.8L539.5 127.4L539.6 127.4L539.7 127.8L539.8 127.9L539.9 127.9L540.0 127.5L540.1 127.9L540.2 127.8L540.3 127.7L540.4 127.4L540.5 127.6L540.6 127.7L540.6 127.5L540.7 128.0L540.8 127.9L540.9 127.5L541.0 127.5L541.1 127.6L541.2 127.6L541.3 127.7L541.4 127.7L541.5 127.3L541.6 127.9L541.7 127.4L541.8 127.7L541.9 128.0L542.0 127.6L542.3 127.8L542.5 127.6L542.8 127.6L543.0 127.3L543.2 127.8L543.5 128.1L543.7 127.6L544.0 127.6L544.2 127.8L544.5 127.9L544.7 127.7L545.0 127.6L545.2 127.8L545.4 127.6L545.7 127.8L545.9 127.8L546.2 128.0L546.4 127.9L546.7 127.7L546.9 127.6L547.1 127.6L547.4 127.8L547.6 127.9L547.9 128.0L548.1 128.0L548.4 127.9L548.6 127.7L548.9 127.6L549.1 127.8L549.3 127.8L549.6 128.1L549.8 127.9L550.1 127.8L550.3 127.9L550.6 127.8L550.8 128.2L551.1 127.6L551.3 128.0L551.5 128.1L551.8 127.9L552.0 128.6L552.3 128.0L552.5 127.6L552.8 128.1L553.0 127.8L553.3 128.3L553.5 128.2L553.7 128.3L554.0 127.7L554.2 128.4L554.2 128.0L554.5 128.2L554.7 127.9L555.0 128.2L555.1 128.2L555.2 128.0L555.5 128.4L555.7 128.4L555.9 127.7L556.0 128.0L556.2 128.0L556.4 128.1L556.7 128.0L556.9 128.1L557.2 128.0L557.4 128.3L557.7 128.6L557.9 128.2L558.1 127.8L558.4 128.2L558.6 128.5L558.9 127.8L559.1 127.9L559.4 128.3L559.6 128.0L559.9 128.1L560.1 128.4L560.3 127.9L560.6 128.1L560.8 128.1L561.1 128.0L561.3 128.6L561.6 128.2L561.8 127.9L562.1 128.0L562.3 128.5L562.5 128.1L562.8 128.4L563.0 128.2L563.3 128.4L563.5 128.0L563.8 127.9L564.0 128.1L564.3 128.1L564.5 128.3L564.7 128.4L565.0 128.1L565.2 128.2L565.5 128.4L565.7 128.5L566.0 128.7L566.2 128.3L566.5 128.3L566.7 128.5L566.9 128.5L567.2 128.8L567.4 128.7L567.7 128.7L567.9 128.5L568.2 128.6L568.4 128.6L568.7 128.8L568.9 128.6L569.1 129.0L569.4 128.3L569.6 128.7L569.9 128.6L570.1 128.6L570.4 128.9L570.6 128.5L570.8 128.7L571.1 128.8L571.3 128.6L571.6 129.0L571.8 128.7L572.1 128.5L572.3 128.9L572.6 128.8L572.8 129.1L573.0 128.9L573.3 128.9L573.5 129.2L573.8 128.6L574.0 128.6L574.3 129.3L574.5 128.9L574.8 129.1L575.0 129.1L575.2 129.0L575.5 129.0L575.7 129.1L576.0 129.0L576.2 129.2L576.5 129.1L576.7 129.3L577.0 129.0L577.2 128.8L577.4 129.2L577.7 129.3L577.9 129.0L578.2 129.6L578.4 129.3L578.7 129.5L578.9 129.4L579.2 129.5L579.4 129.4L579.6 129.1L579.9 129.5L580.1 129.4L580.4 129.2L580.6 129.3L580.9 129.3L581.1 129.4L581.4 129.5L581.6 129.5L581.8 129.5L582.1 129.7L582.3 129.9L582.6 129.6L582.8 129.5L583.1 129.7L583.3 129.4L583.6 129.4L583.8 129.6L584.0 129.7L584.3 129.5L584.5 129.7L584.8 129.7L585.0 129.8L585.3 129.8L585.5 129.6L585.8 129.8L586.0 129.7L586.2 129.8L586.5 129.8L586.7 129.7L587.0 130.2L587.2 129.9L587.5 129.8L587.7 129.6L588.0 129.8L588.2 129.4L588.4 129.7L588.7 129.9L588.9 130.2L589.2 130.0L589.4 130.0L589.7 130.0L589.9 129.9L590.2 130.3L590.4 129.9L590.6 130.1L590.9 130.2L591.1 130.3L591.4 130.1L591.6 130.2L591.9 130.6L592.1 130.1L592.3 130.2L592.6 130.5L592.8 130.1L593.1 130.3L593.3 130.2L593.6 130.5L593.8 130.4L594.1 130.3L594.3 130.2L594.5 130.5L594.8 130.9L595.0 130.4L595.3 130.5L595.5 130.2L595.8 130.7L596.0 130.4L596.3 130.8L596.5 130.5L596.7 130.6L597.0 130.6L597.2 130.6L597.5 130.7L597.7 130.4L598.0 130.5L598.2 130.7L598.5 130.9L598.7 130.9L598.9 130.6L599.2 130.8L599.4 131.0L599.7 131.0L599.9 130.6L600.2 130.9L600.4 131.1L600.7 130.6L600.9 130.9L601.1 131.2L601.4 131.2L601.6 131.0L601.9 131.2L602.1 131.1L602.4 130.7L602.6 130.7L602.9 130.8L603.1 131.1L603.3 131.1L603.6 131.4L603.8 131.4L604.1 131.2L604.3 131.2L604.6 131.1L604.8 131.1L605.1 131.2L605.3 131.2L605.5 131.3L605.8 131.1L606.0 131.6L606.3 131.1L606.5 131.3L606.8 131.7L607.0 131.4L607.3 131.2L607.5 131.6L607.7 131.4L608.0 131.6L608.2 131.3L608.5 131.6L608.7 131.7L609.0 131.6L609.2 131.6L609.5 131.6L609.7 131.8L609.9 132.0L610.2 131.7L610.4 132.0L610.7 131.9L610.9 131.7L611.2 131.6L611.4 131.6L611.7 132.1L611.9 131.6L612.1 132.2L612.4 131.8L612.6 131.8L612.9 131.7L613.1 131.8L613.4 131.7L613.6 132.0L613.9 131.9L614.1 131.7L614.3 132.0L614.6 132.0L614.8 131.9L615.1 132.2L615.3 132.0L615.6 132.2L615.8 131.7L616.1 131.7L616.3 131.9L616.5 131.6L616.8 132.0L617.0 132.1L617.3 132.0L617.5 132.0L617.8 132.1L618.0 132.0L618.3 132.3L618.5 132.3L618.7 132.1L619.0 132.3L619.2 131.9L619.5 132.1L619.7 132.3L620.0 132.0L620.2 132.1L620.4 131.9L620.7 132.2L620.9 132.3L621.2 132.1L621.4 132.4L621.7 132.1L621.9 132.2L622.2 132.9L622.4 132.3L622.6 132.3L622.9 132.5L623.1 132.4L623.4 132.4L623.6 132.7L623.9 132.3L624.1 132.4L624.4 132.5L624.6 132.5L624.8 132.4L625.1 132.2L625.3 132.3L625.6 132.5L625.8 132.5L626.1 132.5L626.3 132.3L626.6 132.4L626.8 132.6L627.0 132.2L627.3 132.4L627.5 132.7L627.8 132.4L628.0 132.5L628.3 132.5L628.5 132.4L628.8 132.6L629.0 132.7L629.2 132.8L629.5 132.5L629.7 132.6L630.0 132.9L630.2 132.6L630.5 132.5L630.7 132.5L631.0 132.6L631.2 132.4L631.4 132.7L631.7 132.8L631.9 132.3L632.2 132.8L632.4 132.5L632.7 132.2L632.9 132.6L633.2 132.3L633.4 132.6L633.6 132.6L633.9 132.8L634.1 132.4L634.4 132.6L634.6 132.4L634.9 132.7L635.1 132.5L635.4 132.5L635.6 132.2L635.8 132.3L636.1 132.7L636.3 132.3L636.6 132.5L636.8 132.6L637.1 132.6L637.3 132.3L637.6 132.8L637.8 132.5L638.0 132.7L638.3 132.4L638.5 132.5L638.8 132.7L639.0 132.5L639.3 132.5L639.5 132.5L639.7 132.4L640.0 132.2L640.2 132.4L640.5 132.4L640.7 132.3L641.0 132.5L641.2 132.5L641.5 132.5L641.7 132.5L641.9 132.5L642.2 132.4L642.4 132.8L642.7 132.5L642.9 132.4L643.2 132.2L643.4 132.1L643.7 132.7L643.9 132.5L644.1 132.4L644.4 132.7L644.6 132.5L644.9 132.3L645.1 132.4L645.4 132.7L645.6 132.2L645.9 132.5L646.1 132.3L646.3 132.7L646.6 132.4L646.8 132.2L647.1 132.2L647.3 132.2L647.6 132.2L647.8 132.5L648.1 132.6L648.3 132.0L648.5 132.5L648.8 132.4L649.0 132.1L649.3 132.2L649.5 132.0L649.8 132.3L650.0 132.0L650.3 131.6L650.5 132.2L650.7 132.1L651.0 132.2L651.2 132.1L651.5 132.1L651.7 131.8L652.0 131.8L652.2 131.8L652.5 131.7L652.7 132.0L652.9 131.7L653.2 131.8L653.4 131.5L653.7 131.6L653.9 132.0L654.2 131.6L654.4 131.8L654.7 131.6L654.9 131.3L655.1 131.1L655.4 131.3L655.6 131.3L655.9 131.2L656.1 131.3L656.4 131.6L656.6 131.1L656.9 131.1L657.1 131.1L657.3 131.1L657.6 131.0L657.8 131.0L658.1 130.8L658.3 131.0L658.6 130.7L658.8 130.9L659.1 130.9L659.3 131.0L659.5 130.9L659.8 131.2L660.0 130.9L660.3 130.7L660.5 130.5L660.8 130.8L661.0 130.6L661.3 130.6L661.5 130.5L661.7 130.8L662.0 130.5L662.2 130.0L662.5 130.2L662.7 130.4L663.0 130.2L663.2 130.0L663.5 130.2L663.7 130.0L663.9 130.1L664.2 130.2L664.4 130.0L664.7 130.2L664.9 129.9L665.2 129.8L665.4 129.9L665.7 129.7L665.9 129.7L666.1 129.6L666.4 129.7L666.6 129.7L666.9 129.5L667.1 129.4L667.4 129.2L667.6 129.7L667.9 129.2L668.1 129.3L668.3 129.3L668.6 129.4L668.8 128.7L669.1 128.9L669.3 129.0L669.6 128.8L669.8 129.2L670.0 128.8L670.3 128.7L670.5 128.7L670.8 128.9L671.0 128.7L671.3 128.2L671.5 128.3L671.8 128.4L672.0 128.3L672.2 127.9L672.5 128.2L672.7 128.3L673.0 128.5L673.2 128.1L673.5 128.1L673.7 128.4L674.0 128.1L674.2 127.9L674.4 127.9L674.7 128.2L674.9 128.0L675.2 127.9L675.4 127.4L675.7 127.6L675.9 127.8L676.2 127.4L676.4 127.8L676.6 127.5L676.9 127.3L677.1 127.5L677.4 127.5L677.6 127.6L677.9 127.4L678.1 127.0L678.4 127.1L678.6 126.9" stroke="#000000" stroke-width="1.50" stroke-dasharray="5.40 4.50" stroke-dashoffset="0.00"/>
</g>
<text x="387.90" y="269.70" text-anchor="middle" font-size="12.00" font-weight="bold" fill="#161616" stroke="#161616" stroke-width="0.25" letter-spacing="-0.5">0</text>
<text x="446.02" y="269.70" text-anchor="middle" font-size="12.00" font-weight="bold" fill="#161616" stroke="#161616" stroke-width="0.25" letter-spacing="-0.5">2</text>
<text x="504.14" y="269.70" text-anchor="middle" font-size="12.00" font-weight="bold" fill="#161616" stroke="#161616" stroke-width="0.25" letter-spacing="-0.5">4</text>
<text x="562.26" y="269.70" text-anchor="middle" font-size="12.00" font-weight="bold" fill="#161616" stroke="#161616" stroke-width="0.25" letter-spacing="-0.5">6</text>
<text x="620.38" y="269.70" text-anchor="middle" font-size="12.00" font-weight="bold" fill="#161616" stroke="#161616" stroke-width="0.25" letter-spacing="-0.5">8</text>
<text x="678.50" y="269.70" text-anchor="middle" font-size="12.00" font-weight="bold" fill="#161616" stroke="#161616" stroke-width="0.25" letter-spacing="-0.5">10</text>
<text x="383.70" y="9.05" text-anchor="end" font-size="12.00" font-weight="bold" fill="#161616" stroke="#161616" stroke-width="0.25" letter-spacing="-0.5">20</text>
<text x="383.70" y="40.28" text-anchor="end" font-size="12.00" font-weight="bold" fill="#161616" stroke="#161616" stroke-width="0.25" letter-spacing="-0.5">15</text>
<text x="383.70" y="71.51" text-anchor="end" font-size="12.00" font-weight="bold" fill="#161616" stroke="#161616" stroke-width="0.25" letter-spacing="-0.5">10</text>
<text x="383.70" y="102.74" text-anchor="end" font-size="12.00" font-weight="bold" fill="#161616" stroke="#161616" stroke-width="0.25" letter-spacing="-0.5">5</text>
<text x="383.70" y="133.97" text-anchor="end" font-size="12.00" font-weight="bold" fill="#161616" stroke="#161616" stroke-width="0.25" letter-spacing="-0.5">0</text>
<text x="383.70" y="165.21" text-anchor="end" font-size="12.00" font-weight="bold" fill="#161616" stroke="#161616" stroke-width="0.25" letter-spacing="-0.5">-5</text>
<text x="383.70" y="196.44" text-anchor="end" font-size="12.00" font-weight="bold" fill="#161616" stroke="#161616" stroke-width="0.25" letter-spacing="-0.5">-10</text>
<text x="383.70" y="227.67" text-anchor="end" font-size="12.00" font-weight="bold" fill="#161616" stroke="#161616" stroke-width="0.25" letter-spacing="-0.5">-15</text>
<text x="383.70" y="258.90" text-anchor="end" font-size="12.00" font-weight="bold" fill="#161616" stroke="#161616" stroke-width="0.25" letter-spacing="-0.5">-20</text>
<text x="533.40" y="284.20" text-anchor="middle" font-size="12.80" font-weight="bold" fill="#161616" stroke="#161616" stroke-width="0.25">time(s)</text>
<g transform="translate(363.40,129.40) rotate(-90)"><text x="0.00" y="0.00" text-anchor="middle" font-size="12.80" font-weight="bold" fill="#161616" stroke="#161616" stroke-width="0.25">Control effort (A)</text></g>
<rect x="527.30" y="11.40" width="144.40" height="52.90" fill="#fff" stroke="#3a3a3a" stroke-width="1"/>
<line x1="529.80" y1="19.40" x2="554.80" y2="19.40" stroke="#0000ff" stroke-width="1.70"/>
<g transform="translate(557.60,22.62) scale(1.094,1)"><text x="0.00" y="0.00" text-anchor="start" font-size="9.60" font-weight="bold" fill="#161616" stroke="#161616" stroke-width="0.20">Predefined time, Ts = 1</text></g>
<line x1="529.80" y1="31.90" x2="554.80" y2="31.90" stroke="#ff0000" stroke-width="1.30" stroke-dasharray="0.90 0.85"/>
<g transform="translate(557.60,35.12) scale(1.094,1)"><text x="0.00" y="0.00" text-anchor="start" font-size="9.60" font-weight="bold" fill="#161616" stroke="#161616" stroke-width="0.20">Predefined time, Ts = 1.5</text></g>
<line x1="529.80" y1="44.40" x2="554.80" y2="44.40" stroke="#00f800" stroke-width="1.60" stroke-dasharray="3.90 1.00 1.00 1.00"/>
<g transform="translate(557.60,47.62) scale(1.094,1)"><text x="0.00" y="0.00" text-anchor="start" font-size="9.60" font-weight="bold" fill="#161616" stroke="#161616" stroke-width="0.20">Predefined time, Ts = 2</text></g>
<line x1="529.80" y1="56.90" x2="554.80" y2="56.90" stroke="#000000" stroke-width="1.60" stroke-dasharray="5.40 4.50" stroke-dashoffset="0.00"/>
<g transform="translate(557.60,60.12) scale(1.094,1)"><text x="0.00" y="0.00" text-anchor="start" font-size="9.60" font-weight="bold" fill="#161616" stroke="#161616" stroke-width="0.20">Predefined time, Ts = 3</text></g>
<text x="534.10" y="306.40" text-anchor="middle" font-size="17.30" font-weight="bold" fill="#161616" stroke="#161616" stroke-width="0.45" font-family='"Liberation Sans", "DejaVu Sans", sans-serif' letter-spacing="-0.30">(b)</text>
</g>
<g>
<line x1="274.12" y1="339.65" x2="274.12" y2="578.90" stroke="#000" stroke-opacity="0.135" stroke-width="0.75"/>
<line x1="332.24" y1="339.65" x2="332.24" y2="578.90" stroke="#000" stroke-opacity="0.135" stroke-width="0.75"/>
<line x1="390.36" y1="339.65" x2="390.36" y2="578.90" stroke="#000" stroke-opacity="0.135" stroke-width="0.75"/>
<line x1="448.48" y1="339.65" x2="448.48" y2="578.90" stroke="#000" stroke-opacity="0.135" stroke-width="0.75"/>
<line x1="216.00" y1="369.56" x2="506.60" y2="369.56" stroke="#000" stroke-opacity="0.135" stroke-width="0.65"/>
<line x1="216.00" y1="399.46" x2="506.60" y2="399.46" stroke="#000" stroke-opacity="0.135" stroke-width="0.65"/>
<line x1="216.00" y1="429.37" x2="506.60" y2="429.37" stroke="#000" stroke-opacity="0.135" stroke-width="0.65"/>
<line x1="216.00" y1="459.27" x2="506.60" y2="459.27" stroke="#000" stroke-opacity="0.135" stroke-width="0.65"/>
<line x1="216.00" y1="489.18" x2="506.60" y2="489.18" stroke="#000" stroke-opacity="0.135" stroke-width="0.65"/>
<line x1="216.00" y1="519.09" x2="506.60" y2="519.09" stroke="#000" stroke-opacity="0.135" stroke-width="0.65"/>
<line x1="216.00" y1="548.99" x2="506.60" y2="548.99" stroke="#000" stroke-opacity="0.135" stroke-width="0.65"/>
<path d="M216.00 339.65H506.60V578.90" fill="none" stroke="#3a3a3a" stroke-width="1.05"/>
<path d="M216.00 339.65V578.90H506.60" fill="none" stroke="#3a3a3a" stroke-width="1.35" stroke-linecap="square"/>
<path d="M274.12 578.90v-2.80M274.12 339.65v2.80M332.24 578.90v-2.80M332.24 339.65v2.80M390.36 578.90v-2.80M390.36 339.65v2.80M448.48 578.90v-2.80M448.48 339.65v2.80M216.00 369.56h2.80M506.60 369.56h-2.80M216.00 399.46h2.80M506.60 399.46h-2.80M216.00 429.37h2.80M506.60 429.37h-2.80M216.00 459.27h2.80M506.60 459.27h-2.80M216.00 489.18h2.80M506.60 489.18h-2.80M216.00 519.09h2.80M506.60 519.09h-2.80M216.00 548.99h2.80M506.60 548.99h-2.80" fill="none" stroke="#3a3a3a" stroke-width="0.9"/>
<clipPath id="clipc"><rect x="214.80" y="339.65" width="292.80" height="239.25"/></clipPath>
<g clip-path="url(#clipc)" fill="none" stroke-linejoin="round">
<path d="M216.0 372.7L216.1 379.9L216.2 387.6L216.3 393.8L216.4 399.8L216.5 404.5L216.6 408.9L216.6 408.8L216.7 413.5L216.7 415.2L216.8 417.9L216.9 421.1L217.0 423.8L217.1 426.8L217.2 429.1L217.3 431.7L217.4 433.5L217.5 435.1L217.5 435.8L217.6 437.1L217.7 438.5L217.7 439.8L217.8 440.0L217.9 441.3L218.0 442.6L218.1 443.5L218.2 444.2L218.3 445.5L218.4 446.1L218.4 446.9L218.5 447.0L218.5 447.5L218.6 448.0L218.6 448.0L218.7 448.7L218.8 449.0L218.9 449.9L219.0 449.7L219.1 450.4L219.2 450.7L219.3 450.7L219.3 450.8L219.4 451.0L219.5 451.2L219.5 451.3L219.6 451.8L219.7 451.7L219.8 451.9L219.9 452.1L220.0 452.4L220.1 452.4L220.1 452.6L220.2 452.3L220.3 452.8L220.4 452.7L220.4 452.9L220.5 453.1L220.6 453.1L220.7 453.4L220.8 453.3L220.9 453.3L221.0 453.5L221.1 453.5L221.2 453.5L221.3 453.6L221.4 453.8L221.5 453.6L221.6 453.8L221.7 453.9L221.8 453.9L221.9 453.9L222.0 453.8L222.1 453.9L222.2 454.1L222.3 453.7L222.4 453.8L222.5 454.5L222.6 454.4L222.7 454.4L222.8 454.0L222.9 454.4L223.0 454.3L223.1 454.4L223.2 454.1L223.2 454.4L223.3 454.3L223.4 454.5L223.5 454.2L223.6 454.4L223.7 454.4L223.8 454.6L223.9 454.6L224.0 454.4L224.1 454.3L224.2 454.7L224.3 454.6L224.4 454.9L224.5 454.5L224.6 455.0L224.7 454.7L225.0 454.7L225.2 455.0L225.4 455.1L225.7 455.0L225.9 454.8L226.2 455.3L226.4 455.2L226.6 455.6L226.9 455.2L227.1 455.4L227.3 455.3L227.6 455.3L227.8 455.5L228.1 455.2L228.3 455.2L228.5 455.2L228.8 455.5L229.0 455.6L229.3 455.5L229.5 455.4L229.7 455.8L230.0 455.7L230.2 455.8L230.5 455.7L230.7 455.9L230.9 456.3L231.2 455.8L231.4 455.7L231.7 455.9L231.9 455.8L232.1 456.0L232.4 456.2L232.6 456.0L232.8 456.2L233.1 456.3L233.3 455.9L233.6 456.2L233.8 456.7L234.0 456.1L234.3 456.2L234.5 456.4L234.8 456.4L235.0 456.2L235.2 456.2L235.5 456.3L235.7 456.2L236.0 456.5L236.2 456.2L236.4 456.0L236.7 456.5L236.9 456.5L237.2 456.5L237.4 456.4L237.6 456.9L237.9 456.5L238.1 456.8L238.4 456.7L238.6 456.7L238.8 456.6L239.1 456.8L239.3 456.7L239.5 456.6L239.8 456.8L240.0 456.7L240.3 457.0L240.5 457.3L240.7 457.0L241.0 457.0L241.2 457.0L241.5 457.3L241.7 457.3L241.9 457.2L242.2 457.2L242.4 457.2L242.7 457.0L242.9 457.1L243.1 457.2L243.4 457.3L243.6 457.6L243.8 457.3L244.1 457.4L244.3 457.3L244.6 457.1L244.8 457.5L245.0 457.1L245.3 457.6L245.5 457.6L245.8 457.7L246.0 457.5L246.2 457.9L246.5 457.5L246.7 457.5L247.0 457.5L247.2 457.6L247.4 457.5L247.7 457.5L247.9 457.6L248.2 457.6L248.4 457.8L248.6 457.7L248.9 457.5L249.1 457.9L249.3 457.5L249.6 457.6L249.8 458.1L250.1 458.1L250.3 457.9L250.5 457.8L250.8 457.9L251.0 457.7L251.3 457.9L251.5 458.1L251.7 457.8L252.0 457.8L252.2 458.0L252.5 458.0L252.7 458.2L252.9 457.8L253.2 457.7L253.4 458.0L253.7 458.3L253.9 458.3L254.1 458.1L254.4 458.3L254.6 458.2L254.9 458.3L255.1 458.1L255.3 458.3L255.6 458.0L255.8 457.9L256.0 457.9L256.3 458.5L256.5 458.0L256.8 458.1L257.0 458.1L257.2 458.1L257.5 458.1L257.7 458.2L258.0 458.2L258.2 458.3L258.4 458.4L258.7 458.1L258.9 458.4L259.2 458.4L259.4 458.2L259.6 458.3L259.9 458.4L260.1 458.4L260.3 458.8L260.6 458.6L260.8 458.5L261.1 458.4L261.3 458.4L261.5 458.7L261.8 458.6L262.0 458.5L262.3 458.4L262.5 458.7L262.7 458.7L263.0 458.8L263.2 458.6L263.5 458.6L263.7 458.5L263.9 458.7L264.2 458.5L264.4 458.7L264.7 458.7L264.9 458.9L265.1 458.4L265.4 458.8L265.6 458.5L265.8 458.6L266.1 458.8L266.3 458.9L266.6 458.7L266.8 458.9L267.0 459.0L267.3 459.0L267.5 459.0L267.8 459.0L268.0 458.6L268.2 458.9L268.5 458.7L268.7 458.8L269.0 458.9L269.2 459.0L269.4 459.1L269.7 458.9L269.9 458.9L270.2 459.0L270.4 459.0L270.6 458.9L270.9 458.9L271.1 458.9L271.4 458.6L271.6 458.6L271.8 458.1L272.1 457.7L272.1 458.0L272.3 458.0L272.5 458.0L272.8 458.6L273.0 458.7L273.3 458.9L273.5 459.0L273.5 459.2L273.7 459.5L274.0 459.6L274.2 459.7L274.5 459.7L274.7 459.7L274.9 459.8L275.2 460.1L275.4 460.0L275.7 460.5L275.9 460.3L276.1 460.2L276.4 460.5L276.6 460.7L276.8 460.5L277.1 460.5L277.3 460.8L277.6 461.2L277.8 460.7L278.0 460.5L278.3 461.0L278.5 460.5L278.8 461.0L279.0 460.7L279.2 460.7L279.5 460.8L279.7 461.1L280.0 460.8L280.2 461.2L280.4 461.0L280.7 461.0L280.9 461.0L281.2 461.2L281.4 461.2L281.6 461.4L281.9 460.7L282.1 461.0L282.3 461.2L282.6 461.1L282.8 461.1L283.1 460.9L283.3 461.3L283.5 461.0L283.8 461.4L284.0 461.2L284.3 461.1L284.5 461.3L284.7 461.1L285.0 461.2L285.2 461.4L285.5 461.4L285.7 461.1L285.9 461.3L286.2 461.4L286.4 461.6L286.7 461.6L286.9 461.5L287.1 461.3L287.4 461.2L287.6 461.5L287.9 461.1L288.1 461.4L288.3 461.4L288.6 461.4L288.8 461.6L289.0 461.3L289.3 461.5L289.5 461.4L289.8 461.8L290.0 461.8L290.2 461.4L290.5 461.3L290.7 461.7L291.0 461.7L291.2 461.7L291.4 461.7L291.7 461.9L291.9 461.9L292.2 461.5L292.4 461.8L292.6 461.6L292.9 462.0L293.1 461.7L293.3 461.5L293.6 461.8L293.8 461.6L294.1 461.8L294.3 461.4L294.5 461.9L294.8 461.9L295.0 462.1L295.3 461.9L295.5 461.8L295.7 462.1L296.0 461.7L296.2 462.0L296.5 461.9L296.7 461.7L296.9 462.1L297.2 462.0L297.4 462.1L297.7 462.2L297.9 461.9L298.1 462.4L298.4 462.3L298.6 462.1L298.9 462.1L299.1 462.3L299.3 462.4L299.6 461.9L299.8 462.1L300.0 462.1L300.3 462.2L300.5 462.0L300.8 462.2L301.0 462.5L301.2 462.3L301.5 462.1L301.7 462.6L302.0 462.4L302.2 462.3L302.4 462.3L302.7 462.5L302.9 462.3L303.2 462.3L303.4 462.0L303.6 462.5L303.9 462.4L304.1 462.5L304.4 462.1L304.6 462.3L304.8 462.2L305.1 462.2L305.3 462.0L305.5 462.3L305.8 462.2L306.0 462.2L306.3 462.4L306.5 462.5L306.7 462.1L307.0 462.2L307.2 462.1L307.5 462.2L307.7 462.2L307.9 462.2L308.2 462.1L308.4 462.2L308.7 462.2L308.9 461.9L309.1 461.9L309.4 462.1L309.6 461.8L309.8 462.2L310.1 461.9L310.3 461.9L310.6 462.1L310.8 461.8L311.0 462.3L311.3 462.0L311.5 462.1L311.8 461.8L312.0 462.0L312.2 462.1L312.5 462.0L312.7 462.1L313.0 461.8L313.2 462.1L313.4 462.1L313.7 461.9L313.9 462.0L314.2 461.9L314.4 461.9L314.6 462.0L314.9 462.2L315.1 462.3L315.4 461.9L315.6 461.9L315.8 461.8L316.1 461.8L316.3 461.9L316.5 461.9L316.8 461.7L317.0 462.4L317.3 462.1L317.5 461.7L317.7 461.8L318.0 461.9L318.2 461.9L318.5 461.6L318.7 461.7L318.9 461.7L319.2 462.0L319.4 461.5L319.7 461.8L319.9 461.6L320.1 461.6L320.4 462.0L320.6 461.9L320.9 461.9L321.1 461.8L321.3 461.5L321.6 461.4L321.8 461.5L322.0 461.6L322.3 461.7L322.5 461.3L322.8 461.5L323.0 461.6L323.2 461.5L323.5 461.3L323.7 461.5L324.0 461.5L324.2 461.7L324.4 461.3L324.7 461.5L324.9 461.2L325.2 461.3L325.4 461.3L325.6 461.4L325.9 461.2L326.1 461.4L326.3 461.2L326.6 460.9L326.8 460.8L327.1 461.4L327.3 461.1L327.5 461.1L327.8 461.2L328.0 461.0L328.3 461.3L328.5 461.0L328.7 461.2L329.0 460.8L329.2 461.0L329.5 460.5L329.7 460.7L329.9 460.9L330.2 461.2L330.4 461.3L330.7 460.9L330.9 460.9L331.1 460.7L331.4 461.0L331.6 460.8L331.9 460.9L332.1 460.7L332.3 460.7L332.6 461.0L332.8 460.7L333.0 460.5L333.3 460.6L333.5 460.4L333.8 460.8L334.0 460.9L334.2 460.8L334.5 460.8L334.7 460.3L335.0 460.5L335.2 460.4L335.4 460.2L335.7 460.5L335.9 460.9L336.2 460.9L336.4 460.3L336.6 460.3L336.9 460.6L337.1 460.3L337.3 460.3L337.6 460.3L337.8 460.6L338.1 460.1L338.3 460.5L338.5 460.2L338.8 460.5L339.0 460.4L339.3 460.1L339.5 460.4L339.7 460.5L340.0 460.2L340.2 460.2L340.5 460.3L340.7 460.1L340.9 460.0L341.2 460.0L341.4 459.8L341.7 460.1L341.9 459.8L342.1 460.0L342.4 460.2L342.6 460.2L342.8 460.2L343.1 460.3L343.3 459.9L343.6 460.2L343.8 459.9L344.0 459.9L344.3 459.9L344.5 459.7L344.8 460.1L345.0 460.0L345.2 459.6L345.5 459.6L345.7 459.8L346.0 460.0L346.2 459.9L346.4 459.7L346.7 459.5L346.9 459.9L347.2 459.8L347.4 459.9L347.6 459.6L347.9 459.7L348.1 459.7L348.4 459.8L348.6 459.5L348.8 459.6L349.1 459.5L349.3 459.7L349.5 459.8L349.8 459.6L350.0 459.6L350.3 459.4L350.5 459.4L350.7 459.9L351.0 460.0L351.2 459.4L351.5 459.7L351.7 459.7L351.9 459.5L352.2 459.6L352.4 459.6L352.7 459.5L352.9 459.6L353.1 459.6L353.4 459.6L353.6 459.5L353.8 459.6L354.1 459.3L354.3 459.4L354.6 459.5L354.8 459.3L355.0 459.4L355.3 459.3L355.5 459.4L355.8 459.7L356.0 459.2L356.2 459.3L356.5 459.5L356.7 459.0L357.0 459.6L357.2 459.2L357.4 459.4L357.7 459.4L357.9 459.2L358.2 459.2L358.4 459.2L358.5 459.6L358.6 459.2L358.7 459.5L358.8 459.4L358.9 459.3L359.0 459.6L359.1 459.1L359.2 459.4L359.3 459.5L359.4 459.4L359.5 459.5L359.6 459.5L359.7 459.2L359.8 459.2L359.9 459.1L360.0 458.9L360.1 459.1L360.2 459.7L360.3 459.2L360.3 459.2L360.4 459.2L360.5 459.1L360.6 459.2L360.7 459.1L360.7 459.1L360.8 458.6L360.9 458.8L361.0 458.7L361.0 458.5L361.1 457.7L361.2 458.5L361.2 457.9L361.3 457.9L361.3 457.7L361.4 457.3L361.4 457.5L361.5 456.9L361.6 456.6L361.6 457.0L361.7 456.4L361.7 456.7L361.8 456.5L361.9 456.0L361.9 455.9L362.0 456.0L362.1 455.5L362.1 455.3L362.2 455.5L362.2 455.7L362.3 455.3L362.4 455.2L362.5 455.4L362.5 455.3L362.6 455.5L362.7 455.4L362.8 455.5L362.8 455.4L362.9 455.3L363.0 455.4L363.0 455.4L363.1 455.7L363.2 455.8L363.3 455.5L363.4 455.4L363.4 455.5L363.5 455.4L363.6 455.5L363.7 455.5L363.8 455.6L363.8 455.5L363.9 455.3L363.9 455.5L364.0 455.8L364.1 455.6L364.2 455.6L364.2 455.5L364.3 455.3L364.4 456.0L364.5 455.6L364.5 455.6L364.6 455.1L364.7 455.6L364.8 455.4L364.9 455.2L365.0 455.6L365.1 455.5L365.2 455.5L365.3 455.5L365.4 455.7L365.5 455.5L365.6 455.6L365.7 455.7L365.8 455.3L365.9 455.8L366.0 455.4L366.1 455.6L366.2 455.6L366.3 455.7L366.4 455.6L366.5 455.5L366.6 455.8L366.7 455.5L366.8 456.0L366.9 455.8L367.0 455.8L367.1 455.7L367.2 455.5L367.3 455.8L367.4 455.6L367.5 455.7L367.6 455.4L367.7 456.0L367.8 456.0L367.9 455.7L368.0 456.0L368.1 455.6L368.2 455.6L368.3 455.8L368.4 455.8L368.5 455.6L368.6 455.6L368.6 455.7L368.7 455.6L368.8 455.8L368.9 455.7L369.0 455.5L369.1 455.5L369.2 455.9L369.3 455.9L369.4 455.9L369.5 455.7L369.6 455.6L369.7 455.9L369.8 456.0L369.9 455.7L370.0 456.2L370.3 455.6L370.5 455.8L370.8 455.9L371.0 455.6L371.2 455.8L371.5 455.9L371.7 455.4L372.0 455.8L372.2 455.8L372.5 455.8L372.7 455.9L373.0 455.8L373.2 456.0L373.4 455.7L373.7 455.9L373.9 455.9L374.2 455.7L374.4 456.1L374.7 455.9L374.9 455.8L375.1 455.8L375.4 456.0L375.6 456.1L375.9 455.8L376.1 456.3L376.4 455.8L376.6 456.4L376.9 456.2L377.1 455.9L377.3 456.1L377.6 456.3L377.8 455.9L378.1 456.1L378.3 456.2L378.6 456.1L378.8 456.1L379.1 456.2L379.3 456.1L379.5 456.1L379.8 456.5L380.0 456.2L380.3 456.2L380.5 456.2L380.8 456.5L381.0 456.1L381.3 456.6L381.5 456.4L381.7 456.4L382.0 456.4L382.2 456.4L382.2 456.4L382.5 456.3L382.7 456.1L383.0 456.5L383.1 456.3L383.2 456.5L383.5 456.5L383.7 456.6L383.9 456.6L384.0 456.3L384.2 456.5L384.4 456.5L384.7 456.8L384.9 456.5L385.2 456.5L385.4 456.5L385.7 456.4L385.9 456.6L386.1 456.7L386.4 456.6L386.6 456.6L386.9 456.4L387.1 456.8L387.4 456.7L387.6 456.5L387.9 456.7L388.1 456.3L388.3 456.4L388.6 456.8L388.8 456.7L389.1 456.6L389.3 456.9L389.6 457.0L389.8 456.6L390.1 456.7L390.3 456.9L390.5 457.0L390.8 457.1L391.0 457.2L391.3 456.8L391.5 456.9L391.8 457.0L392.0 457.2L392.3 457.1L392.5 456.9L392.7 457.2L393.0 457.0L393.2 457.1L393.5 457.5L393.7 456.9L394.0 457.2L394.2 457.4L394.5 457.1L394.7 457.3L394.9 456.9L395.2 457.2L395.4 457.1L395.7 456.9L395.9 457.5L396.2 457.1L396.4 457.0L396.7 457.1L396.9 457.4L397.1 457.1L397.4 456.9L397.6 457.4L397.9 457.3L398.1 457.1L398.4 457.3L398.6 457.3L398.8 457.0L399.1 457.4L399.3 457.1L399.6 457.5L399.8 457.8L400.1 457.3L400.3 457.2L400.6 457.4L400.8 457.1L401.0 457.4L401.3 457.3L401.5 457.3L401.8 457.6L402.0 457.2L402.3 457.2L402.5 457.2L402.8 457.2L403.0 457.2L403.2 457.3L403.5 457.2L403.7 457.4L404.0 457.6L404.2 457.4L404.5 457.3L404.7 457.7L405.0 457.5L405.2 457.3L405.4 457.6L405.7 457.1L405.9 457.5L406.2 457.4L406.4 457.4L406.7 457.4L406.9 457.6L407.2 457.8L407.4 457.9L407.6 457.9L407.9 457.8L408.1 458.0L408.4 457.8L408.6 457.9L408.9 457.8L409.1 457.9L409.4 457.6L409.6 457.9L409.8 457.9L410.1 457.5L410.3 457.8L410.6 457.5L410.8 457.9L411.1 457.9L411.3 457.8L411.6 458.1L411.8 457.6L412.0 457.6L412.3 458.0L412.5 457.7L412.8 457.9L413.0 458.0L413.3 457.6L413.5 458.1L413.8 457.9L414.0 457.8L414.2 458.0L414.5 457.9L414.7 458.2L415.0 458.0L415.2 458.0L415.5 458.2L415.7 458.2L416.0 458.2L416.2 458.1L416.4 458.0L416.7 458.1L416.9 458.4L417.2 458.1L417.4 457.9L417.7 458.1L417.9 458.2L418.2 458.1L418.4 458.0L418.6 458.4L418.9 457.9L419.1 458.2L419.4 457.9L419.6 458.3L419.9 458.4L420.1 458.2L420.3 458.1L420.6 458.2L420.8 458.2L421.1 458.2L421.3 458.2L421.6 458.1L421.8 458.3L422.1 458.2L422.3 458.4L422.5 458.4L422.8 458.5L423.0 458.4L423.3 458.5L423.5 458.7L423.8 458.2L424.0 458.3L424.3 458.3L424.5 458.0L424.7 458.8L425.0 458.4L425.2 458.4L425.5 458.3L425.7 458.6L426.0 458.6L426.2 458.7L426.5 458.4L426.7 458.2L426.9 458.7L427.2 458.5L427.4 458.5L427.7 458.7L427.9 458.9L428.2 458.4L428.4 458.9L428.7 458.4L428.9 458.9L429.1 458.5L429.4 458.4L429.6 458.8L429.9 458.9L430.1 458.7L430.4 458.7L430.6 458.9L430.9 458.8L431.1 458.6L431.3 458.7L431.6 458.6L431.8 459.1L432.1 459.0L432.3 458.8L432.6 458.8L432.8 458.7L433.1 459.1L433.3 458.6L433.5 458.7L433.8 458.7L434.0 458.9L434.3 459.2L434.5 459.2L434.8 458.8L435.0 459.0L435.3 458.6L435.5 458.9L435.7 459.2L436.0 458.8L436.2 459.0L436.5 459.0L436.7 458.9L437.0 459.3L437.2 459.3L437.5 458.8L437.7 459.3L437.9 459.3L438.2 459.3L438.4 459.3L438.7 459.2L438.9 459.2L439.2 459.3L439.4 459.3L439.7 459.1L439.9 459.6L440.1 459.3L440.4 459.2L440.6 459.5L440.9 459.0L441.1 459.2L441.4 459.3L441.6 459.2L441.9 459.2L442.1 459.3L442.3 459.3L442.6 459.5L442.8 459.2L443.1 459.3L443.3 459.6L443.6 459.2L443.8 459.0L444.1 459.7L444.3 458.9L444.5 459.0L444.8 459.1L445.0 459.5L445.3 458.8L445.5 459.5L445.8 459.2L446.0 459.7L446.3 460.0L446.5 459.2L446.7 458.9L447.0 460.1L447.2 459.5L447.5 459.9L447.7 460.1L448.0 459.8L448.2 459.0L448.4 458.8L448.7 459.3L448.9 459.5L449.2 459.1L449.4 460.2L449.7 459.5L449.9 459.9L450.2 459.4L450.4 460.8L450.6 459.2L450.9 459.8L451.1 459.4L451.4 459.4L451.6 458.5L451.9 459.8L452.1 460.8L452.4 458.8L452.6 458.9L452.8 460.0L453.1 458.8L453.3 458.8L453.6 460.5L453.8 460.3L454.1 460.6L454.3 458.4L454.6 461.0L454.8 460.4L455.0 459.3L455.3 458.7L455.5 458.8L455.8 459.3L456.0 459.1L456.3 458.8L456.5 459.3L456.8 459.8L457.0 459.4L457.2 459.2L457.5 459.1L457.7 459.5L458.0 460.3L458.2 459.6L458.5 459.1L458.7 460.5L459.0 460.2L459.2 459.3L459.4 459.1L459.7 459.8L459.9 459.8L460.2 459.6L460.4 460.0L460.7 460.0L460.9 461.0L461.2 459.8L461.4 458.4L461.6 460.2L461.9 460.1L462.1 459.3L462.4 459.1L462.6 457.9L462.9 460.0L463.1 459.3L463.4 460.5L463.6 460.3L463.8 460.2L464.1 459.7L464.3 459.3L464.6 459.5L464.8 460.3L465.1 459.7L465.3 460.6L465.6 460.1L465.8 460.6L466.0 459.9L466.3 459.4L466.5 458.0L466.8 460.2L467.0 459.3L467.3 459.5L467.5 459.9L467.7 460.2L468.0 460.6L468.2 459.6L468.5 460.2L468.7 459.7L469.0 459.0L469.2 460.9L469.5 458.6L469.7 460.3L469.9 459.2L470.2 459.4L470.4 459.8L470.7 459.4L470.9 458.7L471.2 459.7L471.4 458.9L471.7 458.2L471.9 459.6L472.1 460.4L472.4 460.0L472.6 459.4L472.9 459.0L473.1 461.2L473.4 459.9L473.6 460.2L473.9 458.4L474.1 460.5L474.3 459.3L474.6 459.7L474.8 459.1L475.1 458.4L475.3 460.0L475.6 460.7L475.8 458.7L476.1 460.3L476.3 459.6L476.5 459.2L476.8 460.9L477.0 460.2L477.3 459.6L477.5 460.2L477.8 458.4L478.0 460.8L478.3 459.1L478.5 460.2L478.7 459.7L479.0 460.3L479.2 459.4L479.5 458.9L479.7 459.4L480.0 459.9L480.2 461.5L480.5 459.6L480.7 461.3L480.9 459.0L481.2 460.6L481.4 461.2L481.7 461.0L481.9 459.8L482.2 460.5L482.4 459.8L482.7 460.8L482.9 459.2L483.1 458.7L483.4 459.8L483.6 460.6L483.9 460.9L484.1 460.5L484.4 459.0L484.6 460.3L484.9 461.1L485.1 457.8L485.3 458.6L485.6 458.7L485.8 460.4L486.1 459.2L486.3 460.6L486.6 460.2L486.8 459.4L487.1 460.8L487.3 459.9L487.5 460.9L487.8 459.2L488.0 460.2L488.3 459.8L488.5 459.7L488.8 460.5L489.0 460.4L489.3 460.5L489.5 461.8L489.7 459.8L490.0 459.2L490.2 459.1L490.5 460.0L490.7 459.3L491.0 460.6L491.2 460.1L491.5 461.4L491.7 460.4L491.9 459.6L492.2 461.1L492.4 460.0L492.7 458.1L492.9 459.2L493.2 459.8L493.4 458.9L493.7 459.3L493.9 460.3L494.1 457.6L494.4 459.1L494.6 459.1L494.9 459.1L495.1 460.6L495.4 460.0L495.6 459.3L495.9 460.2L496.1 459.9L496.3 460.3L496.6 460.3L496.8 459.0L497.1 460.2L497.3 458.8L497.6 459.4L497.8 461.1L498.0 460.6L498.3 460.5L498.5 458.9L498.8 460.1L499.0 459.3L499.3 459.0L499.5 459.7L499.8 460.5L500.0 459.8L500.2 459.3L500.5 460.0L500.7 459.4L501.0 460.5L501.2 461.0L501.5 460.3L501.7 459.8L502.0 461.2L502.2 459.8L502.4 460.4L502.7 461.1L502.9 459.7L503.2 458.9L503.4 461.1L503.7 458.1L503.9 459.9L504.2 460.6L504.4 459.8L504.6 461.4L504.9 459.9L505.1 460.0L505.4 461.9L505.6 461.6L505.9 461.0L506.1 460.4L506.4 459.9L506.6 460.3" stroke="#0000ff" stroke-width="1.90"/>
<path d="M216.0 440.0L216.1 435.9L216.2 432.6L216.3 429.3L216.4 426.1L216.5 422.9L216.6 419.3L216.6 418.7L216.7 420.6L216.7 421.0L216.8 422.9L216.9 423.6L217.0 425.7L217.1 426.4L217.2 427.9L217.3 429.4L217.4 430.5L217.5 432.4L217.5 432.0L217.6 433.9L217.7 435.7L217.7 436.7L217.8 436.7L217.9 439.2L218.0 440.7L218.1 442.9L218.2 445.3L218.3 448.1L218.4 449.1L218.4 450.7L218.5 451.8L218.5 452.8L218.6 454.9L218.6 454.5L218.7 455.9L218.8 458.1L218.9 459.6L219.0 462.0L219.1 462.5L219.2 465.0L219.3 466.0L219.3 465.6L219.4 465.8L219.5 465.5L219.5 465.2L219.6 465.1L219.7 464.5L219.8 463.2L219.9 463.5L220.0 462.7L220.1 462.9L220.1 462.2L220.2 462.6L220.3 462.1L220.4 462.1L220.4 462.0L220.5 462.1L220.6 461.9L220.7 461.2L220.8 461.1L220.9 461.2L221.0 461.1L221.1 461.9L221.2 461.2L221.3 460.9L221.4 460.8L221.5 460.6L221.6 461.3L221.7 460.5L221.8 460.8L221.9 460.4L222.0 459.8L222.1 460.3L222.2 460.5L222.3 460.9L222.4 460.1L222.5 461.3L222.6 460.8L222.7 461.5L222.8 460.6L222.9 460.8L223.0 460.7L223.1 460.9L223.2 459.7L223.2 460.2L223.3 460.2L223.4 460.8L223.5 460.2L223.6 460.5L223.7 460.7L223.8 461.2L223.9 460.5L224.0 461.6L224.1 460.8L224.2 461.5L224.3 460.4L224.4 460.3L224.5 460.2L224.6 461.1L224.7 460.1L225.0 459.7L225.2 460.8L225.4 460.9L225.7 460.8L225.9 460.8L226.2 460.2L226.4 460.8L226.6 460.4L226.9 460.6L227.1 460.9L227.3 460.5L227.6 460.5L227.8 460.5L228.1 460.4L228.3 460.7L228.5 460.4L228.8 461.3L229.0 460.8L229.3 460.0L229.5 460.4L229.7 460.7L230.0 460.9L230.2 460.8L230.5 460.6L230.7 461.3L230.9 460.7L231.2 460.7L231.4 461.5L231.7 461.3L231.9 460.6L232.1 460.7L232.4 459.8L232.6 459.7L232.8 461.8L233.1 460.9L233.3 460.1L233.6 460.4L233.8 460.0L234.0 460.1L234.3 460.6L234.5 460.1L234.8 460.6L235.0 461.1L235.2 460.5L235.5 460.0L235.7 460.2L236.0 460.7L236.2 460.0L236.4 460.0L236.7 460.0L236.9 461.4L237.2 460.9L237.4 460.8L237.6 460.9L237.9 461.5L238.1 460.8L238.4 460.1L238.6 461.0L238.8 459.7L239.1 461.0L239.3 460.4L239.5 460.7L239.8 461.1L240.0 460.5L240.3 460.5L240.5 460.6L240.7 460.1L241.0 460.3L241.2 461.2L241.5 460.0L241.7 461.0L241.9 461.4L242.2 460.3L242.4 460.1L242.7 461.0L242.9 460.6L243.1 460.9L243.4 460.3L243.6 460.8L243.8 460.5L244.1 461.1L244.3 460.4L244.6 460.6L244.8 459.5L245.0 460.0L245.3 460.8L245.5 461.1L245.8 460.3L246.0 461.0L246.2 460.3L246.5 460.2L246.7 460.0L247.0 460.0L247.2 460.1L247.4 460.7L247.7 460.7L247.9 460.6L248.2 460.0L248.4 460.8L248.6 460.7L248.9 460.3L249.1 461.2L249.3 460.8L249.6 460.7L249.8 460.9L250.1 460.9L250.3 460.5L250.5 461.1L250.8 460.5L251.0 460.8L251.3 461.4L251.5 461.9L251.7 461.2L252.0 460.5L252.2 460.8L252.5 461.0L252.7 460.8L252.9 460.6L253.2 460.9L253.4 461.2L253.7 460.2L253.9 460.8L254.1 460.6L254.4 461.0L254.6 460.7L254.9 460.3L255.1 461.2L255.3 460.9L255.6 460.9L255.8 461.3L256.0 460.1L256.3 461.3L256.5 460.6L256.8 461.1L257.0 460.9L257.2 461.0L257.5 461.1L257.7 460.9L258.0 461.8L258.2 461.2L258.4 460.8L258.7 460.2L258.9 460.9L259.2 461.2L259.4 460.5L259.6 460.7L259.9 461.4L260.1 461.2L260.3 461.4L260.6 460.4L260.8 461.4L261.1 461.4L261.3 460.8L261.5 460.5L261.8 461.2L262.0 460.6L262.3 461.5L262.5 460.6L262.7 460.9L263.0 460.9L263.2 461.9L263.5 460.6L263.7 461.0L263.9 460.9L264.2 461.4L264.4 460.4L264.7 461.2L264.9 460.8L265.1 461.1L265.4 461.1L265.6 460.7L265.8 460.8L266.1 460.5L266.3 461.2L266.6 460.7L266.8 461.4L267.0 461.0L267.3 461.7L267.5 461.0L267.8 461.1L268.0 461.3L268.2 461.3L268.5 461.1L268.7 460.6L269.0 461.1L269.2 461.0L269.4 460.9L269.7 460.5L269.9 460.6L270.2 460.8L270.4 461.7L270.6 460.8L270.9 461.3L271.1 460.9L271.4 461.4L271.6 460.8L271.8 461.2L272.1 461.2L272.1 461.0L272.3 461.7L272.5 460.6L272.8 461.1L273.0 461.1L273.3 461.5L273.5 460.8L273.5 461.5L273.7 460.6L274.0 461.4L274.2 461.1L274.5 461.4L274.7 461.1L274.9 460.8L275.2 461.4L275.4 461.6L275.7 461.3L275.9 461.5L276.1 461.1L276.4 461.7L276.6 461.4L276.8 460.9L277.1 461.2L277.3 461.7L277.6 461.4L277.8 461.2L278.0 461.0L278.3 461.7L278.5 461.2L278.8 461.7L279.0 462.0L279.2 460.9L279.5 461.1L279.7 461.1L280.0 461.0L280.2 461.5L280.4 460.8L280.7 461.0L280.9 461.7L281.2 461.6L281.4 462.1L281.6 462.3L281.9 461.2L282.1 461.2L282.3 461.8L282.6 461.2L282.8 461.5L283.1 462.1L283.3 461.3L283.5 461.3L283.8 461.3L284.0 461.9L284.3 462.2L284.5 461.4L284.7 461.1L285.0 460.2L285.2 462.4L285.5 461.8L285.7 461.2L285.9 461.4L286.2 461.2L286.4 462.2L286.7 462.2L286.9 461.4L287.1 462.5L287.4 461.9L287.6 462.4L287.9 461.7L288.1 461.8L288.3 461.1L288.6 461.9L288.8 461.2L289.0 461.6L289.3 461.9L289.5 462.4L289.8 461.6L290.0 462.1L290.2 461.1L290.5 461.9L290.7 461.6L291.0 461.6L291.2 462.9L291.4 462.1L291.7 461.8L291.9 461.7L292.2 461.9L292.4 461.3L292.6 461.5L292.9 461.5L293.1 461.4L293.3 462.5L293.6 461.6L293.8 462.0L294.1 462.6L294.3 461.7L294.5 461.4L294.8 461.6L295.0 461.8L295.3 462.2L295.5 461.2L295.7 461.8L296.0 462.2L296.2 462.5L296.5 462.1L296.7 462.8L296.9 461.7L297.2 461.7L297.4 462.2L297.7 462.8L297.9 462.4L298.1 461.4L298.4 461.5L298.6 461.9L298.9 461.5L299.1 461.8L299.3 462.4L299.6 462.5L299.8 461.9L300.0 461.7L300.3 463.1L300.5 462.2L300.8 462.7L301.0 463.1L301.2 462.6L301.5 462.3L301.7 462.2L302.0 462.3L302.2 462.1L302.4 462.5L302.7 462.8L302.9 461.5L303.2 461.5L303.4 462.9L303.6 462.8L303.9 462.9L304.1 462.3L304.4 462.3L304.6 462.7L304.8 462.3L305.1 462.2L305.3 462.1L305.5 462.3L305.8 462.5L306.0 462.2L306.3 463.1L306.5 462.4L306.7 463.0L307.0 462.1L307.2 462.0L307.5 462.2L307.7 462.3L307.9 461.4L308.2 461.6L308.4 461.7L308.7 462.1L308.9 461.8L309.1 462.2L309.4 461.8L309.6 462.9L309.8 461.9L310.1 462.8L310.3 462.1L310.6 462.0L310.8 461.5L311.0 462.1L311.3 462.3L311.5 461.8L311.8 461.7L312.0 461.9L312.2 462.1L312.5 461.8L312.7 462.4L313.0 462.0L313.2 462.2L313.4 461.6L313.7 462.3L313.9 461.4L314.2 461.2L314.4 461.9L314.6 462.4L314.9 461.7L315.1 462.0L315.4 461.8L315.6 461.6L315.8 461.6L316.1 461.7L316.3 462.6L316.5 461.8L316.8 462.2L317.0 461.7L317.3 462.9L317.5 462.2L317.7 462.1L318.0 462.5L318.2 461.7L318.5 461.5L318.7 461.4L318.9 461.8L319.2 462.0L319.4 461.2L319.7 462.0L319.9 461.0L320.1 461.4L320.4 461.8L320.6 461.1L320.9 461.1L321.1 462.4L321.3 461.6L321.6 461.7L321.8 461.6L322.0 460.8L322.3 461.0L322.5 460.5L322.8 461.0L323.0 461.4L323.2 461.7L323.5 461.2L323.7 461.1L324.0 461.4L324.2 461.5L324.4 461.0L324.7 461.2L324.9 460.4L325.2 461.4L325.4 460.9L325.6 461.0L325.9 460.2L326.1 461.2L326.3 461.4L326.6 461.0L326.8 461.2L327.1 460.5L327.3 460.6L327.5 460.8L327.8 461.0L328.0 462.0L328.3 461.4L328.5 461.1L328.7 461.3L329.0 460.6L329.2 460.1L329.5 461.1L329.7 461.3L329.9 460.7L330.2 460.1L330.4 460.8L330.7 461.1L330.9 460.5L331.1 461.3L331.4 461.1L331.6 460.5L331.9 461.1L332.1 460.7L332.3 460.7L332.6 461.1L332.8 460.3L333.0 459.7L333.3 460.3L333.5 460.8L333.8 460.7L334.0 460.2L334.2 460.6L334.5 460.6L334.7 460.7L335.0 460.3L335.2 460.3L335.4 460.4L335.7 460.0L335.9 459.9L336.2 459.6L336.4 460.1L336.6 460.0L336.9 460.0L337.1 460.3L337.3 459.8L337.6 460.9L337.8 459.8L338.1 460.3L338.3 460.0L338.5 459.5L338.8 459.5L339.0 459.2L339.3 461.1L339.5 459.6L339.7 460.0L340.0 459.4L340.2 460.2L340.5 459.6L340.7 460.1L340.9 460.0L341.2 460.4L341.4 459.7L341.7 460.0L341.9 459.9L342.1 459.0L342.4 460.0L342.6 459.2L342.8 459.8L343.1 459.7L343.3 459.5L343.6 459.8L343.8 458.5L344.0 459.9L344.3 459.7L344.5 459.5L344.8 459.1L345.0 459.2L345.2 459.3L345.5 459.6L345.7 459.4L346.0 459.0L346.2 458.9L346.4 459.8L346.7 460.4L346.9 459.0L347.2 459.3L347.4 459.3L347.6 459.8L347.9 459.2L348.1 459.2L348.4 458.8L348.6 458.4L348.8 459.3L349.1 459.3L349.3 459.3L349.5 459.2L349.8 460.3L350.0 459.5L350.3 459.5L350.5 458.6L350.7 458.9L351.0 459.6L351.2 459.5L351.5 459.6L351.7 459.8L351.9 459.0L352.2 458.9L352.4 459.4L352.7 460.1L352.9 459.2L353.1 458.9L353.4 459.3L353.6 459.7L353.8 459.3L354.1 458.2L354.3 459.1L354.6 458.9L354.8 459.5L355.0 459.1L355.3 459.6L355.5 458.9L355.8 459.9L356.0 459.8L356.2 458.3L356.5 459.3L356.7 458.7L357.0 459.3L357.2 458.7L357.4 459.5L357.7 459.6L357.9 458.6L358.2 458.8L358.4 460.0L358.5 459.4L358.6 459.0L358.7 458.3L358.8 459.0L358.9 459.0L359.0 459.6L359.1 458.5L359.2 458.6L359.3 459.8L359.4 458.9L359.5 460.2L359.6 459.0L359.7 459.4L359.8 458.9L359.9 459.6L360.0 458.8L360.1 459.5L360.2 459.1L360.3 459.4L360.3 459.4L360.4 458.4L360.5 458.0L360.6 456.7L360.7 456.6L360.7 456.3L360.8 455.0L360.9 454.7L361.0 454.2L361.0 454.2L361.1 453.1L361.2 452.3L361.2 451.9L361.3 451.4L361.3 451.4L361.4 451.9L361.4 452.1L361.5 453.3L361.6 453.8L361.6 452.9L361.7 454.3L361.7 454.1L361.8 455.2L361.9 456.0L361.9 456.0L362.0 455.9L362.1 457.2L362.1 456.6L362.2 457.3L362.2 458.2L362.3 458.7L362.4 459.0L362.5 458.8L362.5 459.1L362.6 460.3L362.7 459.0L362.8 459.3L362.8 459.1L362.9 458.8L363.0 459.6L363.0 458.7L363.1 459.2L363.2 459.6L363.3 458.9L363.4 459.5L363.4 459.5L363.5 459.4L363.6 458.8L363.7 458.6L363.8 459.2L363.8 458.2L363.9 459.1L363.9 458.8L364.0 458.8L364.1 459.0L364.2 459.4L364.2 458.9L364.3 459.2L364.4 459.2L364.5 459.3L364.5 458.8L364.6 459.0L364.7 458.8L364.8 459.1L364.9 459.3L365.0 459.2L365.1 458.2L365.2 458.5L365.3 458.6L365.4 458.4L365.5 459.2L365.6 458.3L365.7 459.3L365.8 458.9L365.9 458.9L366.0 458.8L366.1 459.3L366.2 458.1L366.3 459.3L366.4 458.2L366.5 458.3L366.6 458.4L366.7 458.6L366.8 458.7L366.9 458.8L367.0 457.8L367.1 458.6L367.2 458.7L367.3 458.0L367.4 457.5L367.5 458.8L367.6 458.3L367.7 458.3L367.8 458.7L367.9 458.7L368.0 458.0L368.1 458.2L368.2 457.9L368.3 458.8L368.4 458.6L368.5 458.5L368.6 458.2L368.6 458.0L368.7 458.2L368.8 458.9L368.9 458.4L369.0 457.3L369.1 458.3L369.2 457.8L369.3 458.2L369.4 457.8L369.5 457.6L369.6 458.6L369.7 458.0L369.8 457.3L369.9 458.2L370.0 458.1L370.3 457.8L370.5 457.6L370.8 458.5L371.0 457.4L371.2 457.9L371.5 457.8L371.7 457.8L372.0 457.9L372.2 457.5L372.5 457.9L372.7 457.7L373.0 457.9L373.2 457.8L373.4 457.9L373.7 458.4L373.9 457.6L374.2 458.4L374.4 457.7L374.7 457.8L374.9 458.4L375.1 458.0L375.4 458.1L375.6 457.9L375.9 458.4L376.1 457.6L376.4 458.0L376.6 457.6L376.9 458.3L377.1 458.3L377.3 457.9L377.6 458.6L377.8 458.3L378.1 457.5L378.3 458.4L378.6 458.1L378.8 458.7L379.1 457.7L379.3 458.6L379.5 458.7L379.8 458.1L380.0 458.6L380.3 459.0L380.5 458.6L380.8 458.1L381.0 458.4L381.3 458.0L381.5 457.9L381.7 458.0L382.0 457.7L382.2 458.2L382.2 457.7L382.5 458.4L382.7 457.7L383.0 457.9L383.1 457.9L383.2 457.0L383.5 458.2L383.7 458.0L383.9 457.9L384.0 457.9L384.2 458.0L384.4 458.0L384.7 458.3L384.9 458.6L385.2 458.9L385.4 458.3L385.7 458.6L385.9 459.0L386.1 457.8L386.4 457.9L386.6 458.3L386.9 458.9L387.1 458.5L387.4 458.4L387.6 458.6L387.9 457.9L388.1 458.1L388.3 458.9L388.6 458.3L388.8 459.2L389.1 458.3L389.3 458.2L389.6 457.9L389.8 459.6L390.1 457.9L390.3 458.9L390.5 458.3L390.8 459.0L391.0 458.5L391.3 458.4L391.5 458.7L391.8 458.4L392.0 458.8L392.3 458.9L392.5 458.9L392.7 459.2L393.0 458.6L393.2 458.9L393.5 458.0L393.7 458.8L394.0 458.1L394.2 459.8L394.5 458.5L394.7 458.5L394.9 458.2L395.2 457.9L395.4 458.5L395.7 458.0L395.9 458.8L396.2 458.9L396.4 458.3L396.7 458.6L396.9 458.2L397.1 459.1L397.4 458.9L397.6 458.6L397.9 458.7L398.1 458.4L398.4 457.5L398.6 458.8L398.8 458.2L399.1 458.9L399.3 459.4L399.6 459.4L399.8 459.2L400.1 459.7L400.3 458.9L400.6 458.5L400.8 459.8L401.0 459.0L401.3 459.4L401.5 458.3L401.8 458.3L402.0 458.7L402.3 458.8L402.5 459.0L402.8 458.9L403.0 458.2L403.2 458.6L403.5 458.8L403.7 458.1L404.0 458.8L404.2 458.8L404.5 459.1L404.7 459.6L405.0 458.9L405.2 459.1L405.4 458.6L405.7 459.5L405.9 459.5L406.2 459.0L406.4 459.3L406.7 459.2L406.9 459.0L407.2 459.4L407.4 459.1L407.6 458.2L407.9 459.0L408.1 459.2L408.4 458.9L408.6 459.3L408.9 458.9L409.1 458.7L409.4 459.3L409.6 459.3L409.8 458.9L410.1 459.8L410.3 458.5L410.6 459.4L410.8 459.9L411.1 459.1L411.3 459.6L411.6 459.7L411.8 459.5L412.0 459.1L412.3 458.9L412.5 459.9L412.8 459.2L413.0 459.6L413.3 459.3L413.5 458.9L413.8 459.0L414.0 458.7L414.2 459.6L414.5 459.2L414.7 459.0L415.0 459.5L415.2 459.5L415.5 459.8L415.7 459.8L416.0 458.4L416.2 459.5L416.4 459.2L416.7 459.2L416.9 459.4L417.2 459.2L417.4 459.0L417.7 459.6L417.9 458.8L418.2 459.2L418.4 459.4L418.6 459.4L418.9 458.8L419.1 458.6L419.4 459.5L419.6 459.1L419.9 459.5L420.1 459.7L420.3 459.3L420.6 459.1L420.8 458.5L421.1 459.7L421.3 459.8L421.6 460.2L421.8 459.9L422.1 459.1L422.3 459.1L422.5 458.6L422.8 459.0L423.0 459.4L423.3 459.1L423.5 458.8L423.8 460.1L424.0 460.2L424.3 459.3L424.5 459.2L424.7 460.2L425.0 459.6L425.2 459.9L425.5 459.3L425.7 458.8L426.0 459.0L426.2 458.9L426.5 459.6L426.7 459.7L426.9 459.0L427.2 459.7L427.4 459.4L427.7 459.2L427.9 459.9L428.2 460.4L428.4 459.0L428.7 459.5L428.9 459.1L429.1 459.3L429.4 460.2L429.6 459.4L429.9 459.7L430.1 459.6L430.4 459.7L430.6 459.5L430.9 459.4L431.1 459.9L431.3 459.3L431.6 458.7L431.8 459.6L432.1 458.9L432.3 459.6L432.6 459.7L432.8 459.9L433.1 459.0L433.3 459.6L433.5 459.9L433.8 459.1L434.0 459.7L434.3 459.5L434.5 460.3L434.8 459.9L435.0 459.8L435.3 459.4L435.5 459.4L435.7 459.5L436.0 459.9L436.2 459.1L436.5 459.7L436.7 459.7L437.0 460.3L437.2 459.3L437.5 459.3L437.7 459.1L437.9 459.9L438.2 459.1L438.4 459.5L438.7 460.5L438.9 459.6L439.2 459.9L439.4 459.5L439.7 460.1L439.9 460.3L440.1 459.9L440.4 458.7L440.6 459.9L440.9 460.0L441.1 460.1L441.4 460.4L441.6 460.1L441.9 459.5L442.1 460.3L442.3 460.0L442.6 460.0L442.8 459.5L443.1 459.8L443.3 459.9L443.6 459.0L443.8 459.1L444.1 459.5L444.3 460.2L444.5 459.8L444.8 460.6L445.0 460.6L445.3 460.2L445.5 459.9L445.8 459.7L446.0 460.0L446.3 460.5L446.5 459.9L446.7 459.9L447.0 459.6L447.2 459.5L447.5 459.6L447.7 459.3L448.0 459.7L448.2 459.9L448.4 459.5L448.7 459.7L448.9 460.6L449.2 459.6L449.4 459.6L449.7 460.3L449.9 459.5L450.2 460.4L450.4 459.0L450.6 460.8L450.9 459.7L451.1 460.2L451.4 460.0L451.6 459.6L451.9 459.6L452.1 459.5L452.4 459.4L452.6 460.3L452.8 460.0L453.1 460.0L453.3 459.9L453.6 460.7L453.8 459.4L454.1 459.7L454.3 459.5L454.6 459.7L454.8 460.2L455.0 460.3L455.3 460.2L455.5 460.6L455.8 460.2L456.0 460.0L456.3 459.8L456.5 460.2L456.8 459.1L457.0 460.1L457.2 459.8L457.5 459.8L457.7 460.5L458.0 459.8L458.2 460.7L458.5 460.1L458.7 460.2L459.0 460.1L459.2 459.7L459.4 459.3L459.7 459.8L459.9 459.6L460.2 460.1L460.4 460.3L460.7 459.8L460.9 460.3L461.2 459.8L461.4 459.4L461.6 459.3L461.9 459.3L462.1 460.3L462.4 459.6L462.6 459.8L462.9 460.0L463.1 460.3L463.4 459.8L463.6 459.3L463.8 459.8L464.1 459.9L464.3 459.2L464.6 459.9L464.8 459.8L465.1 459.2L465.3 459.0L465.6 459.8L465.8 459.9L466.0 460.0L466.3 460.2L466.5 460.0L466.8 459.5L467.0 459.2L467.3 460.2L467.5 459.9L467.7 459.7L468.0 459.8L468.2 460.2L468.5 460.4L468.7 460.6L469.0 459.8L469.2 459.7L469.5 459.9L469.7 459.6L469.9 460.0L470.2 460.0L470.4 460.8L470.7 459.2L470.9 460.3L471.2 459.5L471.4 459.2L471.7 459.8L471.9 459.6L472.1 459.8L472.4 459.6L472.6 459.9L472.9 460.5L473.1 459.9L473.4 460.6L473.6 459.7L473.9 459.8L474.1 459.5L474.3 460.2L474.6 460.4L474.8 459.8L475.1 460.0L475.3 460.0L475.6 460.3L475.8 460.2L476.1 459.6L476.3 459.9L476.5 459.8L476.8 459.1L477.0 459.4L477.3 459.8L477.5 459.4L477.8 460.2L478.0 460.3L478.3 459.8L478.5 459.7L478.7 459.8L479.0 459.1L479.2 460.4L479.5 459.5L479.7 459.7L480.0 459.6L480.2 460.1L480.5 460.2L480.7 460.0L480.9 460.0L481.2 460.5L481.4 459.7L481.7 460.3L481.9 460.5L482.2 459.8L482.4 459.9L482.7 460.5L482.9 460.1L483.1 460.2L483.4 460.3L483.6 460.4L483.9 460.0L484.1 459.7L484.4 460.2L484.6 459.6L484.9 459.8L485.1 459.4L485.3 459.8L485.6 460.1L485.8 459.8L486.1 459.9L486.3 460.5L486.6 460.3L486.8 459.7L487.1 460.2L487.3 459.6L487.5 460.5L487.8 459.9L488.0 460.1L488.3 460.4L488.5 460.2L488.8 460.2L489.0 459.2L489.3 459.6L489.5 460.1L489.7 459.3L490.0 459.9L490.2 460.0L490.5 459.6L490.7 459.8L491.0 460.0L491.2 460.2L491.5 460.1L491.7 460.2L491.9 460.4L492.2 460.2L492.4 460.2L492.7 460.4L492.9 460.3L493.2 459.6L493.4 459.6L493.7 459.9L493.9 460.3L494.1 460.2L494.4 459.9L494.6 459.6L494.9 460.2L495.1 460.4L495.4 460.3L495.6 460.0L495.9 459.8L496.1 459.4L496.3 460.7L496.6 460.2L496.8 459.9L497.1 460.5L497.3 460.2L497.6 460.7L497.8 460.1L498.0 459.6L498.3 459.3L498.5 460.2L498.8 460.0L499.0 459.5L499.3 459.7L499.5 459.8L499.8 459.8L500.0 460.1L500.2 460.4L500.5 460.1L500.7 459.7L501.0 460.0L501.2 459.7L501.5 459.7L501.7 459.9L502.0 459.8L502.2 460.6L502.4 460.2L502.7 459.8L502.9 460.2L503.2 460.4L503.4 460.0L503.7 460.5L503.9 459.6L504.2 459.8L504.4 460.1L504.6 459.8L504.9 460.2L505.1 459.5L505.4 460.3L505.6 459.5L505.9 460.0L506.1 459.9L506.4 460.3L506.6 460.1" stroke="#ff0000" stroke-width="1.20" stroke-dasharray="0.90 0.85"/>
<path d="M216.0 447.2L216.1 445.9L216.2 444.6L216.3 442.8L216.4 441.8L216.5 440.3L216.6 439.2L216.6 439.3L216.7 439.9L216.7 440.3L216.8 441.0L216.9 442.0L217.0 442.7L217.1 443.9L217.2 444.3L217.3 445.3L217.4 446.5L217.5 447.4L217.5 447.4L217.6 448.5L217.7 448.9L217.7 449.4L217.8 450.2L217.9 450.7L218.0 451.4L218.1 452.3L218.2 453.2L218.3 453.7L218.4 454.7L218.4 455.4L218.5 455.8L218.5 456.6L218.6 457.6L218.6 458.0L218.7 459.1L218.8 460.0L218.9 461.0L219.0 462.5L219.1 463.3L219.2 464.7L219.3 466.0L219.3 465.8L219.4 465.4L219.5 465.4L219.5 465.1L219.6 464.6L219.7 464.2L219.8 464.0L219.9 463.6L220.0 462.6L220.1 462.8L220.1 462.9L220.2 462.2L220.3 461.8L220.4 461.6L220.4 461.9L220.5 461.6L220.6 461.4L220.7 461.2L220.8 461.1L220.9 461.2L221.0 461.3L221.1 460.7L221.2 461.2L221.3 460.9L221.4 460.6L221.5 460.8L221.6 460.4L221.7 460.5L221.8 460.4L221.9 460.3L222.0 460.4L222.1 460.7L222.2 460.3L222.3 460.4L222.4 460.4L222.5 460.4L222.6 460.6L222.7 460.6L222.8 460.4L222.9 460.6L223.0 460.4L223.1 460.6L223.2 460.6L223.2 460.7L223.3 460.6L223.4 460.5L223.5 460.5L223.6 460.5L223.7 460.4L223.8 460.6L223.9 460.5L224.0 460.6L224.1 460.3L224.2 460.3L224.3 460.4L224.4 460.2L224.5 460.6L224.6 460.6L224.7 460.5L225.0 460.1L225.2 460.4L225.4 460.4L225.7 460.5L225.9 460.3L226.2 460.4L226.4 460.3L226.6 460.4L226.9 460.2L227.1 460.8L227.3 460.6L227.6 460.5L227.8 460.7L228.1 460.6L228.3 460.3L228.5 460.4L228.8 460.3L229.0 460.7L229.3 460.3L229.5 460.6L229.7 460.4L230.0 460.6L230.2 460.3L230.5 460.5L230.7 460.6L230.9 460.6L231.2 460.5L231.4 460.2L231.7 460.6L231.9 460.3L232.1 460.4L232.4 460.4L232.6 460.4L232.8 460.3L233.1 460.5L233.3 460.6L233.6 460.6L233.8 460.4L234.0 460.3L234.3 460.3L234.5 460.4L234.8 460.5L235.0 460.6L235.2 460.4L235.5 460.6L235.7 460.6L236.0 460.6L236.2 460.7L236.4 460.5L236.7 460.5L236.9 460.3L237.2 460.6L237.4 460.1L237.6 460.5L237.9 460.6L238.1 460.4L238.4 460.6L238.6 460.3L238.8 460.7L239.1 460.8L239.3 460.1L239.5 460.4L239.8 460.5L240.0 460.6L240.3 460.6L240.5 460.6L240.7 460.5L241.0 460.5L241.2 460.8L241.5 460.3L241.7 460.4L241.9 460.4L242.2 460.8L242.4 460.6L242.7 460.7L242.9 460.6L243.1 460.9L243.4 460.4L243.6 460.7L243.8 461.0L244.1 460.5L244.3 460.7L244.6 460.4L244.8 460.9L245.0 460.7L245.3 460.8L245.5 460.5L245.8 460.8L246.0 460.8L246.2 460.7L246.5 460.7L246.7 460.4L247.0 460.7L247.2 460.7L247.4 460.6L247.7 460.6L247.9 460.6L248.2 460.7L248.4 460.7L248.6 460.7L248.9 460.6L249.1 460.7L249.3 460.4L249.6 460.9L249.8 460.9L250.1 460.7L250.3 460.6L250.5 460.5L250.8 460.6L251.0 460.6L251.3 460.3L251.5 460.5L251.7 460.8L252.0 460.6L252.2 460.8L252.5 460.7L252.7 460.8L252.9 460.8L253.2 460.9L253.4 460.7L253.7 460.7L253.9 460.6L254.1 460.7L254.4 460.8L254.6 460.7L254.9 460.5L255.1 460.9L255.3 461.0L255.6 460.8L255.8 460.8L256.0 460.6L256.3 460.6L256.5 460.5L256.8 461.0L257.0 460.6L257.2 460.5L257.5 460.7L257.7 460.5L258.0 460.6L258.2 460.8L258.4 460.6L258.7 460.7L258.9 461.0L259.2 460.7L259.4 461.0L259.6 460.8L259.9 461.2L260.1 460.9L260.3 460.7L260.6 460.9L260.8 461.1L261.1 461.0L261.3 460.6L261.5 460.9L261.8 460.7L262.0 460.5L262.3 460.8L262.5 460.8L262.7 460.6L263.0 461.2L263.2 460.8L263.5 460.8L263.7 460.8L263.9 460.8L264.2 460.9L264.4 461.1L264.7 460.6L264.9 460.8L265.1 461.2L265.4 461.1L265.6 460.8L265.8 460.8L266.1 461.0L266.3 461.0L266.6 461.0L266.8 460.9L267.0 461.0L267.3 461.0L267.5 461.1L267.8 460.7L268.0 461.1L268.2 461.0L268.5 461.0L268.7 461.0L269.0 461.2L269.2 461.1L269.4 461.0L269.7 461.4L269.9 461.0L270.2 460.6L270.4 461.1L270.6 461.1L270.9 461.0L271.1 461.1L271.4 461.2L271.6 461.0L271.8 461.1L272.1 461.1L272.1 460.9L272.3 461.0L272.5 461.0L272.8 460.8L273.0 461.0L273.3 460.9L273.5 461.1L273.5 460.9L273.7 460.8L274.0 461.1L274.2 461.0L274.5 461.3L274.7 461.1L274.9 461.1L275.2 461.0L275.4 461.2L275.7 460.9L275.9 460.9L276.1 461.0L276.4 460.8L276.6 461.3L276.8 461.5L277.1 461.3L277.3 461.4L277.6 461.4L277.8 461.3L278.0 461.1L278.3 461.0L278.5 461.3L278.8 461.1L279.0 461.3L279.2 461.3L279.5 461.1L279.7 461.3L280.0 461.3L280.2 461.3L280.4 461.5L280.7 461.2L280.9 461.0L281.2 461.4L281.4 461.2L281.6 461.2L281.9 461.4L282.1 461.4L282.3 461.5L282.6 461.7L282.8 461.5L283.1 461.3L283.3 461.3L283.5 461.6L283.8 461.2L284.0 461.8L284.3 461.7L284.5 461.5L284.7 461.7L285.0 461.6L285.2 461.5L285.5 461.7L285.7 461.8L285.9 461.5L286.2 461.3L286.4 461.6L286.7 461.4L286.9 461.9L287.1 461.8L287.4 461.5L287.6 461.6L287.9 461.7L288.1 461.9L288.3 462.0L288.6 461.6L288.8 461.6L289.0 461.7L289.3 461.6L289.5 461.8L289.8 461.9L290.0 461.9L290.2 461.9L290.5 461.9L290.7 461.6L291.0 461.8L291.2 461.8L291.4 461.6L291.7 461.7L291.9 461.8L292.2 461.8L292.4 461.8L292.6 462.0L292.9 461.9L293.1 462.1L293.3 462.0L293.6 462.0L293.8 462.1L294.1 461.9L294.3 461.9L294.5 461.6L294.8 462.0L295.0 461.9L295.3 462.1L295.5 462.0L295.7 462.0L296.0 461.9L296.2 462.0L296.5 462.1L296.7 462.2L296.9 462.1L297.2 461.9L297.4 462.3L297.7 461.9L297.9 462.1L298.1 462.3L298.4 462.2L298.6 462.0L298.9 462.0L299.1 462.3L299.3 462.2L299.6 461.9L299.8 462.1L300.0 461.9L300.3 462.1L300.5 462.3L300.8 462.2L301.0 462.4L301.2 462.2L301.5 462.1L301.7 462.2L302.0 462.4L302.2 462.5L302.4 462.3L302.7 462.7L302.9 462.4L303.2 462.1L303.4 462.4L303.6 462.7L303.9 462.4L304.1 462.4L304.4 462.2L304.6 462.6L304.8 462.3L305.1 462.4L305.3 462.1L305.5 462.2L305.8 462.4L306.0 462.1L306.3 462.3L306.5 462.0L306.7 462.1L307.0 462.1L307.2 462.2L307.5 462.3L307.7 462.3L307.9 462.1L308.2 462.5L308.4 461.9L308.7 462.1L308.9 462.1L309.1 462.4L309.4 462.3L309.6 462.3L309.8 462.0L310.1 462.2L310.3 462.2L310.6 461.9L310.8 462.2L311.0 462.4L311.3 462.5L311.5 462.0L311.8 461.7L312.0 461.9L312.2 461.9L312.5 462.2L312.7 461.7L313.0 462.1L313.2 461.8L313.4 461.5L313.7 461.8L313.9 462.2L314.2 461.9L314.4 462.0L314.6 461.9L314.9 461.7L315.1 461.6L315.4 461.7L315.6 461.9L315.8 461.8L316.1 462.0L316.3 461.8L316.5 461.9L316.8 461.6L317.0 461.6L317.3 461.7L317.5 461.8L317.7 461.8L318.0 461.5L318.2 461.6L318.5 461.6L318.7 461.8L318.9 461.6L319.2 461.7L319.4 461.6L319.7 461.3L319.9 461.5L320.1 461.6L320.4 462.0L320.6 461.7L320.9 461.9L321.1 461.7L321.3 461.4L321.6 461.3L321.8 461.6L322.0 461.9L322.3 461.3L322.5 461.3L322.8 461.5L323.0 461.8L323.2 461.2L323.5 461.4L323.7 461.3L324.0 461.7L324.2 461.5L324.4 461.1L324.7 461.5L324.9 461.2L325.2 461.3L325.4 461.2L325.6 461.1L325.9 461.3L326.1 461.1L326.3 461.1L326.6 461.3L326.8 461.1L327.1 461.1L327.3 461.3L327.5 460.8L327.8 460.9L328.0 461.0L328.3 460.9L328.5 461.2L328.7 461.0L329.0 460.9L329.2 460.8L329.5 461.1L329.7 460.9L329.9 460.8L330.2 461.0L330.4 460.4L330.7 460.9L330.9 461.1L331.1 460.8L331.4 460.5L331.6 461.0L331.9 460.3L332.1 460.5L332.3 460.6L332.6 460.5L332.8 460.3L333.0 460.7L333.3 460.6L333.5 460.6L333.8 460.4L334.0 460.6L334.2 460.5L334.5 460.5L334.7 460.3L335.0 460.2L335.2 460.5L335.4 460.3L335.7 460.3L335.9 460.2L336.2 460.0L336.4 460.4L336.6 460.4L336.9 460.3L337.1 460.2L337.3 460.0L337.6 460.2L337.8 460.0L338.1 460.1L338.3 459.8L338.5 460.0L338.8 459.7L339.0 459.8L339.3 460.2L339.5 460.0L339.7 460.0L340.0 460.0L340.2 459.9L340.5 460.1L340.7 459.7L340.9 459.5L341.2 459.5L341.4 459.7L341.7 459.7L341.9 459.9L342.1 459.6L342.4 459.8L342.6 459.7L342.8 459.6L343.1 459.5L343.3 459.6L343.6 459.3L343.8 459.6L344.0 459.4L344.3 459.5L344.5 459.6L344.8 459.3L345.0 459.5L345.2 459.6L345.5 459.3L345.7 459.6L346.0 459.5L346.2 459.7L346.4 459.4L346.7 459.9L346.9 459.7L347.2 459.5L347.4 459.4L347.6 459.6L347.9 459.2L348.1 459.5L348.4 459.5L348.6 459.7L348.8 459.2L349.1 459.5L349.3 459.4L349.5 459.3L349.8 459.2L350.0 459.4L350.3 459.1L350.5 459.3L350.7 459.4L351.0 459.2L351.2 458.9L351.5 459.2L351.7 459.4L351.9 459.1L352.2 459.1L352.4 459.3L352.7 459.1L352.9 459.2L353.1 459.5L353.4 459.1L353.6 459.5L353.8 459.1L354.1 459.3L354.3 459.3L354.6 459.2L354.8 459.2L355.0 459.1L355.3 459.1L355.5 458.8L355.8 459.2L356.0 459.2L356.2 459.1L356.5 459.2L356.7 459.3L357.0 459.1L357.2 459.1L357.4 458.7L357.7 459.4L357.9 459.1L358.2 459.3L358.4 458.7L358.5 459.1L358.6 458.9L358.7 459.4L358.8 458.9L358.9 459.0L359.0 458.9L359.1 458.8L359.2 458.9L359.3 458.7L359.4 459.0L359.5 459.2L359.6 458.9L359.7 458.9L359.8 459.1L359.9 458.9L360.0 459.0L360.1 459.1L360.2 459.2L360.3 458.7L360.3 458.9L360.4 458.7L360.5 457.5L360.6 456.9L360.7 455.9L360.7 455.6L360.8 454.3L360.9 453.3L361.0 452.5L361.0 452.3L361.1 451.2L361.2 450.7L361.2 452.0L361.3 452.2L361.3 452.9L361.4 453.8L361.4 454.0L361.5 455.2L361.6 455.9L361.6 456.0L361.7 457.2L361.7 457.3L361.8 458.2L361.9 458.9L361.9 459.2L362.0 460.5L362.1 461.5L362.1 461.5L362.2 462.4L362.2 462.8L362.3 463.8L362.4 464.8L362.5 465.7L362.5 465.5L362.6 464.7L362.7 464.6L362.8 464.5L362.8 464.2L362.9 463.9L363.0 464.0L363.0 463.4L363.1 463.9L363.2 463.9L363.3 463.4L363.4 462.9L363.4 462.9L363.5 462.4L363.6 462.2L363.7 462.3L363.8 462.2L363.8 462.3L363.9 461.7L363.9 461.9L364.0 461.6L364.1 461.6L364.2 461.4L364.2 461.1L364.3 461.4L364.4 461.0L364.5 461.4L364.5 461.5L364.6 461.0L364.7 461.6L364.8 460.9L364.9 461.1L365.0 461.0L365.1 461.0L365.2 460.8L365.3 460.8L365.4 460.8L365.5 460.5L365.6 460.3L365.7 460.3L365.8 460.2L365.9 460.5L366.0 460.1L366.1 460.1L366.2 460.0L366.3 460.0L366.4 460.1L366.5 459.8L366.6 460.0L366.7 459.5L366.8 459.3L366.9 459.4L367.0 459.8L367.1 459.5L367.2 459.3L367.3 459.3L367.4 459.2L367.5 459.0L367.6 459.2L367.7 458.9L367.8 458.8L367.9 458.7L368.0 459.0L368.1 458.6L368.2 458.6L368.3 458.4L368.4 458.8L368.5 458.6L368.6 458.5L368.6 458.2L368.7 458.5L368.8 458.6L368.9 458.5L369.0 458.2L369.1 457.9L369.2 458.0L369.3 458.1L369.4 458.5L369.5 458.2L369.6 458.2L369.7 458.1L369.8 458.2L369.9 458.1L370.0 458.4L370.3 458.2L370.5 458.2L370.8 457.9L371.0 458.5L371.2 458.3L371.5 458.0L371.7 458.1L372.0 457.7L372.2 457.9L372.5 457.9L372.7 458.0L373.0 457.8L373.2 457.8L373.4 458.0L373.7 457.9L373.9 457.9L374.2 458.4L374.4 458.3L374.7 457.8L374.9 457.8L375.1 457.9L375.4 458.0L375.6 457.9L375.9 458.1L376.1 458.1L376.4 457.9L376.6 458.2L376.9 458.0L377.1 458.0L377.3 458.2L377.6 457.8L377.8 458.0L378.1 458.1L378.3 458.2L378.6 457.9L378.8 458.2L379.1 457.8L379.3 457.8L379.5 458.2L379.8 457.9L380.0 457.7L380.3 458.0L380.5 458.2L380.8 458.0L381.0 458.2L381.3 458.1L381.5 458.4L381.7 458.3L382.0 458.1L382.2 458.2L382.2 458.2L382.5 458.4L382.7 458.4L383.0 458.2L383.1 458.3L383.2 458.2L383.5 458.3L383.7 458.4L383.9 458.4L384.0 458.1L384.2 458.4L384.4 458.5L384.7 458.1L384.9 458.5L385.2 458.2L385.4 458.1L385.7 458.1L385.9 458.7L386.1 458.5L386.4 458.3L386.6 458.4L386.9 458.5L387.1 458.1L387.4 458.6L387.6 458.7L387.9 458.6L388.1 458.7L388.3 458.5L388.6 458.6L388.8 458.6L389.1 458.8L389.3 458.1L389.6 458.6L389.8 458.7L390.1 458.7L390.3 458.7L390.5 458.4L390.8 458.7L391.0 458.8L391.3 458.5L391.5 458.6L391.8 458.2L392.0 458.9L392.3 459.0L392.5 458.5L392.7 458.7L393.0 458.4L393.2 458.7L393.5 458.5L393.7 458.8L394.0 458.5L394.2 458.9L394.5 459.1L394.7 458.9L394.9 458.8L395.2 458.4L395.4 458.7L395.7 458.6L395.9 458.6L396.2 459.1L396.4 458.6L396.7 458.8L396.9 458.6L397.1 458.7L397.4 458.8L397.6 458.6L397.9 459.0L398.1 459.0L398.4 458.6L398.6 458.9L398.8 458.8L399.1 458.7L399.3 458.6L399.6 458.9L399.8 458.9L400.1 458.6L400.3 458.9L400.6 458.7L400.8 458.8L401.0 458.9L401.3 458.8L401.5 458.8L401.8 458.9L402.0 458.5L402.3 458.7L402.5 459.0L402.8 458.9L403.0 459.1L403.2 458.9L403.5 459.0L403.7 458.9L404.0 459.0L404.2 459.1L404.5 459.1L404.7 458.9L405.0 458.8L405.2 458.9L405.4 458.9L405.7 458.8L405.9 458.9L406.2 458.6L406.4 458.9L406.7 459.0L406.9 458.9L407.2 459.0L407.4 458.9L407.6 459.0L407.9 459.2L408.1 458.8L408.4 459.3L408.6 459.2L408.9 458.9L409.1 458.8L409.4 459.0L409.6 459.1L409.8 459.1L410.1 459.0L410.3 459.1L410.6 459.2L410.8 459.1L411.1 459.2L411.3 459.0L411.6 459.1L411.8 459.2L412.0 458.8L412.3 459.3L412.5 459.3L412.8 458.9L413.0 459.1L413.3 459.1L413.5 459.3L413.8 459.4L414.0 459.3L414.2 459.7L414.5 458.9L414.7 459.1L415.0 459.4L415.2 459.4L415.5 459.0L415.7 459.3L416.0 459.0L416.2 459.1L416.4 459.2L416.7 459.0L416.9 459.1L417.2 459.2L417.4 459.4L417.7 458.8L417.9 459.2L418.2 459.3L418.4 459.2L418.6 459.2L418.9 459.2L419.1 459.0L419.4 459.2L419.6 459.1L419.9 459.2L420.1 459.2L420.3 459.1L420.6 459.6L420.8 459.8L421.1 459.3L421.3 459.5L421.6 459.6L421.8 459.2L422.1 459.4L422.3 459.4L422.5 459.3L422.8 459.5L423.0 459.2L423.3 459.4L423.5 459.5L423.8 459.5L424.0 459.2L424.3 459.4L424.5 459.3L424.7 459.5L425.0 459.5L425.2 459.6L425.5 459.3L425.7 459.4L426.0 459.5L426.2 459.1L426.5 459.5L426.7 459.3L426.9 459.2L427.2 459.5L427.4 459.3L427.7 459.4L427.9 459.3L428.2 459.1L428.4 459.6L428.7 459.7L428.9 459.3L429.1 459.8L429.4 459.6L429.6 459.5L429.9 459.4L430.1 459.5L430.4 459.6L430.6 459.6L430.9 459.4L431.1 459.8L431.3 459.5L431.6 460.1L431.8 459.6L432.1 459.5L432.3 459.7L432.6 459.7L432.8 459.4L433.1 459.3L433.3 459.8L433.5 459.5L433.8 459.5L434.0 459.8L434.3 459.6L434.5 459.5L434.8 459.4L435.0 459.5L435.3 459.3L435.5 459.2L435.7 459.8L436.0 459.6L436.2 459.9L436.5 459.7L436.7 459.8L437.0 459.6L437.2 459.2L437.5 459.9L437.7 459.6L437.9 459.7L438.2 459.5L438.4 459.5L438.7 459.8L438.9 459.8L439.2 460.0L439.4 459.9L439.7 459.6L439.9 459.5L440.1 459.6L440.4 459.9L440.6 459.7L440.9 460.0L441.1 459.9L441.4 459.6L441.6 459.6L441.9 459.8L442.1 459.7L442.3 459.9L442.6 459.5L442.8 459.6L443.1 459.9L443.3 459.6L443.6 460.2L443.8 459.6L444.1 459.6L444.3 459.8L444.5 459.7L444.8 460.0L445.0 459.9L445.3 459.5L445.5 459.6L445.8 459.7L446.0 459.9L446.3 460.0L446.5 459.7L446.7 460.0L447.0 459.9L447.2 459.8L447.5 459.5L447.7 460.1L448.0 459.8L448.2 460.0L448.4 459.7L448.7 459.7L448.9 460.0L449.2 459.6L449.4 460.1L449.7 460.1L449.9 460.0L450.2 459.7L450.4 459.9L450.6 459.7L450.9 459.7L451.1 460.1L451.4 460.1L451.6 459.8L451.9 459.9L452.1 459.8L452.4 459.7L452.6 459.7L452.8 459.7L453.1 459.8L453.3 459.9L453.6 459.5L453.8 459.8L454.1 459.7L454.3 459.6L454.6 459.8L454.8 459.8L455.0 459.9L455.3 460.1L455.5 459.9L455.8 459.8L456.0 460.1L456.3 459.6L456.5 459.7L456.8 459.7L457.0 459.9L457.2 459.6L457.5 459.4L457.7 460.1L458.0 459.5L458.2 459.8L458.5 459.7L458.7 460.1L459.0 459.7L459.2 459.9L459.4 459.9L459.7 459.9L459.9 459.9L460.2 459.9L460.4 459.9L460.7 459.7L460.9 460.0L461.2 459.5L461.4 460.0L461.6 459.9L461.9 459.8L462.1 459.9L462.4 460.0L462.6 460.4L462.9 459.6L463.1 460.1L463.4 460.1L463.6 460.2L463.8 459.9L464.1 460.1L464.3 459.9L464.6 459.7L464.8 459.6L465.1 459.7L465.3 459.8L465.6 459.8L465.8 459.9L466.0 459.8L466.3 459.9L466.5 460.1L466.8 459.6L467.0 460.0L467.3 460.1L467.5 459.9L467.7 459.6L468.0 459.9L468.2 460.0L468.5 459.9L468.7 459.6L469.0 460.1L469.2 460.1L469.5 460.2L469.7 459.8L469.9 460.0L470.2 459.8L470.4 459.8L470.7 459.9L470.9 459.7L471.2 459.9L471.4 459.9L471.7 459.7L471.9 459.8L472.1 460.2L472.4 460.3L472.6 459.7L472.9 460.0L473.1 460.0L473.4 459.8L473.6 459.7L473.9 459.9L474.1 459.7L474.3 460.1L474.6 460.2L474.8 460.3L475.1 459.8L475.3 460.0L475.6 459.9L475.8 459.7L476.1 460.2L476.3 459.4L476.5 459.9L476.8 460.3L477.0 459.7L477.3 459.5L477.5 459.9L477.8 460.0L478.0 459.7L478.3 459.7L478.5 460.3L478.7 459.9L479.0 459.8L479.2 460.2L479.5 459.9L479.7 460.1L480.0 459.9L480.2 459.7L480.5 459.6L480.7 459.9L480.9 459.9L481.2 460.0L481.4 459.9L481.7 459.6L481.9 459.9L482.2 460.1L482.4 460.0L482.7 459.9L482.9 459.8L483.1 460.1L483.4 459.7L483.6 459.8L483.9 460.0L484.1 459.8L484.4 459.6L484.6 460.1L484.9 460.0L485.1 459.8L485.3 459.9L485.6 460.1L485.8 460.0L486.1 459.7L486.3 459.9L486.6 460.0L486.8 460.0L487.1 460.0L487.3 460.1L487.5 459.7L487.8 460.0L488.0 459.7L488.3 459.9L488.5 459.8L488.8 459.9L489.0 459.8L489.3 459.6L489.5 459.9L489.7 460.2L490.0 459.8L490.2 459.6L490.5 459.8L490.7 460.0L491.0 459.9L491.2 460.2L491.5 460.1L491.7 459.8L491.9 459.7L492.2 459.6L492.4 460.0L492.7 460.0L492.9 460.1L493.2 460.1L493.4 460.1L493.7 460.2L493.9 459.7L494.1 460.3L494.4 459.7L494.6 459.8L494.9 460.0L495.1 459.9L495.4 460.0L495.6 459.7L495.9 459.8L496.1 459.8L496.3 460.1L496.6 459.8L496.8 460.1L497.1 459.8L497.3 459.7L497.6 460.0L497.8 460.1L498.0 460.0L498.3 459.7L498.5 460.2L498.8 460.0L499.0 460.0L499.3 459.7L499.5 460.1L499.8 460.1L500.0 460.1L500.2 459.9L500.5 460.1L500.7 460.1L501.0 460.2L501.2 459.9L501.5 460.0L501.7 459.9L502.0 460.3L502.2 459.8L502.4 460.0L502.7 459.7L502.9 459.7L503.2 460.1L503.4 460.0L503.7 460.1L503.9 460.0L504.2 459.9L504.4 460.0L504.6 460.0L504.9 459.7L505.1 460.3L505.4 460.0L505.6 460.1L505.9 460.1L506.1 460.0L506.4 460.0L506.6 460.2" stroke="#00f800" stroke-width="1.30" stroke-dasharray="5.20 1.10 1.10 1.10"/>
<path d="M216.0 442.3L216.1 441.7L216.2 440.8L216.3 440.1L216.4 438.9L216.5 438.3L216.6 437.4L216.6 437.1L216.7 436.1L216.7 436.2L216.8 436.7L216.9 436.7L217.0 437.8L217.1 438.7L217.2 439.5L217.3 440.2L217.4 441.0L217.5 441.6L217.5 441.9L217.6 442.4L217.7 443.2L217.7 443.8L217.8 444.2L217.9 445.7L218.0 447.0L218.1 448.7L218.2 450.4L218.3 451.7L218.4 453.3L218.4 454.9L218.5 455.0L218.5 456.2L218.6 457.4L218.6 457.6L218.7 458.5L218.8 460.0L218.9 460.9L219.0 462.1L219.1 463.1L219.2 464.2L219.3 465.1L219.3 465.4L219.4 466.1L219.5 466.9L219.5 466.8L219.6 466.0L219.7 465.9L219.8 464.8L219.9 464.5L220.0 464.2L220.1 463.9L220.1 463.7L220.2 463.1L220.3 462.4L220.4 462.2L220.4 462.4L220.5 462.4L220.6 462.0L220.7 461.7L220.8 462.0L220.9 461.5L221.0 461.5L221.1 461.3L221.2 460.9L221.3 461.1L221.4 460.8L221.5 460.9L221.6 460.5L221.7 460.7L221.8 460.5L221.9 460.5L222.0 460.4L222.1 460.5L222.2 460.8L222.3 460.4L222.4 460.4L222.5 460.2L222.6 460.6L222.7 460.4L222.8 460.2L222.9 460.4L223.0 460.7L223.1 460.7L223.2 460.6L223.2 460.4L223.3 460.7L223.4 460.4L223.5 460.7L223.6 460.4L223.7 460.4L223.8 460.6L223.9 460.2L224.0 460.6L224.1 460.9L224.2 460.5L224.3 460.4L224.4 460.6L224.5 460.4L224.6 460.3L224.7 460.5L225.0 460.4L225.2 460.3L225.4 460.5L225.7 460.4L225.9 460.5L226.2 460.7L226.4 460.5L226.6 460.6L226.9 460.5L227.1 460.5L227.3 460.5L227.6 460.9L227.8 460.5L228.1 460.7L228.3 460.7L228.5 460.3L228.8 460.7L229.0 460.3L229.3 460.7L229.5 460.4L229.7 460.4L230.0 460.6L230.2 460.4L230.5 461.0L230.7 460.5L230.9 460.6L231.2 460.4L231.4 460.6L231.7 460.5L231.9 460.6L232.1 460.4L232.4 460.4L232.6 460.8L232.8 460.2L233.1 460.6L233.3 460.2L233.6 460.6L233.8 460.5L234.0 460.3L234.3 460.6L234.5 460.4L234.8 460.6L235.0 460.5L235.2 460.6L235.5 460.5L235.7 460.2L236.0 460.7L236.2 460.5L236.4 460.6L236.7 460.5L236.9 460.6L237.2 460.5L237.4 460.5L237.6 460.2L237.9 460.8L238.1 460.6L238.4 460.5L238.6 460.3L238.8 460.8L239.1 460.2L239.3 460.4L239.5 460.2L239.8 460.4L240.0 460.6L240.3 460.7L240.5 460.5L240.7 460.5L241.0 460.8L241.2 460.6L241.5 460.6L241.7 460.5L241.9 460.8L242.2 460.7L242.4 460.7L242.7 460.5L242.9 460.7L243.1 460.9L243.4 460.8L243.6 460.4L243.8 460.5L244.1 460.6L244.3 460.5L244.6 460.7L244.8 460.7L245.0 460.7L245.3 460.4L245.5 460.6L245.8 460.8L246.0 460.6L246.2 460.7L246.5 460.4L246.7 460.5L247.0 460.6L247.2 460.7L247.4 460.5L247.7 460.5L247.9 460.9L248.2 460.7L248.4 460.6L248.6 460.6L248.9 460.6L249.1 460.6L249.3 460.5L249.6 460.5L249.8 460.6L250.1 460.8L250.3 461.1L250.5 460.9L250.8 460.7L251.0 460.6L251.3 460.3L251.5 460.6L251.7 460.9L252.0 460.6L252.2 460.8L252.5 460.9L252.7 460.8L252.9 460.6L253.2 460.8L253.4 460.6L253.7 460.8L253.9 460.8L254.1 460.7L254.4 460.4L254.6 460.8L254.9 460.6L255.1 460.5L255.3 460.5L255.6 460.7L255.8 460.6L256.0 460.7L256.3 461.0L256.5 460.9L256.8 460.9L257.0 460.5L257.2 461.0L257.5 461.0L257.7 460.7L258.0 460.7L258.2 460.8L258.4 461.0L258.7 461.4L258.9 460.5L259.2 460.9L259.4 460.8L259.6 460.9L259.9 461.0L260.1 460.9L260.3 460.6L260.6 460.7L260.8 460.4L261.1 461.0L261.3 460.9L261.5 460.9L261.8 460.7L262.0 460.6L262.3 461.1L262.5 460.9L262.7 461.0L263.0 461.0L263.2 460.7L263.5 460.9L263.7 460.8L263.9 460.7L264.2 460.8L264.4 460.5L264.7 460.7L264.9 460.9L265.1 461.0L265.4 460.9L265.6 460.8L265.8 460.9L266.1 461.1L266.3 461.0L266.6 461.1L266.8 460.6L267.0 460.8L267.3 461.2L267.5 461.0L267.8 460.8L268.0 460.9L268.2 461.0L268.5 461.4L268.7 460.7L269.0 461.1L269.2 460.8L269.4 460.8L269.7 461.1L269.9 461.0L270.2 461.0L270.4 461.1L270.6 461.0L270.9 461.1L271.1 460.7L271.4 460.9L271.6 461.2L271.8 461.2L272.1 461.0L272.1 460.9L272.3 461.1L272.5 461.5L272.8 460.8L273.0 461.3L273.3 461.0L273.5 461.2L273.5 461.2L273.7 461.3L274.0 461.2L274.2 460.9L274.5 460.7L274.7 461.1L274.9 461.0L275.2 461.0L275.4 461.0L275.7 461.2L275.9 461.0L276.1 461.2L276.4 461.2L276.6 461.7L276.8 461.2L277.1 461.5L277.3 461.1L277.6 461.2L277.8 461.5L278.0 461.3L278.3 461.3L278.5 461.4L278.8 461.2L279.0 461.2L279.2 461.4L279.5 461.6L279.7 461.2L280.0 461.6L280.2 461.5L280.4 461.4L280.7 461.3L280.9 461.3L281.2 461.5L281.4 461.3L281.6 461.4L281.9 461.1L282.1 461.4L282.3 461.5L282.6 461.7L282.8 461.5L283.1 461.7L283.3 461.8L283.5 461.7L283.8 461.3L284.0 461.3L284.3 461.5L284.5 461.7L284.7 461.7L285.0 461.8L285.2 461.5L285.5 461.5L285.7 461.7L285.9 461.7L286.2 461.7L286.4 461.8L286.7 461.6L286.9 461.9L287.1 461.8L287.4 461.5L287.6 461.8L287.9 461.6L288.1 461.5L288.3 461.6L288.6 461.6L288.8 461.7L289.0 461.6L289.3 461.8L289.5 462.0L289.8 461.8L290.0 461.8L290.2 462.1L290.5 461.7L290.7 461.7L291.0 462.1L291.2 462.0L291.4 461.9L291.7 462.0L291.9 461.7L292.2 462.0L292.4 461.8L292.6 462.1L292.9 462.0L293.1 461.8L293.3 462.1L293.6 462.4L293.8 461.9L294.1 461.9L294.3 461.9L294.5 461.8L294.8 462.2L295.0 462.2L295.3 462.4L295.5 462.0L295.7 462.1L296.0 462.1L296.2 461.8L296.5 462.1L296.7 462.1L296.9 462.2L297.2 462.0L297.4 462.2L297.7 462.0L297.9 461.9L298.1 462.3L298.4 462.0L298.6 462.5L298.9 462.2L299.1 462.2L299.3 462.2L299.6 462.1L299.8 461.8L300.0 462.0L300.3 462.1L300.5 462.3L300.8 462.4L301.0 462.3L301.2 462.4L301.5 462.5L301.7 462.3L302.0 462.1L302.2 462.6L302.4 462.1L302.7 462.3L302.9 461.9L303.2 462.5L303.4 462.2L303.6 462.6L303.9 462.5L304.1 462.3L304.4 462.3L304.6 462.2L304.8 462.5L305.1 462.4L305.3 462.4L305.5 462.3L305.8 462.1L306.0 462.0L306.3 462.5L306.5 462.2L306.7 462.3L307.0 462.2L307.2 462.1L307.5 462.1L307.7 462.5L307.9 462.0L308.2 462.1L308.4 462.3L308.7 462.0L308.9 462.1L309.1 462.5L309.4 462.1L309.6 461.8L309.8 462.1L310.1 462.3L310.3 461.9L310.6 462.2L310.8 461.9L311.0 461.8L311.3 462.0L311.5 462.3L311.8 461.9L312.0 461.9L312.2 462.1L312.5 461.8L312.7 462.0L313.0 462.4L313.2 461.9L313.4 462.1L313.7 462.1L313.9 461.7L314.2 462.0L314.4 461.9L314.6 462.1L314.9 462.0L315.1 461.9L315.4 461.8L315.6 461.7L315.8 461.7L316.1 462.0L316.3 461.9L316.5 461.8L316.8 461.9L317.0 461.9L317.3 461.6L317.5 461.7L317.7 461.7L318.0 461.7L318.2 461.8L318.5 462.0L318.7 461.8L318.9 461.8L319.2 461.6L319.4 461.8L319.7 461.8L319.9 461.8L320.1 461.8L320.4 461.4L320.6 461.5L320.9 461.4L321.1 461.4L321.3 461.8L321.6 461.3L321.8 461.6L322.0 461.4L322.3 461.6L322.5 461.6L322.8 461.7L323.0 461.9L323.2 461.5L323.5 461.5L323.7 461.4L324.0 461.4L324.2 461.2L324.4 461.3L324.7 461.3L324.9 461.4L325.2 461.3L325.4 461.0L325.6 461.3L325.9 461.3L326.1 461.1L326.3 461.2L326.6 461.1L326.8 460.9L327.1 461.1L327.3 461.3L327.5 460.9L327.8 461.4L328.0 460.8L328.3 461.1L328.5 461.1L328.7 460.9L329.0 461.1L329.2 461.2L329.5 461.2L329.7 460.9L329.9 461.0L330.2 461.2L330.4 460.7L330.7 460.9L330.9 460.6L331.1 460.7L331.4 460.6L331.6 460.6L331.9 460.7L332.1 460.5L332.3 460.5L332.6 460.6L332.8 460.3L333.0 460.3L333.3 460.4L333.5 460.5L333.8 460.5L334.0 460.4L334.2 460.4L334.5 460.2L334.7 460.3L335.0 460.3L335.2 460.3L335.4 460.3L335.7 460.1L335.9 460.3L336.2 460.3L336.4 460.0L336.6 460.3L336.9 460.4L337.1 460.0L337.3 460.0L337.6 460.0L337.8 460.2L338.1 460.1L338.3 460.4L338.5 460.1L338.8 460.0L339.0 460.1L339.3 459.9L339.5 459.8L339.7 460.0L340.0 459.7L340.2 459.9L340.5 459.8L340.7 459.6L340.9 459.5L341.2 460.1L341.4 459.9L341.7 460.0L341.9 459.7L342.1 459.7L342.4 459.7L342.6 459.9L342.8 459.6L343.1 459.8L343.3 459.8L343.6 459.6L343.8 459.6L344.0 459.5L344.3 459.7L344.5 459.4L344.8 459.6L345.0 459.7L345.2 459.7L345.5 459.6L345.7 459.2L346.0 459.5L346.2 459.7L346.4 459.7L346.7 459.5L346.9 459.7L347.2 459.0L347.4 459.5L347.6 459.6L347.9 459.4L348.1 459.6L348.4 459.6L348.6 459.5L348.8 459.5L349.1 459.4L349.3 459.4L349.5 459.4L349.8 459.1L350.0 459.8L350.3 459.2L350.5 459.5L350.7 459.1L351.0 459.3L351.2 459.6L351.5 459.5L351.7 459.4L351.9 459.5L352.2 459.4L352.4 459.0L352.7 459.4L352.9 459.2L353.1 459.3L353.4 459.2L353.6 459.2L353.8 459.0L354.1 458.9L354.3 459.1L354.6 459.6L354.8 459.3L355.0 458.9L355.3 459.1L355.5 459.1L355.8 459.0L356.0 459.3L356.2 459.3L356.5 459.3L356.7 459.1L357.0 459.0L357.2 458.9L357.4 459.0L357.7 459.1L357.9 458.9L358.2 459.2L358.4 459.0L358.5 459.1L358.6 459.1L358.7 459.1L358.8 459.0L358.9 459.2L359.0 459.1L359.1 459.0L359.2 458.9L359.3 459.2L359.4 458.8L359.5 458.8L359.6 458.9L359.7 458.9L359.8 458.8L359.9 459.0L360.0 459.3L360.1 459.2L360.2 458.8L360.3 459.0L360.3 458.7L360.4 458.5L360.5 456.7L360.6 454.4L360.7 453.4L360.7 452.4L360.8 450.4L360.9 448.4L361.0 446.9L361.0 446.5L361.1 444.4L361.2 443.7L361.2 445.1L361.3 446.6L361.3 447.1L361.4 448.7L361.4 449.3L361.5 450.8L361.6 451.9L361.6 452.5L361.7 454.6L361.7 454.7L361.8 456.5L361.9 457.7L361.9 458.1L362.0 460.0L362.1 462.1L362.1 461.9L362.2 463.2L362.2 463.1L362.3 463.0L362.4 462.9L362.5 462.8L362.5 462.4L362.6 462.4L362.7 462.4L362.8 462.2L362.8 462.3L362.9 462.1L363.0 462.3L363.0 462.2L363.1 462.0L363.2 461.3L363.3 461.6L363.4 461.4L363.4 461.5L363.5 461.0L363.6 461.1L363.7 461.2L363.8 461.1L363.8 461.0L363.9 461.1L363.9 460.9L364.0 460.7L364.1 461.0L364.2 460.4L364.2 460.3L364.3 460.5L364.4 460.4L364.5 460.4L364.5 460.5L364.6 460.2L364.7 460.3L364.8 460.3L364.9 460.5L365.0 460.3L365.1 460.0L365.2 460.0L365.3 460.2L365.4 459.8L365.5 460.1L365.6 460.0L365.7 460.0L365.8 460.2L365.9 459.8L366.0 459.7L366.1 459.8L366.2 459.3L366.3 460.0L366.4 459.7L366.5 459.7L366.6 459.5L366.7 459.6L366.8 459.5L366.9 459.7L367.0 459.4L367.1 459.3L367.2 459.4L367.3 459.7L367.4 459.6L367.5 459.5L367.6 459.3L367.7 459.5L367.8 459.2L367.9 459.2L368.0 459.3L368.1 459.0L368.2 459.3L368.3 459.0L368.4 458.7L368.5 459.2L368.6 458.9L368.6 458.6L368.7 458.8L368.8 459.0L368.9 458.8L369.0 459.0L369.1 458.8L369.2 458.6L369.3 458.7L369.4 458.6L369.5 458.9L369.6 458.3L369.7 458.6L369.8 458.4L369.9 458.4L370.0 458.4L370.3 458.3L370.5 458.3L370.8 458.4L371.0 458.5L371.2 458.1L371.5 458.6L371.7 458.1L372.0 458.4L372.2 458.3L372.5 458.1L372.7 458.2L373.0 458.2L373.2 458.1L373.4 458.1L373.7 458.2L373.9 458.2L374.2 458.3L374.4 458.1L374.7 457.7L374.9 458.0L375.1 457.9L375.4 458.1L375.6 458.3L375.9 458.1L376.1 458.0L376.4 458.2L376.6 458.2L376.9 458.0L377.1 457.9L377.3 458.2L377.6 457.7L377.8 458.2L378.1 458.1L378.3 458.3L378.6 457.9L378.8 458.4L379.1 458.2L379.3 458.1L379.5 458.0L379.8 458.0L380.0 458.3L380.3 458.1L380.5 458.2L380.8 458.6L381.0 457.8L381.3 458.1L381.5 458.1L381.7 458.0L382.0 458.2L382.2 458.4L382.2 458.2L382.5 458.1L382.7 458.0L383.0 458.5L383.1 458.1L383.2 458.6L383.5 458.2L383.7 458.4L383.9 458.2L384.0 458.2L384.2 458.2L384.4 458.2L384.7 458.2L384.9 458.3L385.2 458.1L385.4 458.4L385.7 458.5L385.9 458.3L386.1 458.5L386.4 458.4L386.6 458.4L386.9 458.1L387.1 458.1L387.4 458.7L387.6 458.6L387.9 458.3L388.1 458.4L388.3 458.1L388.6 458.3L388.8 458.5L389.1 458.0L389.3 458.8L389.6 458.4L389.8 458.3L390.1 458.4L390.3 458.7L390.5 458.8L390.8 458.4L391.0 458.6L391.3 458.6L391.5 458.5L391.8 458.6L392.0 458.3L392.3 458.3L392.5 458.9L392.7 458.5L393.0 458.6L393.2 458.9L393.5 458.6L393.7 458.6L394.0 458.8L394.2 458.6L394.5 458.4L394.7 458.8L394.9 458.9L395.2 458.8L395.4 458.6L395.7 458.4L395.9 458.8L396.2 458.9L396.4 458.9L396.7 458.8L396.9 458.4L397.1 458.6L397.4 459.2L397.6 458.8L397.9 458.7L398.1 458.9L398.4 458.8L398.6 458.8L398.8 458.7L399.1 458.5L399.3 459.3L399.6 458.7L399.8 458.5L400.1 458.7L400.3 458.8L400.6 458.7L400.8 458.6L401.0 458.6L401.3 458.7L401.5 459.1L401.8 458.8L402.0 458.7L402.3 459.0L402.5 459.3L402.8 458.8L403.0 458.7L403.2 459.1L403.5 458.7L403.7 459.1L404.0 458.9L404.2 458.8L404.5 459.1L404.7 458.8L405.0 459.0L405.2 458.7L405.4 459.0L405.7 458.9L405.9 458.9L406.2 459.0L406.4 459.0L406.7 459.0L406.9 458.8L407.2 459.1L407.4 459.1L407.6 459.1L407.9 459.1L408.1 458.9L408.4 459.0L408.6 459.1L408.9 459.1L409.1 459.1L409.4 458.9L409.6 459.1L409.8 458.9L410.1 458.6L410.3 459.1L410.6 458.8L410.8 459.3L411.1 459.1L411.3 458.9L411.6 459.0L411.8 459.2L412.0 459.0L412.3 458.6L412.5 459.0L412.8 459.3L413.0 459.3L413.3 459.2L413.5 459.1L413.8 458.8L414.0 459.0L414.2 458.8L414.5 459.1L414.7 459.1L415.0 458.9L415.2 459.1L415.5 458.9L415.7 458.9L416.0 459.3L416.2 459.2L416.4 459.2L416.7 459.3L416.9 459.2L417.2 459.3L417.4 459.0L417.7 459.1L417.9 459.1L418.2 459.1L418.4 459.4L418.6 459.1L418.9 459.4L419.1 458.9L419.4 459.5L419.6 459.1L419.9 459.4L420.1 459.3L420.3 459.2L420.6 459.5L420.8 459.4L421.1 459.2L421.3 459.6L421.6 459.7L421.8 459.3L422.1 459.2L422.3 459.1L422.5 459.3L422.8 459.3L423.0 459.2L423.3 459.3L423.5 459.2L423.8 459.8L424.0 459.4L424.3 459.5L424.5 459.6L424.7 459.4L425.0 459.4L425.2 459.1L425.5 459.1L425.7 459.2L426.0 459.1L426.2 459.4L426.5 459.7L426.7 459.6L426.9 459.3L427.2 459.4L427.4 459.4L427.7 459.5L427.9 459.8L428.2 459.4L428.4 459.4L428.7 459.3L428.9 459.5L429.1 459.6L429.4 459.4L429.6 459.8L429.9 459.5L430.1 459.6L430.4 459.3L430.6 459.2L430.9 459.2L431.1 459.5L431.3 459.6L431.6 459.5L431.8 459.4L432.1 459.6L432.3 460.0L432.6 459.5L432.8 459.6L433.1 459.9L433.3 459.7L433.5 459.6L433.8 459.7L434.0 459.6L434.3 459.6L434.5 459.8L434.8 459.5L435.0 459.7L435.3 459.9L435.5 459.8L435.7 459.8L436.0 459.5L436.2 459.6L436.5 459.7L436.7 459.6L437.0 459.7L437.2 459.7L437.5 459.5L437.7 459.6L437.9 459.7L438.2 459.7L438.4 459.7L438.7 459.6L438.9 459.7L439.2 459.6L439.4 460.0L439.7 459.5L439.9 459.8L440.1 459.9L440.4 459.6L440.6 459.5L440.9 459.5L441.1 459.6L441.4 459.7L441.6 459.7L441.9 459.5L442.1 459.8L442.3 459.6L442.6 459.6L442.8 459.6L443.1 460.1L443.3 459.8L443.6 460.2L443.8 459.6L444.1 459.7L444.3 459.9L444.5 460.0L444.8 459.9L445.0 460.0L445.3 459.7L445.5 459.8L445.8 459.5L446.0 460.0L446.3 460.1L446.5 459.5L446.7 460.0L447.0 460.1L447.2 459.7L447.5 459.6L447.7 459.8L448.0 459.8L448.2 459.7L448.4 460.0L448.7 459.9L448.9 459.7L449.2 459.9L449.4 459.5L449.7 460.1L449.9 460.1L450.2 460.0L450.4 460.0L450.6 459.9L450.9 459.8L451.1 459.5L451.4 460.1L451.6 460.0L451.9 460.1L452.1 459.9L452.4 460.0L452.6 460.0L452.8 460.0L453.1 459.8L453.3 460.0L453.6 459.9L453.8 460.1L454.1 459.6L454.3 459.9L454.6 459.6L454.8 459.5L455.0 459.8L455.3 460.1L455.5 459.8L455.8 460.1L456.0 459.7L456.3 460.0L456.5 459.8L456.8 459.8L457.0 460.1L457.2 459.6L457.5 459.4L457.7 460.0L458.0 459.9L458.2 460.0L458.5 459.9L458.7 459.9L459.0 459.8L459.2 459.7L459.4 459.8L459.7 460.0L459.9 460.2L460.2 459.9L460.4 459.9L460.7 459.7L460.9 459.6L461.2 459.8L461.4 459.9L461.6 459.9L461.9 459.9L462.1 459.8L462.4 460.0L462.6 459.8L462.9 460.0L463.1 460.1L463.4 459.8L463.6 459.8L463.8 459.8L464.1 460.1L464.3 460.2L464.6 460.1L464.8 459.6L465.1 459.7L465.3 459.8L465.6 459.6L465.8 459.7L466.0 459.6L466.3 459.9L466.5 459.5L466.8 459.6L467.0 460.0L467.3 459.7L467.5 459.6L467.7 459.4L468.0 459.9L468.2 459.8L468.5 459.8L468.7 460.0L469.0 459.9L469.2 459.8L469.5 460.1L469.7 459.8L469.9 460.0L470.2 460.0L470.4 460.0L470.7 459.7L470.9 459.7L471.2 459.9L471.4 459.9L471.7 460.3L471.9 459.9L472.1 459.6L472.4 459.8L472.6 459.7L472.9 459.8L473.1 460.0L473.4 459.9L473.6 459.6L473.9 459.7L474.1 460.0L474.3 460.0L474.6 459.7L474.8 459.8L475.1 459.6L475.3 460.0L475.6 460.2L475.8 459.9L476.1 460.1L476.3 460.0L476.5 459.9L476.8 459.9L477.0 459.5L477.3 459.7L477.5 459.9L477.8 460.0L478.0 459.6L478.3 459.9L478.5 460.1L478.7 459.8L479.0 460.0L479.2 459.8L479.5 459.6L479.7 460.1L480.0 459.8L480.2 459.9L480.5 459.9L480.7 459.7L480.9 460.3L481.2 460.0L481.4 459.6L481.7 460.0L481.9 460.1L482.2 460.0L482.4 459.9L482.7 459.8L482.9 459.7L483.1 459.6L483.4 459.8L483.6 459.8L483.9 459.8L484.1 460.1L484.4 459.8L484.6 459.6L484.9 460.0L485.1 459.8L485.3 459.7L485.6 459.9L485.8 459.9L486.1 460.1L486.3 460.0L486.6 459.8L486.8 459.6L487.1 460.1L487.3 459.7L487.5 459.9L487.8 460.1L488.0 460.3L488.3 460.0L488.5 459.8L488.8 460.1L489.0 459.9L489.3 459.9L489.5 459.8L489.7 459.9L490.0 459.9L490.2 459.8L490.5 459.8L490.7 460.0L491.0 460.0L491.2 460.0L491.5 460.3L491.7 459.9L491.9 460.1L492.2 459.8L492.4 459.9L492.7 459.9L492.9 460.1L493.2 459.9L493.4 459.9L493.7 460.2L493.9 460.3L494.1 460.2L494.4 459.9L494.6 459.9L494.9 459.9L495.1 459.8L495.4 459.8L495.6 460.2L495.9 460.1L496.1 460.0L496.3 459.9L496.6 459.8L496.8 460.1L497.1 459.7L497.3 459.9L497.6 459.9L497.8 460.0L498.0 459.9L498.3 460.3L498.5 460.1L498.8 460.1L499.0 459.9L499.3 459.9L499.5 460.0L499.8 459.3L500.0 460.5L500.2 460.1L500.5 459.6L500.7 459.8L501.0 460.3L501.2 459.8L501.5 459.9L501.7 459.7L502.0 459.7L502.2 460.0L502.4 460.1L502.7 460.0L502.9 460.0L503.2 460.2L503.4 460.0L503.7 460.0L503.9 460.1L504.2 460.5L504.4 459.9L504.6 460.1L504.9 460.1L505.1 459.8L505.4 460.2L505.6 459.8L505.9 460.0L506.1 460.3L506.4 460.0L506.6 460.1" stroke="#000000" stroke-width="1.30" stroke-dasharray="7.90 4.90" stroke-dashoffset="0.00"/>
</g>
<text x="215.90" y="591.50" text-anchor="middle" font-size="9.90" font-weight="bold" fill="#161616" stroke="#161616" stroke-width="0.05" letter-spacing="-0.5">0</text>
<text x="274.02" y="591.50" text-anchor="middle" font-size="9.90" font-weight="bold" fill="#161616" stroke="#161616" stroke-width="0.05" letter-spacing="-0.5">2</text>
<text x="332.14" y="591.50" text-anchor="middle" font-size="9.90" font-weight="bold" fill="#161616" stroke="#161616" stroke-width="0.05" letter-spacing="-0.5">4</text>
<text x="390.26" y="591.50" text-anchor="middle" font-size="9.90" font-weight="bold" fill="#161616" stroke="#161616" stroke-width="0.05" letter-spacing="-0.5">6</text>
<text x="448.38" y="591.50" text-anchor="middle" font-size="9.90" font-weight="bold" fill="#161616" stroke="#161616" stroke-width="0.05" letter-spacing="-0.5">8</text>
<text x="506.50" y="591.50" text-anchor="middle" font-size="9.90" font-weight="bold" fill="#161616" stroke="#161616" stroke-width="0.05" letter-spacing="-0.5">10</text>
<text x="211.60" y="343.15" text-anchor="end" font-size="9.90" font-weight="bold" fill="#161616" stroke="#161616" stroke-width="0.05" letter-spacing="-0.5">20</text>
<text x="211.60" y="373.06" text-anchor="end" font-size="9.90" font-weight="bold" fill="#161616" stroke="#161616" stroke-width="0.05" letter-spacing="-0.5">15</text>
<text x="211.60" y="402.96" text-anchor="end" font-size="9.90" font-weight="bold" fill="#161616" stroke="#161616" stroke-width="0.05" letter-spacing="-0.5">10</text>
<text x="211.60" y="432.87" text-anchor="end" font-size="9.90" font-weight="bold" fill="#161616" stroke="#161616" stroke-width="0.05" letter-spacing="-0.5">5</text>
<text x="211.60" y="462.77" text-anchor="end" font-size="9.90" font-weight="bold" fill="#161616" stroke="#161616" stroke-width="0.05" letter-spacing="-0.5">0</text>
<text x="211.60" y="492.68" text-anchor="end" font-size="9.90" font-weight="bold" fill="#161616" stroke="#161616" stroke-width="0.05" letter-spacing="-0.5">-5</text>
<text x="211.60" y="522.59" text-anchor="end" font-size="9.90" font-weight="bold" fill="#161616" stroke="#161616" stroke-width="0.05" letter-spacing="-0.5">-10</text>
<text x="211.60" y="552.49" text-anchor="end" font-size="9.90" font-weight="bold" fill="#161616" stroke="#161616" stroke-width="0.05" letter-spacing="-0.5">-15</text>
<text x="211.60" y="582.40" text-anchor="end" font-size="9.90" font-weight="bold" fill="#161616" stroke="#161616" stroke-width="0.05" letter-spacing="-0.5">-20</text>
<text x="361.10" y="603.70" text-anchor="middle" font-size="10.40" font-weight="bold" fill="#161616" stroke="#161616" stroke-width="0.05">time(s)</text>
<g transform="translate(194.80,459.20) rotate(-90)"><text x="0.00" y="0.00" text-anchor="middle" font-size="10.40" font-weight="bold" fill="#161616" stroke="#161616" stroke-width="0.05">Control effort (A)</text></g>
<rect x="375.30" y="345.50" width="125.20" height="44.30" fill="#fff" stroke="#3a3a3a" stroke-width="1"/>
<line x1="378.10" y1="352.20" x2="401.90" y2="352.20" stroke="#0000ff" stroke-width="1.10"/>
<g transform="translate(404.60,355.01) scale(1.053,1)"><text x="0.00" y="0.00" text-anchor="start" font-size="8.40" font-weight="bold" fill="#161616" stroke="#161616" stroke-width="0.10">Predefined time, Ts = 1</text></g>
<line x1="378.10" y1="362.60" x2="401.90" y2="362.60" stroke="#ff0000" stroke-width="1.20" stroke-dasharray="0.90 0.85"/>
<g transform="translate(404.60,365.41) scale(1.053,1)"><text x="0.00" y="0.00" text-anchor="start" font-size="8.40" font-weight="bold" fill="#161616" stroke="#161616" stroke-width="0.10">Predefined time, Ts = 1.5</text></g>
<line x1="378.10" y1="373.00" x2="401.90" y2="373.00" stroke="#00f800" stroke-width="1.20" stroke-dasharray="5.20 1.10 1.10 1.10"/>
<g transform="translate(404.60,375.81) scale(1.053,1)"><text x="0.00" y="0.00" text-anchor="start" font-size="8.40" font-weight="bold" fill="#161616" stroke="#161616" stroke-width="0.10">Predefined time, Ts = 2</text></g>
<line x1="378.10" y1="383.40" x2="401.90" y2="383.40" stroke="#000000" stroke-width="1.30" stroke-dasharray="7.90 4.90" stroke-dashoffset="3.60"/>
<g transform="translate(404.60,386.21) scale(1.053,1)"><text x="0.00" y="0.00" text-anchor="start" font-size="8.40" font-weight="bold" fill="#161616" stroke="#161616" stroke-width="0.10">Predefined time, Ts = 3</text></g>
<text x="363.50" y="624.50" text-anchor="middle" font-size="17.30" font-weight="bold" fill="#161616" stroke="#161616" stroke-width="0.45" font-family='"Liberation Sans", "DejaVu Sans", sans-serif' letter-spacing="-0.60">(c)</text>
</g>
</svg>
</body></html>
